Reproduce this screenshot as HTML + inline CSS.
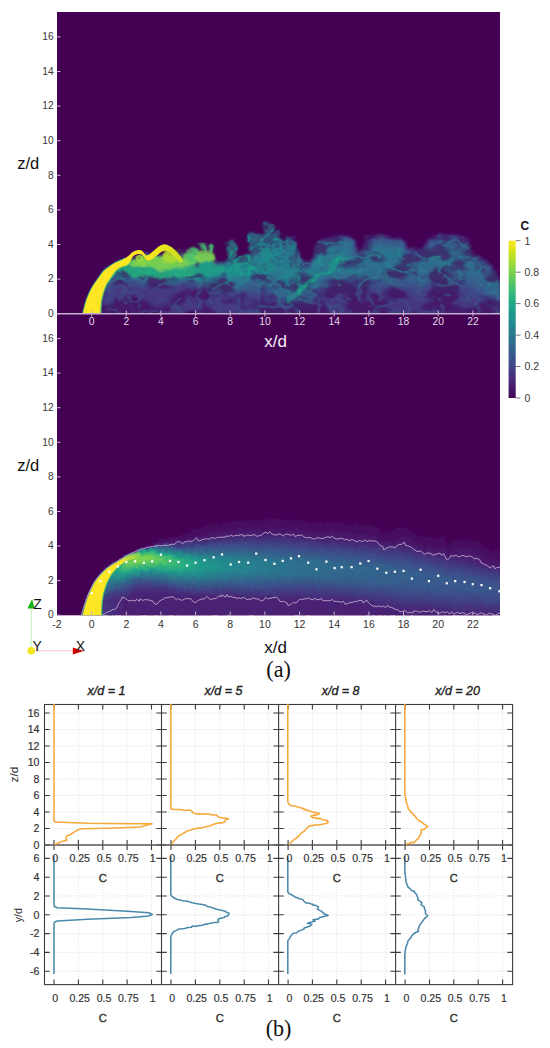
<!DOCTYPE html>
<html><head><meta charset="utf-8"><title>figure</title>
<style>html,body{margin:0;padding:0;background:#fff;width:550px;height:1048px;overflow:hidden}svg{display:block}</style>
</head><body>
<svg width="550" height="1048" viewBox="0 0 550 1048">
<defs><clipPath id="cA"><rect x="57" y="12" width="443" height="301.7"/></clipPath><clipPath id="cB"><rect x="57" y="314.5" width="443" height="300.8"/></clipPath><filter id="turb" x="57" y="150" width="443" height="170" filterUnits="userSpaceOnUse"><feTurbulence type="fractalNoise" baseFrequency="0.045 0.06" numOctaves="2" seed="3" result="n"/><feDisplacementMap in="SourceGraphic" in2="n" scale="13" xChannelSelector="R" yChannelSelector="G" result="d0"/><feGaussianBlur in="d0" stdDeviation="0.8" result="d"/><feTurbulence type="fractalNoise" baseFrequency="0.035 0.05" numOctaves="3" seed="11" result="n2"/><feColorMatrix in="n2" type="matrix" values="0 0 0 0 0  0 0 0 0 0  0 0 0 0 0  5 0 0 0 -1.9" result="m"/><feComposite in="d" in2="m" operator="in" result="dm"/><feTurbulence type="turbulence" baseFrequency="0.05 0.07" numOctaves="2" seed="17" result="n3"/><feColorMatrix in="n3" type="matrix" values="0 0 0 0 0  0 0 0 0 0  0 0 0 0 0  -7 0 0 0 1.3" result="v"/><feColorMatrix in="d" type="matrix" values="0.8 0 0 0 0  0 1.28 0 0 0.02  0 0 1.02 0 0  0 0 0 1 0" result="db"/><feComposite in="db" in2="v" operator="in" result="dv"/><feComponentTransfer in="d" result="dh"><feFuncA type="linear" slope="0.45"/></feComponentTransfer><feComponentTransfer in="dv" result="dv2"><feFuncA type="linear" slope="0.75"/></feComponentTransfer><feMerge result="mm"><feMergeNode in="dh"/><feMergeNode in="dm"/><feMergeNode in="dv2"/></feMerge><feGaussianBlur in="mm" stdDeviation="0.5"/></filter><filter id="feat" x="57" y="150" width="443" height="170" filterUnits="userSpaceOnUse"><feTurbulence type="fractalNoise" baseFrequency="0.08" numOctaves="2" seed="5" result="n"/><feDisplacementMap in="SourceGraphic" in2="n" scale="4" xChannelSelector="R" yChannelSelector="G" result="d"/><feGaussianBlur in="d" stdDeviation="0.9"/></filter><filter id="bl2" x="57" y="150" width="443" height="170" filterUnits="userSpaceOnUse"><feGaussianBlur stdDeviation="1.1" result="b"/><feTurbulence type="fractalNoise" baseFrequency="0.07 0.09" numOctaves="2" seed="21" result="n"/><feDisplacementMap in="b" in2="n" scale="10" xChannelSelector="R" yChannelSelector="G" result="d"/><feTurbulence type="turbulence" baseFrequency="0.08 0.1" numOctaves="2" seed="29" result="n4"/><feColorMatrix in="n4" type="matrix" values="0 0 0 0 0  0 0 0 0 0  0 0 0 0 0  -5 0 0 0 1.4" result="v4"/><feColorMatrix in="d" type="matrix" values="0.85 0 0 0 0  0 1.15 0 0 0.02  0 0 1.0 0 0  0 0 0 1 0" result="db"/><feComposite in="db" in2="v4" operator="in" result="dv"/><feComponentTransfer in="d" result="dh"><feFuncA type="linear" slope="0.72"/></feComponentTransfer><feMerge result="mm"><feMergeNode in="dh"/><feMergeNode in="dv"/></feMerge><feGaussianBlur in="mm" stdDeviation="0.6"/></filter><linearGradient id="g1" x2="0" y2="1"><stop offset="0.000" stop-color="#450457"/><stop offset="0.200" stop-color="#482374"/><stop offset="0.640" stop-color="#471365"/><stop offset="1.000" stop-color="#471365"/></linearGradient><linearGradient id="g2" x2="0" y2="1"><stop offset="0.000" stop-color="#440154"/><stop offset="0.024" stop-color="#450559"/><stop offset="0.098" stop-color="#443b84"/><stop offset="0.146" stop-color="#355e8d"/><stop offset="0.268" stop-color="#39558c"/><stop offset="0.415" stop-color="#463480"/><stop offset="1.000" stop-color="#463480"/></linearGradient><linearGradient id="g3" x2="0" y2="1"><stop offset="0.000" stop-color="#440154"/><stop offset="0.020" stop-color="#46085c"/><stop offset="0.061" stop-color="#472f7d"/><stop offset="0.102" stop-color="#32658e"/><stop offset="0.143" stop-color="#2a788e"/><stop offset="0.224" stop-color="#2a768e"/><stop offset="0.388" stop-color="#414287"/><stop offset="1.000" stop-color="#414287"/></linearGradient><linearGradient id="g4" x2="0" y2="1"><stop offset="0.000" stop-color="#450457"/><stop offset="0.040" stop-color="#482979"/><stop offset="0.080" stop-color="#355f8d"/><stop offset="0.100" stop-color="#2a768e"/><stop offset="0.160" stop-color="#26828e"/><stop offset="0.280" stop-color="#306a8e"/><stop offset="0.380" stop-color="#424186"/><stop offset="1.000" stop-color="#424186"/></linearGradient><linearGradient id="g5" x2="0" y2="1"><stop offset="0.000" stop-color="#440154"/><stop offset="0.019" stop-color="#470d60"/><stop offset="0.058" stop-color="#443b84"/><stop offset="0.096" stop-color="#2b748e"/><stop offset="0.135" stop-color="#24868e"/><stop offset="0.212" stop-color="#25848e"/><stop offset="0.385" stop-color="#3f4889"/><stop offset="0.423" stop-color="#423f85"/><stop offset="1.000" stop-color="#423f85"/></linearGradient><linearGradient id="g6" x2="0" y2="1"><stop offset="0.000" stop-color="#450559"/><stop offset="0.038" stop-color="#46337f"/><stop offset="0.075" stop-color="#2e6d8e"/><stop offset="0.094" stop-color="#25858e"/><stop offset="0.170" stop-color="#218f8d"/><stop offset="0.283" stop-color="#2b748e"/><stop offset="0.415" stop-color="#433e85"/><stop offset="1.000" stop-color="#433e85"/></linearGradient><linearGradient id="g7" x2="0" y2="1"><stop offset="0.000" stop-color="#440154"/><stop offset="0.036" stop-color="#472a7a"/><stop offset="0.073" stop-color="#32658e"/><stop offset="0.091" stop-color="#26828e"/><stop offset="0.127" stop-color="#1f948c"/><stop offset="0.218" stop-color="#218f8d"/><stop offset="0.382" stop-color="#3a538b"/><stop offset="0.436" stop-color="#443b84"/><stop offset="1.000" stop-color="#443b84"/></linearGradient><linearGradient id="g8" x2="0" y2="1"><stop offset="0.000" stop-color="#440256"/><stop offset="0.036" stop-color="#453882"/><stop offset="0.071" stop-color="#2b748e"/><stop offset="0.089" stop-color="#20928c"/><stop offset="0.161" stop-color="#1e9c89"/><stop offset="0.268" stop-color="#25848e"/><stop offset="0.446" stop-color="#443a83"/><stop offset="1.000" stop-color="#443a83"/></linearGradient><linearGradient id="g9" x2="0" y2="1"><stop offset="0.000" stop-color="#440154"/><stop offset="0.018" stop-color="#471164"/><stop offset="0.053" stop-color="#3e4989"/><stop offset="0.088" stop-color="#24878e"/><stop offset="0.123" stop-color="#1e9b8a"/><stop offset="0.211" stop-color="#1f998a"/><stop offset="0.368" stop-color="#34608d"/><stop offset="0.456" stop-color="#443a83"/><stop offset="1.000" stop-color="#443a83"/></linearGradient><linearGradient id="g10" x2="0" y2="1"><stop offset="0.000" stop-color="#440154"/><stop offset="0.017" stop-color="#46075a"/><stop offset="0.052" stop-color="#443b84"/><stop offset="0.086" stop-color="#29798e"/><stop offset="0.103" stop-color="#20928c"/><stop offset="0.172" stop-color="#1fa187"/><stop offset="0.276" stop-color="#228b8d"/><stop offset="0.448" stop-color="#423f85"/><stop offset="0.552" stop-color="#443983"/><stop offset="1.000" stop-color="#443983"/></linearGradient><linearGradient id="g11" x2="0" y2="1"><stop offset="0.000" stop-color="#440154"/><stop offset="0.034" stop-color="#472f7d"/><stop offset="0.069" stop-color="#2f6c8e"/><stop offset="0.086" stop-color="#228c8d"/><stop offset="0.138" stop-color="#1fa287"/><stop offset="0.224" stop-color="#1e9c89"/><stop offset="0.397" stop-color="#39558c"/><stop offset="0.466" stop-color="#443983"/><stop offset="1.000" stop-color="#443983"/></linearGradient><linearGradient id="g12" x2="0" y2="1"><stop offset="0.000" stop-color="#440154"/><stop offset="0.017" stop-color="#460a5d"/><stop offset="0.051" stop-color="#423f85"/><stop offset="0.085" stop-color="#277e8e"/><stop offset="0.102" stop-color="#20938c"/><stop offset="0.153" stop-color="#21a685"/><stop offset="0.254" stop-color="#1f978b"/><stop offset="0.424" stop-color="#3e4c8a"/><stop offset="0.475" stop-color="#453882"/><stop offset="1.000" stop-color="#453882"/></linearGradient><linearGradient id="g13" x2="0" y2="1"><stop offset="0.000" stop-color="#440256"/><stop offset="0.034" stop-color="#46327e"/><stop offset="0.068" stop-color="#2d708e"/><stop offset="0.085" stop-color="#218f8d"/><stop offset="0.153" stop-color="#23a983"/><stop offset="0.254" stop-color="#1f988b"/><stop offset="0.424" stop-color="#3e4a89"/><stop offset="0.475" stop-color="#453882"/><stop offset="1.000" stop-color="#453882"/></linearGradient><linearGradient id="g14" x2="0" y2="1"><stop offset="0.000" stop-color="#440154"/><stop offset="0.017" stop-color="#470e61"/><stop offset="0.050" stop-color="#414287"/><stop offset="0.083" stop-color="#26828e"/><stop offset="0.117" stop-color="#1f9e89"/><stop offset="0.167" stop-color="#25ac82"/><stop offset="0.250" stop-color="#1f9e89"/><stop offset="0.417" stop-color="#3b518b"/><stop offset="0.467" stop-color="#443983"/><stop offset="1.000" stop-color="#453882"/></linearGradient><linearGradient id="g15" x2="0" y2="1"><stop offset="0.000" stop-color="#450457"/><stop offset="0.033" stop-color="#46337f"/><stop offset="0.067" stop-color="#2d708e"/><stop offset="0.083" stop-color="#228c8d"/><stop offset="0.150" stop-color="#25ac82"/><stop offset="0.233" stop-color="#20a386"/><stop offset="0.350" stop-color="#2c738e"/><stop offset="0.483" stop-color="#453781"/><stop offset="1.000" stop-color="#453781"/></linearGradient><linearGradient id="g16" x2="0" y2="1"><stop offset="0.000" stop-color="#440154"/><stop offset="0.016" stop-color="#470d60"/><stop offset="0.049" stop-color="#433d84"/><stop offset="0.082" stop-color="#297b8e"/><stop offset="0.115" stop-color="#1f988b"/><stop offset="0.180" stop-color="#26ad81"/><stop offset="0.279" stop-color="#1f9a8a"/><stop offset="0.443" stop-color="#3d4d8a"/><stop offset="0.492" stop-color="#453781"/><stop offset="1.000" stop-color="#453781"/></linearGradient><linearGradient id="g17" x2="0" y2="1"><stop offset="0.000" stop-color="#440256"/><stop offset="0.033" stop-color="#472d7b"/><stop offset="0.066" stop-color="#31668e"/><stop offset="0.082" stop-color="#25838e"/><stop offset="0.148" stop-color="#22a785"/><stop offset="0.213" stop-color="#25ab82"/><stop offset="0.311" stop-color="#218e8d"/><stop offset="0.475" stop-color="#424086"/><stop offset="0.541" stop-color="#453781"/><stop offset="1.000" stop-color="#453781"/></linearGradient><linearGradient id="g18" x2="0" y2="1"><stop offset="0.000" stop-color="#440154"/><stop offset="0.016" stop-color="#460a5d"/><stop offset="0.048" stop-color="#453581"/><stop offset="0.081" stop-color="#2d718e"/><stop offset="0.113" stop-color="#21908d"/><stop offset="0.177" stop-color="#25ac82"/><stop offset="0.274" stop-color="#1fa188"/><stop offset="0.419" stop-color="#33628d"/><stop offset="0.516" stop-color="#453781"/><stop offset="1.000" stop-color="#453781"/></linearGradient><linearGradient id="g19" x2="0" y2="1"><stop offset="0.000" stop-color="#440154"/><stop offset="0.032" stop-color="#482677"/><stop offset="0.065" stop-color="#365d8d"/><stop offset="0.081" stop-color="#297a8e"/><stop offset="0.145" stop-color="#1fa287"/><stop offset="0.210" stop-color="#26ad81"/><stop offset="0.306" stop-color="#1f968b"/><stop offset="0.484" stop-color="#404588"/><stop offset="0.532" stop-color="#453781"/><stop offset="1.000" stop-color="#453781"/></linearGradient><linearGradient id="g20" x2="0" y2="1"><stop offset="0.000" stop-color="#440154"/><stop offset="0.016" stop-color="#46075a"/><stop offset="0.048" stop-color="#472f7d"/><stop offset="0.079" stop-color="#31678e"/><stop offset="0.111" stop-color="#24878e"/><stop offset="0.175" stop-color="#22a884"/><stop offset="0.254" stop-color="#23a983"/><stop offset="0.349" stop-color="#238a8d"/><stop offset="0.508" stop-color="#424086"/><stop offset="0.571" stop-color="#453781"/><stop offset="1.000" stop-color="#453781"/></linearGradient><linearGradient id="g21" x2="0" y2="1"><stop offset="0.000" stop-color="#440154"/><stop offset="0.032" stop-color="#482173"/><stop offset="0.063" stop-color="#3a538b"/><stop offset="0.079" stop-color="#2d718e"/><stop offset="0.159" stop-color="#1fa287"/><stop offset="0.222" stop-color="#26ad81"/><stop offset="0.333" stop-color="#20928c"/><stop offset="0.508" stop-color="#414487"/><stop offset="0.556" stop-color="#453781"/><stop offset="1.000" stop-color="#453781"/></linearGradient><linearGradient id="g22" x2="0" y2="1"><stop offset="0.000" stop-color="#440154"/><stop offset="0.016" stop-color="#450559"/><stop offset="0.062" stop-color="#424186"/><stop offset="0.094" stop-color="#2c728e"/><stop offset="0.172" stop-color="#1fa187"/><stop offset="0.234" stop-color="#25ab82"/><stop offset="0.344" stop-color="#21918c"/><stop offset="0.516" stop-color="#404588"/><stop offset="0.562" stop-color="#453781"/><stop offset="1.000" stop-color="#453781"/></linearGradient><linearGradient id="g23" x2="0" y2="1"><stop offset="0.000" stop-color="#440154"/><stop offset="0.031" stop-color="#481c6e"/><stop offset="0.062" stop-color="#3e4989"/><stop offset="0.078" stop-color="#32658e"/><stop offset="0.172" stop-color="#1fa088"/><stop offset="0.250" stop-color="#22a785"/><stop offset="0.375" stop-color="#25838e"/><stop offset="0.562" stop-color="#453781"/><stop offset="1.000" stop-color="#453781"/></linearGradient><linearGradient id="g24" x2="0" y2="1"><stop offset="0.000" stop-color="#450457"/><stop offset="0.047" stop-color="#443983"/><stop offset="0.078" stop-color="#31688e"/><stop offset="0.172" stop-color="#1e9d89"/><stop offset="0.234" stop-color="#21a585"/><stop offset="0.359" stop-color="#23898e"/><stop offset="0.531" stop-color="#424086"/><stop offset="0.594" stop-color="#453781"/><stop offset="1.000" stop-color="#453781"/></linearGradient><linearGradient id="g25" x2="0" y2="1"><stop offset="0.000" stop-color="#440154"/><stop offset="0.031" stop-color="#48186a"/><stop offset="0.062" stop-color="#424086"/><stop offset="0.077" stop-color="#375a8c"/><stop offset="0.169" stop-color="#1f958b"/><stop offset="0.246" stop-color="#20a386"/><stop offset="0.369" stop-color="#23888e"/><stop offset="0.554" stop-color="#443b84"/><stop offset="1.000" stop-color="#453781"/></linearGradient><linearGradient id="g26" x2="0" y2="1"><stop offset="0.000" stop-color="#440256"/><stop offset="0.046" stop-color="#46307e"/><stop offset="0.077" stop-color="#355e8d"/><stop offset="0.185" stop-color="#1f998a"/><stop offset="0.262" stop-color="#1fa088"/><stop offset="0.400" stop-color="#287c8e"/><stop offset="0.569" stop-color="#453781"/><stop offset="1.000" stop-color="#453781"/></linearGradient><linearGradient id="g27" x2="0" y2="1"><stop offset="0.000" stop-color="#440154"/><stop offset="0.030" stop-color="#481467"/><stop offset="0.076" stop-color="#3c4f8a"/><stop offset="0.167" stop-color="#228b8d"/><stop offset="0.242" stop-color="#1f9f88"/><stop offset="0.364" stop-color="#238a8d"/><stop offset="0.561" stop-color="#433e85"/><stop offset="0.652" stop-color="#453781"/><stop offset="1.000" stop-color="#453781"/></linearGradient><linearGradient id="g28" x2="0" y2="1"><stop offset="0.000" stop-color="#440154"/><stop offset="0.045" stop-color="#482878"/><stop offset="0.076" stop-color="#3a538b"/><stop offset="0.182" stop-color="#21908d"/><stop offset="0.258" stop-color="#1e9c89"/><stop offset="0.379" stop-color="#25848e"/><stop offset="0.576" stop-color="#443a83"/><stop offset="1.000" stop-color="#453781"/></linearGradient><linearGradient id="g29" x2="0" y2="1"><stop offset="0.000" stop-color="#450457"/><stop offset="0.046" stop-color="#46327e"/><stop offset="0.077" stop-color="#365c8d"/><stop offset="0.185" stop-color="#20928c"/><stop offset="0.262" stop-color="#1f998a"/><stop offset="0.400" stop-color="#297b8e"/><stop offset="0.585" stop-color="#453781"/><stop offset="1.000" stop-color="#453781"/></linearGradient><linearGradient id="g30" x2="0" y2="1"><stop offset="0.000" stop-color="#440154"/><stop offset="0.031" stop-color="#481769"/><stop offset="0.077" stop-color="#3a548c"/><stop offset="0.169" stop-color="#23898e"/><stop offset="0.246" stop-color="#1f988b"/><stop offset="0.369" stop-color="#25858e"/><stop offset="0.585" stop-color="#443a83"/><stop offset="1.000" stop-color="#453781"/></linearGradient><linearGradient id="g31" x2="0" y2="1"><stop offset="0.000" stop-color="#440154"/><stop offset="0.047" stop-color="#46337f"/><stop offset="0.078" stop-color="#34608d"/><stop offset="0.188" stop-color="#21918c"/><stop offset="0.281" stop-color="#20938c"/><stop offset="0.438" stop-color="#2e6f8e"/><stop offset="0.609" stop-color="#453781"/><stop offset="1.000" stop-color="#453781"/></linearGradient><linearGradient id="g32" x2="0" y2="1"><stop offset="0.000" stop-color="#440154"/><stop offset="0.016" stop-color="#46075a"/><stop offset="0.062" stop-color="#433e85"/><stop offset="0.094" stop-color="#31668e"/><stop offset="0.203" stop-color="#20928c"/><stop offset="0.328" stop-color="#228c8d"/><stop offset="0.562" stop-color="#404588"/><stop offset="0.625" stop-color="#453781"/><stop offset="1.000" stop-color="#453781"/></linearGradient><linearGradient id="g33" x2="0" y2="1"><stop offset="0.000" stop-color="#440154"/><stop offset="0.048" stop-color="#46337f"/><stop offset="0.079" stop-color="#33628d"/><stop offset="0.175" stop-color="#228b8d"/><stop offset="0.270" stop-color="#20928c"/><stop offset="0.444" stop-color="#2f6c8e"/><stop offset="0.619" stop-color="#453781"/><stop offset="1.000" stop-color="#453781"/></linearGradient><linearGradient id="g34" x2="0" y2="1"><stop offset="0.000" stop-color="#450457"/><stop offset="0.048" stop-color="#433e85"/><stop offset="0.081" stop-color="#30698e"/><stop offset="0.194" stop-color="#218f8d"/><stop offset="0.323" stop-color="#23888e"/><stop offset="0.581" stop-color="#423f85"/><stop offset="0.645" stop-color="#453781"/><stop offset="1.000" stop-color="#453781"/></linearGradient><linearGradient id="g35" x2="0" y2="1"><stop offset="0.000" stop-color="#440154"/><stop offset="0.016" stop-color="#46075a"/><stop offset="0.065" stop-color="#414487"/><stop offset="0.097" stop-color="#2f6c8e"/><stop offset="0.194" stop-color="#228c8d"/><stop offset="0.323" stop-color="#23888e"/><stop offset="0.565" stop-color="#3f4788"/><stop offset="0.629" stop-color="#453882"/><stop offset="1.000" stop-color="#453882"/></linearGradient><linearGradient id="g36" x2="0" y2="1"><stop offset="0.000" stop-color="#440154"/><stop offset="0.016" stop-color="#46075a"/><stop offset="0.066" stop-color="#414487"/><stop offset="0.098" stop-color="#2f6c8e"/><stop offset="0.197" stop-color="#238a8d"/><stop offset="0.328" stop-color="#25858e"/><stop offset="0.574" stop-color="#404588"/><stop offset="0.639" stop-color="#453882"/><stop offset="1.000" stop-color="#453882"/></linearGradient><linearGradient id="g37" x2="0" y2="1"><stop offset="0.000" stop-color="#440154"/><stop offset="0.017" stop-color="#46075a"/><stop offset="0.067" stop-color="#414287"/><stop offset="0.100" stop-color="#2f6c8e"/><stop offset="0.200" stop-color="#23898e"/><stop offset="0.333" stop-color="#26828e"/><stop offset="0.583" stop-color="#414287"/><stop offset="0.633" stop-color="#453882"/><stop offset="1.000" stop-color="#453882"/></linearGradient><linearGradient id="g38" x2="0" y2="1"><stop offset="0.000" stop-color="#440154"/><stop offset="0.017" stop-color="#450559"/><stop offset="0.068" stop-color="#414287"/><stop offset="0.102" stop-color="#2f6c8e"/><stop offset="0.203" stop-color="#24878e"/><stop offset="0.356" stop-color="#287d8e"/><stop offset="0.627" stop-color="#443983"/><stop offset="1.000" stop-color="#443983"/></linearGradient><linearGradient id="g39" x2="0" y2="1"><stop offset="0.000" stop-color="#450559"/><stop offset="0.053" stop-color="#424186"/><stop offset="0.088" stop-color="#2f6c8e"/><stop offset="0.193" stop-color="#25858e"/><stop offset="0.333" stop-color="#287d8e"/><stop offset="0.632" stop-color="#443983"/><stop offset="1.000" stop-color="#443983"/></linearGradient><linearGradient id="g40" x2="0" y2="1"><stop offset="0.000" stop-color="#450457"/><stop offset="0.054" stop-color="#424186"/><stop offset="0.089" stop-color="#2f6c8e"/><stop offset="0.214" stop-color="#25848e"/><stop offset="0.411" stop-color="#2e6e8e"/><stop offset="0.625" stop-color="#443a83"/><stop offset="1.000" stop-color="#443a83"/></linearGradient><linearGradient id="g41" x2="0" y2="1"><stop offset="0.000" stop-color="#440256"/><stop offset="0.055" stop-color="#424086"/><stop offset="0.091" stop-color="#2f6c8e"/><stop offset="0.200" stop-color="#26828e"/><stop offset="0.364" stop-color="#2b758e"/><stop offset="0.636" stop-color="#443a83"/><stop offset="1.000" stop-color="#443a83"/></linearGradient><linearGradient id="g42" x2="0" y2="1"><stop offset="0.000" stop-color="#440154"/><stop offset="0.055" stop-color="#433d84"/><stop offset="0.091" stop-color="#2f6b8e"/><stop offset="0.200" stop-color="#26818e"/><stop offset="0.364" stop-color="#2b758e"/><stop offset="0.636" stop-color="#443a83"/><stop offset="1.000" stop-color="#443a83"/></linearGradient><linearGradient id="g43" x2="0" y2="1"><stop offset="0.000" stop-color="#440154"/><stop offset="0.055" stop-color="#433d84"/><stop offset="0.091" stop-color="#2f6b8e"/><stop offset="0.200" stop-color="#26818e"/><stop offset="0.382" stop-color="#2c728e"/><stop offset="0.636" stop-color="#443b84"/><stop offset="1.000" stop-color="#443b84"/></linearGradient><linearGradient id="g44" x2="0" y2="1"><stop offset="0.000" stop-color="#440154"/><stop offset="0.055" stop-color="#433e85"/><stop offset="0.091" stop-color="#2f6c8e"/><stop offset="0.200" stop-color="#26818e"/><stop offset="0.382" stop-color="#2c728e"/><stop offset="0.636" stop-color="#443b84"/><stop offset="1.000" stop-color="#443b84"/></linearGradient><linearGradient id="g45" x2="0" y2="1"><stop offset="0.000" stop-color="#440154"/><stop offset="0.055" stop-color="#433e85"/><stop offset="0.091" stop-color="#2f6c8e"/><stop offset="0.218" stop-color="#26818e"/><stop offset="0.418" stop-color="#2f6c8e"/><stop offset="0.636" stop-color="#443b84"/><stop offset="1.000" stop-color="#443b84"/></linearGradient><linearGradient id="g46" x2="0" y2="1"><stop offset="0.000" stop-color="#440154"/><stop offset="0.055" stop-color="#433e85"/><stop offset="0.091" stop-color="#2f6c8e"/><stop offset="0.218" stop-color="#27808e"/><stop offset="0.400" stop-color="#2d708e"/><stop offset="0.655" stop-color="#433d84"/><stop offset="1.000" stop-color="#433d84"/></linearGradient><linearGradient id="g47" x2="0" y2="1"><stop offset="0.000" stop-color="#440154"/><stop offset="0.055" stop-color="#423f85"/><stop offset="0.091" stop-color="#2f6c8e"/><stop offset="0.218" stop-color="#27808e"/><stop offset="0.436" stop-color="#30698e"/><stop offset="0.655" stop-color="#433d84"/><stop offset="1.000" stop-color="#433d84"/></linearGradient><linearGradient id="g48" x2="0" y2="1"><stop offset="0.000" stop-color="#450457"/><stop offset="0.055" stop-color="#414287"/><stop offset="0.091" stop-color="#2e6d8e"/><stop offset="0.218" stop-color="#277f8e"/><stop offset="0.400" stop-color="#2d708e"/><stop offset="0.655" stop-color="#433e85"/><stop offset="1.000" stop-color="#433e85"/></linearGradient><linearGradient id="g49" x2="0" y2="1"><stop offset="0.000" stop-color="#450457"/><stop offset="0.054" stop-color="#424186"/><stop offset="0.089" stop-color="#2f6c8e"/><stop offset="0.214" stop-color="#277f8e"/><stop offset="0.411" stop-color="#2e6e8e"/><stop offset="0.661" stop-color="#433e85"/><stop offset="1.000" stop-color="#433e85"/></linearGradient><linearGradient id="g50" x2="0" y2="1"><stop offset="0.000" stop-color="#450457"/><stop offset="0.053" stop-color="#424186"/><stop offset="0.088" stop-color="#2f6b8e"/><stop offset="0.211" stop-color="#277e8e"/><stop offset="0.404" stop-color="#2d708e"/><stop offset="0.667" stop-color="#423f85"/><stop offset="1.000" stop-color="#423f85"/></linearGradient><linearGradient id="g51" x2="0" y2="1"><stop offset="0.000" stop-color="#450457"/><stop offset="0.052" stop-color="#424086"/><stop offset="0.086" stop-color="#306a8e"/><stop offset="0.224" stop-color="#277e8e"/><stop offset="0.431" stop-color="#2f6c8e"/><stop offset="0.672" stop-color="#423f85"/><stop offset="1.000" stop-color="#423f85"/></linearGradient><linearGradient id="g52" x2="0" y2="1"><stop offset="0.000" stop-color="#450457"/><stop offset="0.051" stop-color="#424086"/><stop offset="0.085" stop-color="#30698e"/><stop offset="0.220" stop-color="#287d8e"/><stop offset="0.424" stop-color="#2e6e8e"/><stop offset="0.678" stop-color="#424086"/><stop offset="1.000" stop-color="#424086"/></linearGradient><linearGradient id="g53" x2="0" y2="1"><stop offset="0.000" stop-color="#440154"/><stop offset="0.016" stop-color="#460a5d"/><stop offset="0.066" stop-color="#404688"/><stop offset="0.098" stop-color="#31688e"/><stop offset="0.230" stop-color="#287d8e"/><stop offset="0.443" stop-color="#2e6d8e"/><stop offset="0.689" stop-color="#424086"/><stop offset="1.000" stop-color="#424086"/></linearGradient><linearGradient id="g54" x2="0" y2="1"><stop offset="0.000" stop-color="#440154"/><stop offset="0.016" stop-color="#46085c"/><stop offset="0.062" stop-color="#414287"/><stop offset="0.094" stop-color="#33638d"/><stop offset="0.234" stop-color="#287c8e"/><stop offset="0.453" stop-color="#2e6f8e"/><stop offset="0.719" stop-color="#424186"/><stop offset="1.000" stop-color="#424186"/></linearGradient><linearGradient id="g55" x2="0" y2="1"><stop offset="0.000" stop-color="#440154"/><stop offset="0.015" stop-color="#46085c"/><stop offset="0.060" stop-color="#423f85"/><stop offset="0.090" stop-color="#355f8d"/><stop offset="0.239" stop-color="#287c8e"/><stop offset="0.463" stop-color="#2d708e"/><stop offset="0.731" stop-color="#414287"/><stop offset="1.000" stop-color="#414287"/></linearGradient><linearGradient id="g56" x2="0" y2="1"><stop offset="0.000" stop-color="#440154"/><stop offset="0.029" stop-color="#48186a"/><stop offset="0.071" stop-color="#3c4f8a"/><stop offset="0.129" stop-color="#31668e"/><stop offset="0.271" stop-color="#287d8e"/><stop offset="0.514" stop-color="#2f6b8e"/><stop offset="0.757" stop-color="#414487"/><stop offset="1.000" stop-color="#414487"/></linearGradient><linearGradient id="g57" x2="0" y2="1"><stop offset="0.000" stop-color="#440154"/><stop offset="0.014" stop-color="#450559"/><stop offset="0.056" stop-color="#453882"/><stop offset="0.085" stop-color="#38598c"/><stop offset="0.254" stop-color="#297b8e"/><stop offset="0.465" stop-color="#2c728e"/><stop offset="0.761" stop-color="#414487"/><stop offset="1.000" stop-color="#414487"/></linearGradient><linearGradient id="g58" x2="0" y2="1"><stop offset="0.000" stop-color="#440154"/><stop offset="0.042" stop-color="#472d7b"/><stop offset="0.070" stop-color="#3b528b"/><stop offset="0.197" stop-color="#2b748e"/><stop offset="0.352" stop-color="#287c8e"/><stop offset="0.606" stop-color="#355f8d"/><stop offset="0.775" stop-color="#414487"/><stop offset="1.000" stop-color="#414487"/></linearGradient><linearGradient id="g59" x2="0" y2="1"><stop offset="0.000" stop-color="#440256"/><stop offset="0.042" stop-color="#463480"/><stop offset="0.070" stop-color="#38588c"/><stop offset="0.239" stop-color="#297a8e"/><stop offset="0.451" stop-color="#2b758e"/><stop offset="0.789" stop-color="#414487"/><stop offset="1.000" stop-color="#414487"/></linearGradient><linearGradient id="g60" x2="0" y2="1"><stop offset="0.000" stop-color="#440154"/><stop offset="0.014" stop-color="#46085c"/><stop offset="0.056" stop-color="#443b84"/><stop offset="0.083" stop-color="#38598c"/><stop offset="0.250" stop-color="#297a8e"/><stop offset="0.458" stop-color="#2b758e"/><stop offset="0.806" stop-color="#414487"/><stop offset="1.000" stop-color="#414487"/></linearGradient><linearGradient id="g61" x2="0" y2="1"><stop offset="0.000" stop-color="#440154"/><stop offset="0.042" stop-color="#46307e"/><stop offset="0.069" stop-color="#39558c"/><stop offset="0.236" stop-color="#29798e"/><stop offset="0.444" stop-color="#2a778e"/><stop offset="0.819" stop-color="#414487"/><stop offset="1.000" stop-color="#414487"/></linearGradient><linearGradient id="g62" x2="0" y2="1"><stop offset="0.000" stop-color="#450457"/><stop offset="0.041" stop-color="#46337f"/><stop offset="0.068" stop-color="#3a538b"/><stop offset="0.260" stop-color="#287c8e"/><stop offset="0.466" stop-color="#29798e"/><stop offset="0.849" stop-color="#414487"/><stop offset="1.000" stop-color="#414487"/></linearGradient><linearGradient id="g63" x2="0" y2="1"><stop offset="0.000" stop-color="#440154"/><stop offset="0.040" stop-color="#482878"/><stop offset="0.067" stop-color="#3f4889"/><stop offset="0.253" stop-color="#297a8e"/><stop offset="0.427" stop-color="#26818e"/><stop offset="0.720" stop-color="#355e8d"/><stop offset="0.893" stop-color="#414487"/><stop offset="1.000" stop-color="#414487"/></linearGradient><linearGradient id="g64" x2="0" y2="1"><stop offset="0.000" stop-color="#440256"/><stop offset="0.053" stop-color="#443a83"/><stop offset="0.079" stop-color="#3e4c8a"/><stop offset="0.289" stop-color="#277f8e"/><stop offset="0.461" stop-color="#25838e"/><stop offset="0.763" stop-color="#365d8d"/><stop offset="0.921" stop-color="#414487"/><stop offset="1.000" stop-color="#414487"/></linearGradient><linearGradient id="g65" x2="0" y2="1"><stop offset="0.000" stop-color="#440154"/><stop offset="0.051" stop-color="#472e7c"/><stop offset="0.077" stop-color="#414487"/><stop offset="0.308" stop-color="#27808e"/><stop offset="0.474" stop-color="#24878e"/><stop offset="0.769" stop-color="#33638d"/><stop offset="0.962" stop-color="#414487"/><stop offset="1.000" stop-color="#414487"/></linearGradient><linearGradient id="g66" x2="0" y2="1"><stop offset="0.000" stop-color="#440154"/><stop offset="0.027" stop-color="#471365"/><stop offset="0.068" stop-color="#433e85"/><stop offset="0.122" stop-color="#3a548c"/><stop offset="0.324" stop-color="#26828e"/><stop offset="0.514" stop-color="#26828e"/><stop offset="0.851" stop-color="#3b518b"/><stop offset="0.973" stop-color="#424086"/><stop offset="1.000" stop-color="#424086"/></linearGradient><linearGradient id="g67" x2="0" y2="1"><stop offset="0.000" stop-color="#440154"/><stop offset="0.059" stop-color="#433e85"/><stop offset="0.074" stop-color="#3d4e8a"/><stop offset="0.294" stop-color="#26818e"/><stop offset="0.485" stop-color="#26818e"/><stop offset="0.794" stop-color="#38588c"/><stop offset="0.971" stop-color="#433d84"/><stop offset="1.000" stop-color="#433d84"/></linearGradient><linearGradient id="g68" x2="0" y2="1"><stop offset="0.000" stop-color="#440154"/><stop offset="0.048" stop-color="#472c7a"/><stop offset="0.079" stop-color="#3c508b"/><stop offset="0.190" stop-color="#2d718e"/><stop offset="0.349" stop-color="#26828e"/><stop offset="0.619" stop-color="#2e6f8e"/><stop offset="0.968" stop-color="#443983"/><stop offset="1.000" stop-color="#443983"/></linearGradient><linearGradient id="g69" x2="0" y2="1"><stop offset="0.000" stop-color="#450457"/><stop offset="0.051" stop-color="#443b84"/><stop offset="0.085" stop-color="#355f8d"/><stop offset="0.271" stop-color="#277f8e"/><stop offset="0.508" stop-color="#2a778e"/><stop offset="0.966" stop-color="#453781"/><stop offset="1.000" stop-color="#453781"/></linearGradient><linearGradient id="g70" x2="0" y2="1"><stop offset="0.000" stop-color="#440154"/><stop offset="0.052" stop-color="#463480"/><stop offset="0.086" stop-color="#365d8d"/><stop offset="0.224" stop-color="#297a8e"/><stop offset="0.448" stop-color="#297a8e"/><stop offset="0.828" stop-color="#3f4788"/><stop offset="0.966" stop-color="#453781"/><stop offset="1.000" stop-color="#453781"/></linearGradient><linearGradient id="g71" x2="0" y2="1"><stop offset="0.000" stop-color="#440154"/><stop offset="0.018" stop-color="#450559"/><stop offset="0.070" stop-color="#414287"/><stop offset="0.105" stop-color="#31688e"/><stop offset="0.298" stop-color="#287d8e"/><stop offset="0.596" stop-color="#30698e"/><stop offset="0.947" stop-color="#453781"/><stop offset="1.000" stop-color="#453781"/></linearGradient><linearGradient id="g72" x2="0" y2="1"><stop offset="0.000" stop-color="#440154"/><stop offset="0.016" stop-color="#450559"/><stop offset="0.063" stop-color="#424186"/><stop offset="0.095" stop-color="#32658e"/><stop offset="0.270" stop-color="#287d8e"/><stop offset="0.540" stop-color="#2f6c8e"/><stop offset="0.905" stop-color="#453781"/><stop offset="1.000" stop-color="#453781"/></linearGradient><linearGradient id="g73" x2="0" y2="1"><stop offset="0.000" stop-color="#440154"/><stop offset="0.043" stop-color="#463480"/><stop offset="0.071" stop-color="#365c8d"/><stop offset="0.200" stop-color="#29798e"/><stop offset="0.400" stop-color="#2a778e"/><stop offset="0.743" stop-color="#404588"/><stop offset="0.857" stop-color="#453781"/><stop offset="1.000" stop-color="#453781"/></linearGradient><linearGradient id="g74" x2="0" y2="1"><stop offset="0.000" stop-color="#450457"/><stop offset="0.039" stop-color="#443b84"/><stop offset="0.066" stop-color="#355f8d"/><stop offset="0.224" stop-color="#287c8e"/><stop offset="0.434" stop-color="#2c728e"/><stop offset="0.816" stop-color="#453781"/><stop offset="1.000" stop-color="#453781"/></linearGradient><linearGradient id="g75" x2="0" y2="1"><stop offset="0.000" stop-color="#440154"/><stop offset="0.013" stop-color="#46085c"/><stop offset="0.051" stop-color="#424086"/><stop offset="0.077" stop-color="#355f8d"/><stop offset="0.231" stop-color="#287c8e"/><stop offset="0.436" stop-color="#2c728e"/><stop offset="0.808" stop-color="#453781"/><stop offset="1.000" stop-color="#453781"/></linearGradient><linearGradient id="g76" x2="0" y2="1"><stop offset="0.000" stop-color="#440154"/><stop offset="0.038" stop-color="#46307e"/><stop offset="0.063" stop-color="#39568c"/><stop offset="0.152" stop-color="#2c718e"/><stop offset="0.291" stop-color="#287d8e"/><stop offset="0.532" stop-color="#32648e"/><stop offset="0.785" stop-color="#453781"/><stop offset="1.000" stop-color="#453781"/></linearGradient><linearGradient id="g77" x2="0" y2="1"><stop offset="0.000" stop-color="#440154"/><stop offset="0.037" stop-color="#463480"/><stop offset="0.062" stop-color="#375b8d"/><stop offset="0.225" stop-color="#287c8e"/><stop offset="0.425" stop-color="#2c728e"/><stop offset="0.787" stop-color="#453781"/><stop offset="1.000" stop-color="#453781"/></linearGradient><linearGradient id="g78" x2="0" y2="1"><stop offset="0.000" stop-color="#440154"/><stop offset="0.037" stop-color="#463480"/><stop offset="0.062" stop-color="#375a8c"/><stop offset="0.210" stop-color="#297a8e"/><stop offset="0.407" stop-color="#2b748e"/><stop offset="0.778" stop-color="#453781"/><stop offset="1.000" stop-color="#453781"/></linearGradient><linearGradient id="g79" x2="0" y2="1"><stop offset="0.000" stop-color="#440154"/><stop offset="0.012" stop-color="#46085c"/><stop offset="0.049" stop-color="#433e85"/><stop offset="0.074" stop-color="#365d8d"/><stop offset="0.235" stop-color="#287c8e"/><stop offset="0.457" stop-color="#2e6f8e"/><stop offset="0.778" stop-color="#453781"/><stop offset="1.000" stop-color="#453781"/></linearGradient><linearGradient id="g80" x2="0" y2="1"><stop offset="0.000" stop-color="#440154"/><stop offset="0.037" stop-color="#453581"/><stop offset="0.062" stop-color="#365c8d"/><stop offset="0.225" stop-color="#297b8e"/><stop offset="0.425" stop-color="#2c718e"/><stop offset="0.787" stop-color="#453781"/><stop offset="1.000" stop-color="#453781"/></linearGradient><linearGradient id="g81" x2="0" y2="1"><stop offset="0.000" stop-color="#440154"/><stop offset="0.013" stop-color="#460a5d"/><stop offset="0.050" stop-color="#424086"/><stop offset="0.075" stop-color="#355e8d"/><stop offset="0.237" stop-color="#297b8e"/><stop offset="0.450" stop-color="#2e6f8e"/><stop offset="0.775" stop-color="#453781"/><stop offset="1.000" stop-color="#453781"/></linearGradient><linearGradient id="g82" x2="0" y2="1"><stop offset="0.000" stop-color="#440256"/><stop offset="0.038" stop-color="#453882"/><stop offset="0.063" stop-color="#365c8d"/><stop offset="0.228" stop-color="#297b8e"/><stop offset="0.443" stop-color="#2e6f8e"/><stop offset="0.772" stop-color="#453781"/><stop offset="1.000" stop-color="#453781"/></linearGradient><linearGradient id="g83" x2="0" y2="1"><stop offset="0.000" stop-color="#440154"/><stop offset="0.025" stop-color="#481d6f"/><stop offset="0.063" stop-color="#39558c"/><stop offset="0.114" stop-color="#31688e"/><stop offset="0.253" stop-color="#297b8e"/><stop offset="0.494" stop-color="#31688e"/><stop offset="0.785" stop-color="#453781"/><stop offset="1.000" stop-color="#453781"/></linearGradient><linearGradient id="g84" x2="0" y2="1"><stop offset="0.000" stop-color="#450457"/><stop offset="0.038" stop-color="#443a83"/><stop offset="0.064" stop-color="#365d8d"/><stop offset="0.218" stop-color="#29798e"/><stop offset="0.423" stop-color="#2d718e"/><stop offset="0.782" stop-color="#453781"/><stop offset="1.000" stop-color="#453781"/></linearGradient><linearGradient id="g85" x2="0" y2="1"><stop offset="0.000" stop-color="#440154"/><stop offset="0.039" stop-color="#46327e"/><stop offset="0.066" stop-color="#38598c"/><stop offset="0.197" stop-color="#2a768e"/><stop offset="0.408" stop-color="#2c718e"/><stop offset="0.789" stop-color="#453781"/><stop offset="1.000" stop-color="#453781"/></linearGradient><linearGradient id="g86" x2="0" y2="1"><stop offset="0.000" stop-color="#450457"/><stop offset="0.042" stop-color="#433d84"/><stop offset="0.070" stop-color="#355f8d"/><stop offset="0.225" stop-color="#2a768e"/><stop offset="0.493" stop-color="#32648e"/><stop offset="0.775" stop-color="#453781"/><stop offset="1.000" stop-color="#453781"/></linearGradient><linearGradient id="g87" x2="0" y2="1"><stop offset="0.000" stop-color="#440154"/><stop offset="0.045" stop-color="#46337f"/><stop offset="0.075" stop-color="#375b8d"/><stop offset="0.194" stop-color="#2c718e"/><stop offset="0.418" stop-color="#2f6b8e"/><stop offset="0.776" stop-color="#453781"/><stop offset="1.000" stop-color="#453781"/></linearGradient><linearGradient id="g88" x2="0" y2="1"><stop offset="0.000" stop-color="#440154"/><stop offset="0.043" stop-color="#46337f"/><stop offset="0.071" stop-color="#38598c"/><stop offset="0.171" stop-color="#2d708e"/><stop offset="0.371" stop-color="#2d708e"/><stop offset="0.700" stop-color="#424086"/><stop offset="0.814" stop-color="#453781"/><stop offset="1.000" stop-color="#453781"/></linearGradient><linearGradient id="g89" x2="0" y2="1"><stop offset="0.000" stop-color="#450457"/><stop offset="0.041" stop-color="#443b84"/><stop offset="0.068" stop-color="#365d8d"/><stop offset="0.230" stop-color="#2a768e"/><stop offset="0.473" stop-color="#31678e"/><stop offset="0.770" stop-color="#453781"/><stop offset="1.000" stop-color="#453781"/></linearGradient><linearGradient id="g90" x2="0" y2="1"><stop offset="0.000" stop-color="#450457"/><stop offset="0.038" stop-color="#443983"/><stop offset="0.064" stop-color="#375b8d"/><stop offset="0.218" stop-color="#2a778e"/><stop offset="0.436" stop-color="#2e6d8e"/><stop offset="0.782" stop-color="#453781"/><stop offset="1.000" stop-color="#453781"/></linearGradient><linearGradient id="g91" x2="0" y2="1"><stop offset="0.000" stop-color="#440154"/><stop offset="0.013" stop-color="#46085c"/><stop offset="0.050" stop-color="#433d84"/><stop offset="0.075" stop-color="#375b8d"/><stop offset="0.237" stop-color="#2a778e"/><stop offset="0.463" stop-color="#2f6b8e"/><stop offset="0.787" stop-color="#453781"/><stop offset="1.000" stop-color="#453781"/></linearGradient><linearGradient id="g92" x2="0" y2="1"><stop offset="0.000" stop-color="#440154"/><stop offset="0.037" stop-color="#472f7d"/><stop offset="0.062" stop-color="#3a538b"/><stop offset="0.198" stop-color="#2c738e"/><stop offset="0.383" stop-color="#2c738e"/><stop offset="0.716" stop-color="#423f85"/><stop offset="0.827" stop-color="#453781"/><stop offset="1.000" stop-color="#453781"/></linearGradient><linearGradient id="g93" x2="0" y2="1"><stop offset="0.000" stop-color="#440154"/><stop offset="0.037" stop-color="#46337f"/><stop offset="0.061" stop-color="#39558c"/><stop offset="0.232" stop-color="#2a778e"/><stop offset="0.463" stop-color="#2f6b8e"/><stop offset="0.780" stop-color="#453781"/><stop offset="1.000" stop-color="#453781"/></linearGradient><linearGradient id="g94" x2="0" y2="1"><stop offset="0.000" stop-color="#440154"/><stop offset="0.012" stop-color="#450559"/><stop offset="0.048" stop-color="#453781"/><stop offset="0.071" stop-color="#39558c"/><stop offset="0.238" stop-color="#2a768e"/><stop offset="0.440" stop-color="#2e6f8e"/><stop offset="0.786" stop-color="#453781"/><stop offset="1.000" stop-color="#453781"/></linearGradient><linearGradient id="g95" x2="0" y2="1"><stop offset="0.000" stop-color="#440154"/><stop offset="0.048" stop-color="#423f85"/><stop offset="0.060" stop-color="#3b518b"/><stop offset="0.214" stop-color="#2b748e"/><stop offset="0.405" stop-color="#2c718e"/><stop offset="0.750" stop-color="#443983"/><stop offset="1.000" stop-color="#453781"/></linearGradient><linearGradient id="g96" x2="0" y2="1"><stop offset="0.000" stop-color="#440154"/><stop offset="0.024" stop-color="#48186a"/><stop offset="0.060" stop-color="#3e4c8a"/><stop offset="0.095" stop-color="#365c8d"/><stop offset="0.250" stop-color="#2a778e"/><stop offset="0.476" stop-color="#306a8e"/><stop offset="0.786" stop-color="#453781"/><stop offset="1.000" stop-color="#453781"/></linearGradient><linearGradient id="g97" x2="0" y2="1"><stop offset="0.000" stop-color="#450457"/><stop offset="0.036" stop-color="#453581"/><stop offset="0.060" stop-color="#3a548c"/><stop offset="0.217" stop-color="#2b748e"/><stop offset="0.410" stop-color="#2d718e"/><stop offset="0.783" stop-color="#453781"/><stop offset="1.000" stop-color="#453781"/></linearGradient><linearGradient id="g98" x2="0" y2="1"><stop offset="0.000" stop-color="#440154"/><stop offset="0.036" stop-color="#46307e"/><stop offset="0.060" stop-color="#3a538b"/><stop offset="0.229" stop-color="#2b758e"/><stop offset="0.446" stop-color="#2f6c8e"/><stop offset="0.783" stop-color="#453781"/><stop offset="1.000" stop-color="#453781"/></linearGradient><linearGradient id="g99" x2="0" y2="1"><stop offset="0.000" stop-color="#440154"/><stop offset="0.024" stop-color="#481b6d"/><stop offset="0.060" stop-color="#3d4e8a"/><stop offset="0.145" stop-color="#31688e"/><stop offset="0.289" stop-color="#2a768e"/><stop offset="0.542" stop-color="#355f8d"/><stop offset="0.783" stop-color="#453781"/><stop offset="1.000" stop-color="#453781"/></linearGradient><linearGradient id="g100" x2="0" y2="1"><stop offset="0.000" stop-color="#440154"/><stop offset="0.012" stop-color="#450559"/><stop offset="0.048" stop-color="#453882"/><stop offset="0.072" stop-color="#39558c"/><stop offset="0.229" stop-color="#2b748e"/><stop offset="0.446" stop-color="#2f6c8e"/><stop offset="0.795" stop-color="#453781"/><stop offset="1.000" stop-color="#453781"/></linearGradient><linearGradient id="g101" x2="0" y2="1"><stop offset="0.000" stop-color="#440154"/><stop offset="0.037" stop-color="#46337f"/><stop offset="0.061" stop-color="#39558c"/><stop offset="0.232" stop-color="#2b748e"/><stop offset="0.451" stop-color="#2f6b8e"/><stop offset="0.780" stop-color="#453781"/><stop offset="1.000" stop-color="#453781"/></linearGradient><linearGradient id="g102" x2="0" y2="1"><stop offset="0.000" stop-color="#450457"/><stop offset="0.038" stop-color="#453882"/><stop offset="0.064" stop-color="#38598c"/><stop offset="0.244" stop-color="#2c738e"/><stop offset="0.500" stop-color="#34618d"/><stop offset="0.782" stop-color="#453781"/><stop offset="1.000" stop-color="#453781"/></linearGradient><linearGradient id="g103" x2="0" y2="1"><stop offset="0.000" stop-color="#440154"/><stop offset="0.041" stop-color="#46307e"/><stop offset="0.068" stop-color="#39568c"/><stop offset="0.203" stop-color="#2d708e"/><stop offset="0.446" stop-color="#32658e"/><stop offset="0.770" stop-color="#453781"/><stop offset="1.000" stop-color="#453781"/></linearGradient><linearGradient id="g104" x2="0" y2="1"><stop offset="0.000" stop-color="#440154"/><stop offset="0.043" stop-color="#453581"/><stop offset="0.071" stop-color="#365c8d"/><stop offset="0.229" stop-color="#2e6f8e"/><stop offset="0.486" stop-color="#365c8d"/><stop offset="0.757" stop-color="#453781"/><stop offset="1.000" stop-color="#453781"/></linearGradient><linearGradient id="g105" x2="0" y2="1"><stop offset="0.000" stop-color="#440154"/><stop offset="0.014" stop-color="#46085c"/><stop offset="0.057" stop-color="#423f85"/><stop offset="0.086" stop-color="#355e8d"/><stop offset="0.243" stop-color="#2e6f8e"/><stop offset="0.529" stop-color="#38588c"/><stop offset="0.757" stop-color="#453781"/><stop offset="1.000" stop-color="#453781"/></linearGradient><linearGradient id="g106" x2="0" y2="1"><stop offset="0.000" stop-color="#440154"/><stop offset="0.043" stop-color="#453581"/><stop offset="0.072" stop-color="#365c8d"/><stop offset="0.232" stop-color="#2e6f8e"/><stop offset="0.493" stop-color="#365c8d"/><stop offset="0.768" stop-color="#453781"/><stop offset="1.000" stop-color="#453781"/></linearGradient><linearGradient id="g107" x2="0" y2="1"><stop offset="0.000" stop-color="#440154"/><stop offset="0.014" stop-color="#46085c"/><stop offset="0.058" stop-color="#423f85"/><stop offset="0.087" stop-color="#355e8d"/><stop offset="0.246" stop-color="#2e6f8e"/><stop offset="0.536" stop-color="#38588c"/><stop offset="0.768" stop-color="#453781"/><stop offset="1.000" stop-color="#453781"/></linearGradient><linearGradient id="g108" x2="0" y2="1"><stop offset="0.000" stop-color="#440154"/><stop offset="0.043" stop-color="#46337f"/><stop offset="0.072" stop-color="#38588c"/><stop offset="0.174" stop-color="#2f6c8e"/><stop offset="0.391" stop-color="#31688e"/><stop offset="0.783" stop-color="#453781"/><stop offset="1.000" stop-color="#453781"/></linearGradient><linearGradient id="g109" x2="0" y2="1"><stop offset="0.000" stop-color="#450457"/><stop offset="0.041" stop-color="#443a83"/><stop offset="0.068" stop-color="#375b8d"/><stop offset="0.233" stop-color="#2d718e"/><stop offset="0.507" stop-color="#355e8d"/><stop offset="0.781" stop-color="#453781"/><stop offset="1.000" stop-color="#453781"/></linearGradient><linearGradient id="g110" x2="0" y2="1"><stop offset="0.000" stop-color="#440154"/><stop offset="0.038" stop-color="#472f7d"/><stop offset="0.064" stop-color="#3a538b"/><stop offset="0.192" stop-color="#2e6f8e"/><stop offset="0.397" stop-color="#2e6d8e"/><stop offset="0.782" stop-color="#453781"/><stop offset="1.000" stop-color="#453781"/></linearGradient><linearGradient id="g111" x2="0" y2="1"><stop offset="0.000" stop-color="#450457"/><stop offset="0.037" stop-color="#453781"/><stop offset="0.062" stop-color="#39568c"/><stop offset="0.225" stop-color="#2c728e"/><stop offset="0.463" stop-color="#31678e"/><stop offset="0.787" stop-color="#453781"/><stop offset="1.000" stop-color="#453781"/></linearGradient><linearGradient id="g112" x2="0" y2="1"><stop offset="0.000" stop-color="#440154"/><stop offset="0.037" stop-color="#472e7c"/><stop offset="0.062" stop-color="#3b518b"/><stop offset="0.198" stop-color="#2d708e"/><stop offset="0.395" stop-color="#2e6e8e"/><stop offset="0.741" stop-color="#443b84"/><stop offset="1.000" stop-color="#453781"/></linearGradient><linearGradient id="g113" x2="0" y2="1"><stop offset="0.000" stop-color="#440154"/><stop offset="0.012" stop-color="#450559"/><stop offset="0.049" stop-color="#453781"/><stop offset="0.073" stop-color="#39558c"/><stop offset="0.244" stop-color="#2c728e"/><stop offset="0.476" stop-color="#31678e"/><stop offset="0.793" stop-color="#453781"/><stop offset="1.000" stop-color="#453781"/></linearGradient><linearGradient id="g114" x2="0" y2="1"><stop offset="0.000" stop-color="#440154"/><stop offset="0.037" stop-color="#472f7d"/><stop offset="0.061" stop-color="#3b518b"/><stop offset="0.207" stop-color="#2d708e"/><stop offset="0.402" stop-color="#2e6e8e"/><stop offset="0.805" stop-color="#453781"/><stop offset="1.000" stop-color="#453781"/></linearGradient><linearGradient id="g115" x2="0" y2="1"><stop offset="0.000" stop-color="#440154"/><stop offset="0.012" stop-color="#450559"/><stop offset="0.048" stop-color="#453882"/><stop offset="0.072" stop-color="#3a548c"/><stop offset="0.241" stop-color="#2c728e"/><stop offset="0.482" stop-color="#31678e"/><stop offset="0.807" stop-color="#453781"/><stop offset="1.000" stop-color="#453781"/></linearGradient><linearGradient id="g116" x2="0" y2="1"><stop offset="0.000" stop-color="#440154"/><stop offset="0.036" stop-color="#472f7d"/><stop offset="0.060" stop-color="#3b518b"/><stop offset="0.229" stop-color="#2c718e"/><stop offset="0.446" stop-color="#2f6b8e"/><stop offset="0.807" stop-color="#453781"/><stop offset="1.000" stop-color="#453781"/></linearGradient><linearGradient id="g117" x2="0" y2="1"><stop offset="0.000" stop-color="#440154"/><stop offset="0.036" stop-color="#472d7b"/><stop offset="0.060" stop-color="#3c4f8a"/><stop offset="0.205" stop-color="#2e6f8e"/><stop offset="0.422" stop-color="#2e6d8e"/><stop offset="0.819" stop-color="#453781"/><stop offset="1.000" stop-color="#453781"/></linearGradient><linearGradient id="g118" x2="0" y2="1"><stop offset="0.000" stop-color="#440154"/><stop offset="0.012" stop-color="#46075a"/><stop offset="0.048" stop-color="#453882"/><stop offset="0.072" stop-color="#3a548c"/><stop offset="0.253" stop-color="#2c718e"/><stop offset="0.482" stop-color="#31668e"/><stop offset="0.807" stop-color="#453781"/><stop offset="1.000" stop-color="#453781"/></linearGradient><linearGradient id="g119" x2="0" y2="1"><stop offset="0.000" stop-color="#440256"/><stop offset="0.037" stop-color="#46337f"/><stop offset="0.061" stop-color="#3a538b"/><stop offset="0.232" stop-color="#2d718e"/><stop offset="0.463" stop-color="#31688e"/><stop offset="0.805" stop-color="#453781"/><stop offset="1.000" stop-color="#453781"/></linearGradient><linearGradient id="g120" x2="0" y2="1"><stop offset="0.000" stop-color="#440154"/><stop offset="0.049" stop-color="#423f85"/><stop offset="0.061" stop-color="#3b518b"/><stop offset="0.220" stop-color="#2d708e"/><stop offset="0.451" stop-color="#30698e"/><stop offset="0.805" stop-color="#453781"/><stop offset="1.000" stop-color="#453781"/></linearGradient><linearGradient id="g121" x2="0" y2="1"><stop offset="0.000" stop-color="#440154"/><stop offset="0.012" stop-color="#46085c"/><stop offset="0.049" stop-color="#443a83"/><stop offset="0.073" stop-color="#39558c"/><stop offset="0.256" stop-color="#2c718e"/><stop offset="0.512" stop-color="#33628d"/><stop offset="0.805" stop-color="#453781"/><stop offset="1.000" stop-color="#453781"/></linearGradient><linearGradient id="g122" x2="0" y2="1"><stop offset="0.000" stop-color="#450457"/><stop offset="0.037" stop-color="#453581"/><stop offset="0.062" stop-color="#3a548c"/><stop offset="0.235" stop-color="#2d718e"/><stop offset="0.494" stop-color="#33638d"/><stop offset="0.802" stop-color="#453781"/><stop offset="1.000" stop-color="#453781"/></linearGradient><linearGradient id="g123" x2="0" y2="1"><stop offset="0.000" stop-color="#440256"/><stop offset="0.037" stop-color="#46337f"/><stop offset="0.062" stop-color="#3a548c"/><stop offset="0.237" stop-color="#2d708e"/><stop offset="0.475" stop-color="#32658e"/><stop offset="0.812" stop-color="#453781"/><stop offset="1.000" stop-color="#453781"/></linearGradient><linearGradient id="g124" x2="0" y2="1"><stop offset="0.000" stop-color="#440154"/><stop offset="0.040" stop-color="#472e7c"/><stop offset="0.067" stop-color="#3b528b"/><stop offset="0.200" stop-color="#2f6c8e"/><stop offset="0.427" stop-color="#31688e"/><stop offset="0.813" stop-color="#453781"/><stop offset="1.000" stop-color="#453781"/></linearGradient><linearGradient id="g125" x2="0" y2="1"><stop offset="0.000" stop-color="#440154"/><stop offset="0.014" stop-color="#450559"/><stop offset="0.057" stop-color="#443b84"/><stop offset="0.086" stop-color="#375b8d"/><stop offset="0.257" stop-color="#2e6e8e"/><stop offset="0.529" stop-color="#365c8d"/><stop offset="0.814" stop-color="#453781"/><stop offset="1.000" stop-color="#453781"/></linearGradient><linearGradient id="g126" x2="0" y2="1"><stop offset="0.000" stop-color="#440154"/><stop offset="0.047" stop-color="#453781"/><stop offset="0.078" stop-color="#365c8d"/><stop offset="0.250" stop-color="#2f6c8e"/><stop offset="0.547" stop-color="#38588c"/><stop offset="0.812" stop-color="#453781"/><stop offset="1.000" stop-color="#453781"/></linearGradient><linearGradient id="g127" x2="0" y2="1"><stop offset="0.000" stop-color="#440154"/><stop offset="0.016" stop-color="#46075a"/><stop offset="0.065" stop-color="#433e85"/><stop offset="0.097" stop-color="#355e8d"/><stop offset="0.274" stop-color="#2f6c8e"/><stop offset="0.581" stop-color="#3a548c"/><stop offset="0.823" stop-color="#453781"/><stop offset="1.000" stop-color="#453781"/></linearGradient><linearGradient id="g128" x2="0" y2="1"><stop offset="0.000" stop-color="#440154"/><stop offset="0.017" stop-color="#46075a"/><stop offset="0.067" stop-color="#433e85"/><stop offset="0.100" stop-color="#365d8d"/><stop offset="0.283" stop-color="#2f6b8e"/><stop offset="0.583" stop-color="#39558c"/><stop offset="0.850" stop-color="#453781"/><stop offset="1.000" stop-color="#453781"/></linearGradient><linearGradient id="g129" x2="0" y2="1"><stop offset="0.000" stop-color="#440154"/><stop offset="0.017" stop-color="#450559"/><stop offset="0.069" stop-color="#433d84"/><stop offset="0.103" stop-color="#365d8d"/><stop offset="0.310" stop-color="#306a8e"/><stop offset="0.621" stop-color="#3b528b"/><stop offset="0.862" stop-color="#453781"/><stop offset="1.000" stop-color="#453781"/></linearGradient><linearGradient id="g130" x2="0" y2="1"><stop offset="0.000" stop-color="#440154"/><stop offset="0.018" stop-color="#450559"/><stop offset="0.071" stop-color="#433d84"/><stop offset="0.107" stop-color="#365c8d"/><stop offset="0.304" stop-color="#306a8e"/><stop offset="0.607" stop-color="#39558c"/><stop offset="0.893" stop-color="#453781"/><stop offset="1.000" stop-color="#453781"/></linearGradient><linearGradient id="g131" x2="0" y2="1"><stop offset="0.000" stop-color="#440154"/><stop offset="0.019" stop-color="#450559"/><stop offset="0.074" stop-color="#443b84"/><stop offset="0.111" stop-color="#375b8d"/><stop offset="0.315" stop-color="#306a8e"/><stop offset="0.667" stop-color="#3b518b"/><stop offset="0.907" stop-color="#453781"/><stop offset="1.000" stop-color="#453781"/></linearGradient><linearGradient id="g132" x2="0" y2="1"><stop offset="0.000" stop-color="#450457"/><stop offset="0.061" stop-color="#443a83"/><stop offset="0.102" stop-color="#375b8d"/><stop offset="0.327" stop-color="#31688e"/><stop offset="0.694" stop-color="#3c4f8a"/><stop offset="0.939" stop-color="#453781"/><stop offset="1.000" stop-color="#453781"/></linearGradient><linearGradient id="g133" x2="0" y2="1"><stop offset="0.000" stop-color="#440154"/><stop offset="0.067" stop-color="#46307e"/><stop offset="0.111" stop-color="#39558c"/><stop offset="0.267" stop-color="#31668e"/><stop offset="0.600" stop-color="#375a8c"/><stop offset="0.978" stop-color="#453781"/><stop offset="1.000" stop-color="#453781"/></linearGradient><linearGradient id="g134" x2="0" y2="1"><stop offset="0.000" stop-color="#450457"/><stop offset="0.075" stop-color="#443a83"/><stop offset="0.125" stop-color="#375b8d"/><stop offset="0.375" stop-color="#32658e"/><stop offset="0.825" stop-color="#3f4788"/><stop offset="1.000" stop-color="#453781"/></linearGradient><filter id="bl3" x="57" y="150" width="443" height="170" filterUnits="userSpaceOnUse"><feGaussianBlur stdDeviation="1.3" result="b"/><feTurbulence type="fractalNoise" baseFrequency="0.07 0.09" numOctaves="2" seed="21" result="n"/><feDisplacementMap in="b" in2="n" scale="10" xChannelSelector="R" yChannelSelector="G" result="d"/><feGaussianBlur in="d" stdDeviation="0.7"/></filter><linearGradient id="rg" gradientUnits="userSpaceOnUse" x1="130" y1="0" x2="185" y2="0"><stop offset="0" stop-color="#fde725"/><stop offset="0.5" stop-color="#f0e51c"/><stop offset="1" stop-color="#c2df23"/></linearGradient><filter id="grain" x="57" y="480" width="443" height="140" filterUnits="userSpaceOnUse"><feTurbulence type="fractalNoise" baseFrequency="0.22" numOctaves="2" seed="2" result="n"/><feDisplacementMap in="SourceGraphic" in2="n" scale="5" xChannelSelector="R" yChannelSelector="G"/></filter><linearGradient id="g135" x2="0" y2="1"><stop offset="0.000" stop-color="#440256"/><stop offset="0.125" stop-color="#482071"/><stop offset="0.375" stop-color="#414287"/><stop offset="0.550" stop-color="#443983"/><stop offset="0.800" stop-color="#481a6c"/><stop offset="1.000" stop-color="#482173"/></linearGradient><linearGradient id="g136" x2="0" y2="1"><stop offset="0.000" stop-color="#440154"/><stop offset="0.047" stop-color="#482979"/><stop offset="0.070" stop-color="#404588"/><stop offset="0.209" stop-color="#2c718e"/><stop offset="0.326" stop-color="#2a768e"/><stop offset="0.558" stop-color="#3d4e8a"/><stop offset="0.721" stop-color="#472d7b"/><stop offset="0.837" stop-color="#433e85"/><stop offset="1.000" stop-color="#433e85"/></linearGradient><linearGradient id="g137" x2="0" y2="1"><stop offset="0.000" stop-color="#440154"/><stop offset="0.044" stop-color="#482979"/><stop offset="0.067" stop-color="#404688"/><stop offset="0.200" stop-color="#2a768e"/><stop offset="0.311" stop-color="#297b8e"/><stop offset="0.511" stop-color="#38588c"/><stop offset="0.711" stop-color="#472e7c"/><stop offset="0.844" stop-color="#443b84"/><stop offset="1.000" stop-color="#443b84"/></linearGradient><linearGradient id="g138" x2="0" y2="1"><stop offset="0.000" stop-color="#440154"/><stop offset="0.043" stop-color="#482979"/><stop offset="0.064" stop-color="#404688"/><stop offset="0.170" stop-color="#2b758e"/><stop offset="0.255" stop-color="#26828e"/><stop offset="0.426" stop-color="#2f6b8e"/><stop offset="0.702" stop-color="#472e7c"/><stop offset="0.830" stop-color="#453882"/><stop offset="1.000" stop-color="#453882"/></linearGradient><linearGradient id="g139" x2="0" y2="1"><stop offset="0.000" stop-color="#440154"/><stop offset="0.041" stop-color="#482576"/><stop offset="0.061" stop-color="#414287"/><stop offset="0.122" stop-color="#31688e"/><stop offset="0.204" stop-color="#25848e"/><stop offset="0.347" stop-color="#287c8e"/><stop offset="0.633" stop-color="#453882"/><stop offset="0.694" stop-color="#472e7c"/><stop offset="0.878" stop-color="#453581"/><stop offset="1.000" stop-color="#453581"/></linearGradient><linearGradient id="g140" x2="0" y2="1"><stop offset="0.000" stop-color="#450457"/><stop offset="0.040" stop-color="#453781"/><stop offset="0.060" stop-color="#3a538b"/><stop offset="0.160" stop-color="#25848e"/><stop offset="0.240" stop-color="#238a8d"/><stop offset="0.440" stop-color="#32658e"/><stop offset="0.680" stop-color="#472e7c"/><stop offset="1.000" stop-color="#46337f"/></linearGradient><linearGradient id="g141" x2="0" y2="1"><stop offset="0.000" stop-color="#440154"/><stop offset="0.019" stop-color="#471063"/><stop offset="0.038" stop-color="#472a7a"/><stop offset="0.058" stop-color="#3d4d8a"/><stop offset="0.115" stop-color="#2a788e"/><stop offset="0.173" stop-color="#218f8d"/><stop offset="0.308" stop-color="#25848e"/><stop offset="0.596" stop-color="#443b84"/><stop offset="0.692" stop-color="#472f7d"/><stop offset="1.000" stop-color="#46307e"/></linearGradient><linearGradient id="g142" x2="0" y2="1"><stop offset="0.000" stop-color="#450457"/><stop offset="0.019" stop-color="#482173"/><stop offset="0.038" stop-color="#404588"/><stop offset="0.057" stop-color="#31688e"/><stop offset="0.132" stop-color="#21908d"/><stop offset="0.208" stop-color="#1f968b"/><stop offset="0.377" stop-color="#2a768e"/><stop offset="0.660" stop-color="#472f7d"/><stop offset="1.000" stop-color="#472e7c"/></linearGradient><linearGradient id="g143" x2="0" y2="1"><stop offset="0.000" stop-color="#440154"/><stop offset="0.018" stop-color="#460b5e"/><stop offset="0.036" stop-color="#46327e"/><stop offset="0.055" stop-color="#365c8d"/><stop offset="0.073" stop-color="#297b8e"/><stop offset="0.145" stop-color="#1e9c89"/><stop offset="0.255" stop-color="#1f978b"/><stop offset="0.564" stop-color="#404588"/><stop offset="0.691" stop-color="#472c7a"/><stop offset="1.000" stop-color="#472d7b"/></linearGradient><linearGradient id="g144" x2="0" y2="1"><stop offset="0.000" stop-color="#440154"/><stop offset="0.018" stop-color="#481769"/><stop offset="0.036" stop-color="#414487"/><stop offset="0.054" stop-color="#2c718e"/><stop offset="0.071" stop-color="#228c8d"/><stop offset="0.143" stop-color="#21a585"/><stop offset="0.268" stop-color="#1f998a"/><stop offset="0.554" stop-color="#3f4788"/><stop offset="0.714" stop-color="#472a7a"/><stop offset="1.000" stop-color="#472a7a"/></linearGradient><linearGradient id="g145" x2="0" y2="1"><stop offset="0.000" stop-color="#440154"/><stop offset="0.018" stop-color="#482576"/><stop offset="0.035" stop-color="#38588c"/><stop offset="0.053" stop-color="#23888e"/><stop offset="0.070" stop-color="#1e9c89"/><stop offset="0.140" stop-color="#26ad81"/><stop offset="0.281" stop-color="#1f988b"/><stop offset="0.561" stop-color="#404588"/><stop offset="0.719" stop-color="#482878"/><stop offset="1.000" stop-color="#482878"/></linearGradient><linearGradient id="g146" x2="0" y2="1"><stop offset="0.000" stop-color="#440154"/><stop offset="0.017" stop-color="#46337f"/><stop offset="0.034" stop-color="#31678e"/><stop offset="0.052" stop-color="#1e9b8a"/><stop offset="0.121" stop-color="#31b57b"/><stop offset="0.241" stop-color="#22a884"/><stop offset="0.345" stop-color="#23888e"/><stop offset="0.603" stop-color="#443983"/><stop offset="0.741" stop-color="#482576"/><stop offset="1.000" stop-color="#482576"/></linearGradient><linearGradient id="g147" x2="0" y2="1"><stop offset="0.000" stop-color="#440154"/><stop offset="0.017" stop-color="#46085c"/><stop offset="0.033" stop-color="#424186"/><stop offset="0.050" stop-color="#2a778e"/><stop offset="0.067" stop-color="#22a785"/><stop offset="0.133" stop-color="#40bd72"/><stop offset="0.217" stop-color="#34b679"/><stop offset="0.300" stop-color="#1f9f88"/><stop offset="0.517" stop-color="#3b518b"/><stop offset="0.717" stop-color="#482576"/><stop offset="1.000" stop-color="#482374"/></linearGradient><linearGradient id="g148" x2="0" y2="1"><stop offset="0.000" stop-color="#440154"/><stop offset="0.016" stop-color="#481668"/><stop offset="0.033" stop-color="#3b528b"/><stop offset="0.049" stop-color="#23898e"/><stop offset="0.066" stop-color="#2cb17e"/><stop offset="0.115" stop-color="#4ec36b"/><stop offset="0.164" stop-color="#52c569"/><stop offset="0.279" stop-color="#25ab82"/><stop offset="0.344" stop-color="#21918c"/><stop offset="0.557" stop-color="#414487"/><stop offset="0.738" stop-color="#482071"/><stop offset="1.000" stop-color="#482071"/></linearGradient><linearGradient id="g149" x2="0" y2="1"><stop offset="0.000" stop-color="#440154"/><stop offset="0.016" stop-color="#482374"/><stop offset="0.032" stop-color="#355f8d"/><stop offset="0.048" stop-color="#1f978b"/><stop offset="0.065" stop-color="#35b779"/><stop offset="0.129" stop-color="#60ca60"/><stop offset="0.194" stop-color="#54c568"/><stop offset="0.290" stop-color="#23a983"/><stop offset="0.355" stop-color="#228d8d"/><stop offset="0.548" stop-color="#404588"/><stop offset="0.742" stop-color="#481f70"/><stop offset="1.000" stop-color="#481f70"/></linearGradient><linearGradient id="g150" x2="0" y2="1"><stop offset="0.000" stop-color="#440154"/><stop offset="0.016" stop-color="#482173"/><stop offset="0.032" stop-color="#355e8d"/><stop offset="0.048" stop-color="#1f978b"/><stop offset="0.063" stop-color="#37b878"/><stop offset="0.111" stop-color="#60ca60"/><stop offset="0.159" stop-color="#67cc5c"/><stop offset="0.222" stop-color="#4cc26c"/><stop offset="0.302" stop-color="#21a585"/><stop offset="0.413" stop-color="#2c738e"/><stop offset="0.587" stop-color="#443983"/><stop offset="0.746" stop-color="#482071"/><stop offset="1.000" stop-color="#482071"/></linearGradient><linearGradient id="g151" x2="0" y2="1"><stop offset="0.000" stop-color="#440154"/><stop offset="0.016" stop-color="#482071"/><stop offset="0.031" stop-color="#355e8d"/><stop offset="0.047" stop-color="#1f978b"/><stop offset="0.062" stop-color="#38b977"/><stop offset="0.109" stop-color="#67cc5c"/><stop offset="0.156" stop-color="#70cf57"/><stop offset="0.203" stop-color="#5ec962"/><stop offset="0.297" stop-color="#23a983"/><stop offset="0.359" stop-color="#228b8d"/><stop offset="0.547" stop-color="#424186"/><stop offset="0.719" stop-color="#482071"/><stop offset="1.000" stop-color="#482071"/></linearGradient><linearGradient id="g152" x2="0" y2="1"><stop offset="0.000" stop-color="#440154"/><stop offset="0.015" stop-color="#482071"/><stop offset="0.031" stop-color="#365d8d"/><stop offset="0.046" stop-color="#1f968b"/><stop offset="0.062" stop-color="#3aba76"/><stop offset="0.108" stop-color="#6ccd5a"/><stop offset="0.154" stop-color="#7ad151"/><stop offset="0.200" stop-color="#67cc5c"/><stop offset="0.292" stop-color="#25ac82"/><stop offset="0.338" stop-color="#1f958b"/><stop offset="0.508" stop-color="#3d4d8a"/><stop offset="0.692" stop-color="#482173"/><stop offset="1.000" stop-color="#482071"/></linearGradient><linearGradient id="g153" x2="0" y2="1"><stop offset="0.000" stop-color="#440154"/><stop offset="0.015" stop-color="#481b6d"/><stop offset="0.030" stop-color="#38598c"/><stop offset="0.045" stop-color="#20928c"/><stop offset="0.061" stop-color="#3aba76"/><stop offset="0.106" stop-color="#70cf57"/><stop offset="0.136" stop-color="#81d34d"/><stop offset="0.182" stop-color="#7ad151"/><stop offset="0.273" stop-color="#34b679"/><stop offset="0.318" stop-color="#1fa088"/><stop offset="0.485" stop-color="#3b528b"/><stop offset="0.667" stop-color="#482475"/><stop offset="1.000" stop-color="#482071"/></linearGradient><linearGradient id="g154" x2="0" y2="1"><stop offset="0.000" stop-color="#440154"/><stop offset="0.015" stop-color="#470d60"/><stop offset="0.030" stop-color="#3e4a89"/><stop offset="0.045" stop-color="#25838e"/><stop offset="0.060" stop-color="#32b67a"/><stop offset="0.119" stop-color="#7ad151"/><stop offset="0.149" stop-color="#86d549"/><stop offset="0.209" stop-color="#6ece58"/><stop offset="0.299" stop-color="#25ac82"/><stop offset="0.343" stop-color="#20938c"/><stop offset="0.522" stop-color="#404588"/><stop offset="0.687" stop-color="#482173"/><stop offset="1.000" stop-color="#482173"/></linearGradient><linearGradient id="g155" x2="0" y2="1"><stop offset="0.000" stop-color="#440154"/><stop offset="0.015" stop-color="#443a83"/><stop offset="0.030" stop-color="#2c718e"/><stop offset="0.045" stop-color="#25ac82"/><stop offset="0.104" stop-color="#6ece58"/><stop offset="0.134" stop-color="#84d44b"/><stop offset="0.179" stop-color="#7cd250"/><stop offset="0.239" stop-color="#52c569"/><stop offset="0.299" stop-color="#24aa83"/><stop offset="0.358" stop-color="#238a8d"/><stop offset="0.522" stop-color="#414487"/><stop offset="0.687" stop-color="#482173"/><stop offset="1.000" stop-color="#482173"/></linearGradient><linearGradient id="g156" x2="0" y2="1"><stop offset="0.000" stop-color="#440154"/><stop offset="0.015" stop-color="#472a7a"/><stop offset="0.029" stop-color="#34618d"/><stop offset="0.044" stop-color="#1f978b"/><stop offset="0.059" stop-color="#26ad81"/><stop offset="0.118" stop-color="#6ece58"/><stop offset="0.162" stop-color="#84d44b"/><stop offset="0.221" stop-color="#67cc5c"/><stop offset="0.309" stop-color="#22a884"/><stop offset="0.368" stop-color="#24878e"/><stop offset="0.529" stop-color="#414287"/><stop offset="0.676" stop-color="#482173"/><stop offset="1.000" stop-color="#482173"/></linearGradient><linearGradient id="g157" x2="0" y2="1"><stop offset="0.000" stop-color="#440154"/><stop offset="0.014" stop-color="#481769"/><stop offset="0.029" stop-color="#3e4a89"/><stop offset="0.043" stop-color="#277e8e"/><stop offset="0.058" stop-color="#1fa187"/><stop offset="0.087" stop-color="#37b878"/><stop offset="0.130" stop-color="#6ece58"/><stop offset="0.159" stop-color="#81d34d"/><stop offset="0.203" stop-color="#77d153"/><stop offset="0.275" stop-color="#3fbc73"/><stop offset="0.319" stop-color="#22a785"/><stop offset="0.391" stop-color="#277f8e"/><stop offset="0.551" stop-color="#433e85"/><stop offset="0.681" stop-color="#482173"/><stop offset="1.000" stop-color="#482173"/></linearGradient><linearGradient id="g158" x2="0" y2="1"><stop offset="0.000" stop-color="#450457"/><stop offset="0.014" stop-color="#46337f"/><stop offset="0.029" stop-color="#32658e"/><stop offset="0.043" stop-color="#1f958b"/><stop offset="0.072" stop-color="#28ae80"/><stop offset="0.130" stop-color="#6ece58"/><stop offset="0.159" stop-color="#7fd34e"/><stop offset="0.203" stop-color="#75d054"/><stop offset="0.290" stop-color="#31b57b"/><stop offset="0.333" stop-color="#1f9e89"/><stop offset="0.493" stop-color="#3b518b"/><stop offset="0.667" stop-color="#482374"/><stop offset="1.000" stop-color="#482173"/></linearGradient><linearGradient id="g159" x2="0" y2="1"><stop offset="0.000" stop-color="#440154"/><stop offset="0.014" stop-color="#481d6f"/><stop offset="0.029" stop-color="#3d4e8a"/><stop offset="0.043" stop-color="#277e8e"/><stop offset="0.057" stop-color="#1f978b"/><stop offset="0.086" stop-color="#29af7f"/><stop offset="0.143" stop-color="#6ece58"/><stop offset="0.171" stop-color="#7fd34e"/><stop offset="0.214" stop-color="#73d056"/><stop offset="0.300" stop-color="#2fb47c"/><stop offset="0.343" stop-color="#1e9d89"/><stop offset="0.514" stop-color="#3e4c8a"/><stop offset="0.671" stop-color="#482173"/><stop offset="1.000" stop-color="#482173"/></linearGradient><linearGradient id="g160" x2="0" y2="1"><stop offset="0.000" stop-color="#440154"/><stop offset="0.014" stop-color="#460a5d"/><stop offset="0.028" stop-color="#453581"/><stop offset="0.042" stop-color="#32648e"/><stop offset="0.056" stop-color="#228b8d"/><stop offset="0.085" stop-color="#21a585"/><stop offset="0.113" stop-color="#3bbb75"/><stop offset="0.155" stop-color="#6ece58"/><stop offset="0.197" stop-color="#7cd250"/><stop offset="0.254" stop-color="#5cc863"/><stop offset="0.324" stop-color="#25ab82"/><stop offset="0.380" stop-color="#228c8d"/><stop offset="0.535" stop-color="#404688"/><stop offset="0.690" stop-color="#482173"/><stop offset="1.000" stop-color="#482173"/></linearGradient><linearGradient id="g161" x2="0" y2="1"><stop offset="0.000" stop-color="#440154"/><stop offset="0.014" stop-color="#48186a"/><stop offset="0.028" stop-color="#404588"/><stop offset="0.042" stop-color="#2c728e"/><stop offset="0.056" stop-color="#228d8d"/><stop offset="0.085" stop-color="#21a685"/><stop offset="0.113" stop-color="#3dbc74"/><stop offset="0.155" stop-color="#6ece58"/><stop offset="0.183" stop-color="#7ad151"/><stop offset="0.225" stop-color="#6ece58"/><stop offset="0.324" stop-color="#24aa83"/><stop offset="0.380" stop-color="#228b8d"/><stop offset="0.549" stop-color="#424186"/><stop offset="0.690" stop-color="#482173"/><stop offset="1.000" stop-color="#482173"/></linearGradient><linearGradient id="g162" x2="0" y2="1"><stop offset="0.000" stop-color="#450457"/><stop offset="0.027" stop-color="#46085c"/><stop offset="0.041" stop-color="#482979"/><stop offset="0.055" stop-color="#3b518b"/><stop offset="0.068" stop-color="#297a8e"/><stop offset="0.110" stop-color="#1fa187"/><stop offset="0.137" stop-color="#35b779"/><stop offset="0.178" stop-color="#67cc5c"/><stop offset="0.219" stop-color="#75d054"/><stop offset="0.260" stop-color="#63cb5f"/><stop offset="0.342" stop-color="#25ab82"/><stop offset="0.397" stop-color="#228c8d"/><stop offset="0.562" stop-color="#414287"/><stop offset="0.699" stop-color="#482173"/><stop offset="1.000" stop-color="#482173"/></linearGradient><linearGradient id="g163" x2="0" y2="1"><stop offset="0.000" stop-color="#450457"/><stop offset="0.040" stop-color="#460b5e"/><stop offset="0.053" stop-color="#481769"/><stop offset="0.067" stop-color="#453781"/><stop offset="0.093" stop-color="#2a768e"/><stop offset="0.133" stop-color="#1e9c89"/><stop offset="0.160" stop-color="#2eb37c"/><stop offset="0.213" stop-color="#69cd5b"/><stop offset="0.253" stop-color="#6ccd5a"/><stop offset="0.307" stop-color="#4cc26c"/><stop offset="0.373" stop-color="#20a386"/><stop offset="0.507" stop-color="#355e8d"/><stop offset="0.667" stop-color="#482878"/><stop offset="0.853" stop-color="#482173"/><stop offset="1.000" stop-color="#482173"/></linearGradient><linearGradient id="g164" x2="0" y2="1"><stop offset="0.000" stop-color="#450457"/><stop offset="0.053" stop-color="#471164"/><stop offset="0.066" stop-color="#482173"/><stop offset="0.079" stop-color="#433e85"/><stop offset="0.092" stop-color="#355e8d"/><stop offset="0.118" stop-color="#277f8e"/><stop offset="0.158" stop-color="#20a386"/><stop offset="0.197" stop-color="#46c06f"/><stop offset="0.237" stop-color="#67cc5c"/><stop offset="0.289" stop-color="#5ec962"/><stop offset="0.368" stop-color="#25ac82"/><stop offset="0.421" stop-color="#218e8d"/><stop offset="0.592" stop-color="#424086"/><stop offset="0.711" stop-color="#482173"/><stop offset="1.000" stop-color="#482173"/></linearGradient><linearGradient id="g165" x2="0" y2="1"><stop offset="0.000" stop-color="#450457"/><stop offset="0.053" stop-color="#481668"/><stop offset="0.079" stop-color="#424186"/><stop offset="0.092" stop-color="#355e8d"/><stop offset="0.158" stop-color="#1f9f88"/><stop offset="0.184" stop-color="#2fb47c"/><stop offset="0.224" stop-color="#5ac864"/><stop offset="0.250" stop-color="#65cb5e"/><stop offset="0.289" stop-color="#5ac864"/><stop offset="0.382" stop-color="#21a585"/><stop offset="0.474" stop-color="#2c738e"/><stop offset="0.645" stop-color="#46307e"/><stop offset="0.724" stop-color="#482173"/><stop offset="1.000" stop-color="#482173"/></linearGradient><linearGradient id="g166" x2="0" y2="1"><stop offset="0.000" stop-color="#450457"/><stop offset="0.065" stop-color="#48186a"/><stop offset="0.091" stop-color="#414487"/><stop offset="0.104" stop-color="#365d8d"/><stop offset="0.169" stop-color="#1f9a8a"/><stop offset="0.195" stop-color="#29af7f"/><stop offset="0.247" stop-color="#5ac864"/><stop offset="0.286" stop-color="#5cc863"/><stop offset="0.377" stop-color="#25ac82"/><stop offset="0.429" stop-color="#21908d"/><stop offset="0.597" stop-color="#414287"/><stop offset="0.714" stop-color="#482173"/><stop offset="1.000" stop-color="#482173"/></linearGradient><linearGradient id="g167" x2="0" y2="1"><stop offset="0.000" stop-color="#450457"/><stop offset="0.065" stop-color="#481d6f"/><stop offset="0.104" stop-color="#375a8c"/><stop offset="0.182" stop-color="#1fa188"/><stop offset="0.221" stop-color="#3dbc74"/><stop offset="0.260" stop-color="#5ac864"/><stop offset="0.312" stop-color="#4ec36b"/><stop offset="0.390" stop-color="#21a585"/><stop offset="0.481" stop-color="#2b758e"/><stop offset="0.662" stop-color="#472e7c"/><stop offset="0.740" stop-color="#482173"/><stop offset="1.000" stop-color="#482173"/></linearGradient><linearGradient id="g168" x2="0" y2="1"><stop offset="0.000" stop-color="#450457"/><stop offset="0.065" stop-color="#482173"/><stop offset="0.104" stop-color="#39558c"/><stop offset="0.182" stop-color="#1e9c89"/><stop offset="0.221" stop-color="#37b878"/><stop offset="0.260" stop-color="#54c568"/><stop offset="0.312" stop-color="#4cc26c"/><stop offset="0.390" stop-color="#21a685"/><stop offset="0.481" stop-color="#2a778e"/><stop offset="0.649" stop-color="#46327e"/><stop offset="0.740" stop-color="#482173"/><stop offset="1.000" stop-color="#482173"/></linearGradient><linearGradient id="g169" x2="0" y2="1"><stop offset="0.000" stop-color="#440256"/><stop offset="0.064" stop-color="#481a6c"/><stop offset="0.115" stop-color="#3b528b"/><stop offset="0.192" stop-color="#1f978b"/><stop offset="0.231" stop-color="#2fb47c"/><stop offset="0.269" stop-color="#4ec36b"/><stop offset="0.321" stop-color="#48c16e"/><stop offset="0.410" stop-color="#1fa188"/><stop offset="0.564" stop-color="#3a548c"/><stop offset="0.718" stop-color="#482173"/><stop offset="1.000" stop-color="#482173"/></linearGradient><linearGradient id="g170" x2="0" y2="1"><stop offset="0.000" stop-color="#450457"/><stop offset="0.064" stop-color="#481d6f"/><stop offset="0.115" stop-color="#3c508b"/><stop offset="0.205" stop-color="#1f9e89"/><stop offset="0.256" stop-color="#3fbc73"/><stop offset="0.295" stop-color="#4cc26c"/><stop offset="0.385" stop-color="#27ad81"/><stop offset="0.436" stop-color="#1f948c"/><stop offset="0.615" stop-color="#414287"/><stop offset="0.731" stop-color="#482173"/><stop offset="1.000" stop-color="#482173"/></linearGradient><linearGradient id="g171" x2="0" y2="1"><stop offset="0.000" stop-color="#450457"/><stop offset="0.064" stop-color="#482071"/><stop offset="0.115" stop-color="#3c4f8a"/><stop offset="0.205" stop-color="#1f998a"/><stop offset="0.244" stop-color="#2eb37c"/><stop offset="0.295" stop-color="#46c06f"/><stop offset="0.346" stop-color="#3aba76"/><stop offset="0.423" stop-color="#1e9d89"/><stop offset="0.590" stop-color="#3c4f8a"/><stop offset="0.731" stop-color="#482173"/><stop offset="1.000" stop-color="#482173"/></linearGradient><linearGradient id="g172" x2="0" y2="1"><stop offset="0.000" stop-color="#440256"/><stop offset="0.063" stop-color="#481b6d"/><stop offset="0.127" stop-color="#3d4d8a"/><stop offset="0.215" stop-color="#1f958b"/><stop offset="0.253" stop-color="#29af7f"/><stop offset="0.304" stop-color="#42be71"/><stop offset="0.367" stop-color="#34b679"/><stop offset="0.430" stop-color="#1f9e89"/><stop offset="0.595" stop-color="#3c508b"/><stop offset="0.734" stop-color="#482173"/><stop offset="1.000" stop-color="#482173"/></linearGradient><linearGradient id="g173" x2="0" y2="1"><stop offset="0.000" stop-color="#450457"/><stop offset="0.063" stop-color="#481f70"/><stop offset="0.139" stop-color="#3a548c"/><stop offset="0.228" stop-color="#1e9b8a"/><stop offset="0.291" stop-color="#3aba76"/><stop offset="0.342" stop-color="#3bbb75"/><stop offset="0.430" stop-color="#1f9f88"/><stop offset="0.595" stop-color="#3b528b"/><stop offset="0.747" stop-color="#482173"/><stop offset="1.000" stop-color="#482173"/></linearGradient><linearGradient id="g174" x2="0" y2="1"><stop offset="0.000" stop-color="#450457"/><stop offset="0.076" stop-color="#482878"/><stop offset="0.165" stop-color="#31668e"/><stop offset="0.241" stop-color="#1f9f88"/><stop offset="0.304" stop-color="#38b977"/><stop offset="0.367" stop-color="#31b57b"/><stop offset="0.443" stop-color="#1f9a8a"/><stop offset="0.620" stop-color="#3e4a89"/><stop offset="0.747" stop-color="#482173"/><stop offset="1.000" stop-color="#482173"/></linearGradient><linearGradient id="g175" x2="0" y2="1"><stop offset="0.000" stop-color="#450457"/><stop offset="0.062" stop-color="#481a6c"/><stop offset="0.150" stop-color="#3c508b"/><stop offset="0.250" stop-color="#1e9b8a"/><stop offset="0.312" stop-color="#34b679"/><stop offset="0.375" stop-color="#2fb47c"/><stop offset="0.450" stop-color="#1e9b8a"/><stop offset="0.625" stop-color="#3e4c8a"/><stop offset="0.750" stop-color="#482173"/><stop offset="1.000" stop-color="#482173"/></linearGradient><linearGradient id="g176" x2="0" y2="1"><stop offset="0.000" stop-color="#450457"/><stop offset="0.049" stop-color="#470e61"/><stop offset="0.148" stop-color="#404588"/><stop offset="0.259" stop-color="#1f978b"/><stop offset="0.321" stop-color="#2eb37c"/><stop offset="0.383" stop-color="#2eb37c"/><stop offset="0.469" stop-color="#1f978b"/><stop offset="0.642" stop-color="#3f4889"/><stop offset="0.765" stop-color="#482173"/><stop offset="1.000" stop-color="#482173"/></linearGradient><linearGradient id="g177" x2="0" y2="1"><stop offset="0.000" stop-color="#450457"/><stop offset="0.061" stop-color="#471063"/><stop offset="0.159" stop-color="#3f4788"/><stop offset="0.268" stop-color="#1f958b"/><stop offset="0.341" stop-color="#2eb37c"/><stop offset="0.427" stop-color="#23a983"/><stop offset="0.500" stop-color="#228c8d"/><stop offset="0.671" stop-color="#423f85"/><stop offset="0.768" stop-color="#482173"/><stop offset="1.000" stop-color="#482173"/></linearGradient><linearGradient id="g178" x2="0" y2="1"><stop offset="0.000" stop-color="#450559"/><stop offset="0.060" stop-color="#470d60"/><stop offset="0.157" stop-color="#423f85"/><stop offset="0.265" stop-color="#228c8d"/><stop offset="0.325" stop-color="#25ab82"/><stop offset="0.398" stop-color="#29af7f"/><stop offset="0.482" stop-color="#1f968b"/><stop offset="0.663" stop-color="#404588"/><stop offset="0.771" stop-color="#482173"/><stop offset="1.000" stop-color="#482173"/></linearGradient><linearGradient id="g179" x2="0" y2="1"><stop offset="0.000" stop-color="#450457"/><stop offset="0.082" stop-color="#471063"/><stop offset="0.188" stop-color="#3f4889"/><stop offset="0.306" stop-color="#1f988b"/><stop offset="0.376" stop-color="#29af7f"/><stop offset="0.471" stop-color="#1f9f88"/><stop offset="0.647" stop-color="#3c508b"/><stop offset="0.776" stop-color="#482173"/><stop offset="1.000" stop-color="#482173"/></linearGradient><linearGradient id="g180" x2="0" y2="1"><stop offset="0.000" stop-color="#450559"/><stop offset="0.071" stop-color="#460b5e"/><stop offset="0.176" stop-color="#424186"/><stop offset="0.294" stop-color="#21908d"/><stop offset="0.365" stop-color="#25ab82"/><stop offset="0.447" stop-color="#21a585"/><stop offset="0.553" stop-color="#287c8e"/><stop offset="0.718" stop-color="#463480"/><stop offset="0.788" stop-color="#482173"/><stop offset="1.000" stop-color="#482173"/></linearGradient><linearGradient id="g181" x2="0" y2="1"><stop offset="0.000" stop-color="#450457"/><stop offset="0.081" stop-color="#470d60"/><stop offset="0.186" stop-color="#414287"/><stop offset="0.314" stop-color="#20938c"/><stop offset="0.384" stop-color="#24aa83"/><stop offset="0.477" stop-color="#1e9d89"/><stop offset="0.663" stop-color="#3d4d8a"/><stop offset="0.779" stop-color="#482173"/><stop offset="1.000" stop-color="#482173"/></linearGradient><linearGradient id="g182" x2="0" y2="1"><stop offset="0.000" stop-color="#450457"/><stop offset="0.092" stop-color="#470e61"/><stop offset="0.195" stop-color="#414487"/><stop offset="0.322" stop-color="#20928c"/><stop offset="0.402" stop-color="#22a884"/><stop offset="0.494" stop-color="#1f988b"/><stop offset="0.678" stop-color="#3f4889"/><stop offset="0.793" stop-color="#482173"/><stop offset="1.000" stop-color="#482173"/></linearGradient><linearGradient id="g183" x2="0" y2="1"><stop offset="0.000" stop-color="#450457"/><stop offset="0.102" stop-color="#471063"/><stop offset="0.205" stop-color="#404588"/><stop offset="0.341" stop-color="#1f948c"/><stop offset="0.409" stop-color="#21a585"/><stop offset="0.500" stop-color="#1f978b"/><stop offset="0.682" stop-color="#3f4889"/><stop offset="0.795" stop-color="#482173"/><stop offset="1.000" stop-color="#482173"/></linearGradient><linearGradient id="g184" x2="0" y2="1"><stop offset="0.000" stop-color="#450559"/><stop offset="0.102" stop-color="#471164"/><stop offset="0.216" stop-color="#3e4c8a"/><stop offset="0.352" stop-color="#1f978b"/><stop offset="0.432" stop-color="#1fa287"/><stop offset="0.545" stop-color="#24868e"/><stop offset="0.716" stop-color="#443a83"/><stop offset="0.795" stop-color="#482173"/><stop offset="1.000" stop-color="#482173"/></linearGradient><linearGradient id="g185" x2="0" y2="1"><stop offset="0.000" stop-color="#450457"/><stop offset="0.112" stop-color="#471365"/><stop offset="0.225" stop-color="#3e4c8a"/><stop offset="0.360" stop-color="#1f948c"/><stop offset="0.438" stop-color="#1fa188"/><stop offset="0.539" stop-color="#238a8d"/><stop offset="0.708" stop-color="#424086"/><stop offset="0.798" stop-color="#482173"/><stop offset="1.000" stop-color="#482173"/></linearGradient><linearGradient id="g186" x2="0" y2="1"><stop offset="0.000" stop-color="#450457"/><stop offset="0.122" stop-color="#481467"/><stop offset="0.233" stop-color="#3e4c8a"/><stop offset="0.378" stop-color="#1f958b"/><stop offset="0.467" stop-color="#1e9d89"/><stop offset="0.589" stop-color="#2a788e"/><stop offset="0.733" stop-color="#453781"/><stop offset="0.811" stop-color="#482173"/><stop offset="1.000" stop-color="#482173"/></linearGradient><linearGradient id="g187" x2="0" y2="1"><stop offset="0.000" stop-color="#450559"/><stop offset="0.111" stop-color="#471164"/><stop offset="0.233" stop-color="#3d4d8a"/><stop offset="0.367" stop-color="#21918c"/><stop offset="0.444" stop-color="#1e9d89"/><stop offset="0.544" stop-color="#23888e"/><stop offset="0.722" stop-color="#443b84"/><stop offset="0.800" stop-color="#482173"/><stop offset="1.000" stop-color="#482173"/></linearGradient><linearGradient id="g188" x2="0" y2="1"><stop offset="0.000" stop-color="#450457"/><stop offset="0.121" stop-color="#471365"/><stop offset="0.242" stop-color="#3d4e8a"/><stop offset="0.374" stop-color="#21908d"/><stop offset="0.451" stop-color="#1e9c89"/><stop offset="0.560" stop-color="#25838e"/><stop offset="0.725" stop-color="#443b84"/><stop offset="0.802" stop-color="#482173"/><stop offset="1.000" stop-color="#482173"/></linearGradient><linearGradient id="g189" x2="0" y2="1"><stop offset="0.000" stop-color="#450457"/><stop offset="0.130" stop-color="#481467"/><stop offset="0.250" stop-color="#3c4f8a"/><stop offset="0.391" stop-color="#20928c"/><stop offset="0.478" stop-color="#1f998a"/><stop offset="0.598" stop-color="#2a768e"/><stop offset="0.739" stop-color="#453781"/><stop offset="0.804" stop-color="#482173"/><stop offset="1.000" stop-color="#482173"/></linearGradient><linearGradient id="g190" x2="0" y2="1"><stop offset="0.000" stop-color="#450559"/><stop offset="0.120" stop-color="#471164"/><stop offset="0.239" stop-color="#3e4989"/><stop offset="0.380" stop-color="#218e8d"/><stop offset="0.467" stop-color="#1f998a"/><stop offset="0.587" stop-color="#297a8e"/><stop offset="0.739" stop-color="#453781"/><stop offset="0.804" stop-color="#482173"/><stop offset="1.000" stop-color="#482173"/></linearGradient><linearGradient id="g191" x2="0" y2="1"><stop offset="0.000" stop-color="#450457"/><stop offset="0.140" stop-color="#481769"/><stop offset="0.258" stop-color="#3c508b"/><stop offset="0.398" stop-color="#21908d"/><stop offset="0.484" stop-color="#1f968b"/><stop offset="0.591" stop-color="#29798e"/><stop offset="0.742" stop-color="#453581"/><stop offset="0.817" stop-color="#482173"/><stop offset="1.000" stop-color="#482173"/></linearGradient><linearGradient id="g192" x2="0" y2="1"><stop offset="0.000" stop-color="#450457"/><stop offset="0.129" stop-color="#471365"/><stop offset="0.237" stop-color="#404588"/><stop offset="0.387" stop-color="#228c8d"/><stop offset="0.473" stop-color="#1f968b"/><stop offset="0.581" stop-color="#287d8e"/><stop offset="0.731" stop-color="#443a83"/><stop offset="0.806" stop-color="#482173"/><stop offset="1.000" stop-color="#482173"/></linearGradient><linearGradient id="g193" x2="0" y2="1"><stop offset="0.000" stop-color="#450559"/><stop offset="0.129" stop-color="#481467"/><stop offset="0.247" stop-color="#3e4c8a"/><stop offset="0.398" stop-color="#218e8d"/><stop offset="0.484" stop-color="#1f948c"/><stop offset="0.602" stop-color="#2c738e"/><stop offset="0.753" stop-color="#46327e"/><stop offset="0.806" stop-color="#482173"/><stop offset="1.000" stop-color="#482173"/></linearGradient><linearGradient id="g194" x2="0" y2="1"><stop offset="0.000" stop-color="#450457"/><stop offset="0.138" stop-color="#481668"/><stop offset="0.255" stop-color="#3d4d8a"/><stop offset="0.404" stop-color="#228d8d"/><stop offset="0.500" stop-color="#20928c"/><stop offset="0.628" stop-color="#306a8e"/><stop offset="0.766" stop-color="#472d7b"/><stop offset="0.819" stop-color="#482173"/><stop offset="1.000" stop-color="#482173"/></linearGradient><linearGradient id="g195" x2="0" y2="1"><stop offset="0.000" stop-color="#450457"/><stop offset="0.138" stop-color="#481769"/><stop offset="0.255" stop-color="#3d4d8a"/><stop offset="0.394" stop-color="#23888e"/><stop offset="0.479" stop-color="#20928c"/><stop offset="0.585" stop-color="#297a8e"/><stop offset="0.745" stop-color="#453581"/><stop offset="0.809" stop-color="#482173"/><stop offset="1.000" stop-color="#482173"/></linearGradient><linearGradient id="g196" x2="0" y2="1"><stop offset="0.000" stop-color="#450457"/><stop offset="0.128" stop-color="#471365"/><stop offset="0.234" stop-color="#414287"/><stop offset="0.394" stop-color="#24878e"/><stop offset="0.489" stop-color="#21918c"/><stop offset="0.606" stop-color="#2c718e"/><stop offset="0.745" stop-color="#453581"/><stop offset="0.809" stop-color="#482173"/><stop offset="1.000" stop-color="#482173"/></linearGradient><linearGradient id="g197" x2="0" y2="1"><stop offset="0.000" stop-color="#450559"/><stop offset="0.128" stop-color="#481467"/><stop offset="0.234" stop-color="#414487"/><stop offset="0.394" stop-color="#24868e"/><stop offset="0.489" stop-color="#21908d"/><stop offset="0.606" stop-color="#2d718e"/><stop offset="0.755" stop-color="#46307e"/><stop offset="0.809" stop-color="#482173"/><stop offset="1.000" stop-color="#482173"/></linearGradient><linearGradient id="g198" x2="0" y2="1"><stop offset="0.000" stop-color="#450457"/><stop offset="0.137" stop-color="#481668"/><stop offset="0.253" stop-color="#3e4989"/><stop offset="0.411" stop-color="#23888e"/><stop offset="0.505" stop-color="#228d8d"/><stop offset="0.621" stop-color="#2f6c8e"/><stop offset="0.758" stop-color="#46307e"/><stop offset="0.811" stop-color="#482173"/><stop offset="1.000" stop-color="#482173"/></linearGradient><linearGradient id="g199" x2="0" y2="1"><stop offset="0.000" stop-color="#450457"/><stop offset="0.126" stop-color="#471365"/><stop offset="0.242" stop-color="#404588"/><stop offset="0.400" stop-color="#25848e"/><stop offset="0.505" stop-color="#228c8d"/><stop offset="0.621" stop-color="#2f6b8e"/><stop offset="0.758" stop-color="#46307e"/><stop offset="0.811" stop-color="#482173"/><stop offset="1.000" stop-color="#482173"/></linearGradient><linearGradient id="g200" x2="0" y2="1"><stop offset="0.000" stop-color="#450457"/><stop offset="0.135" stop-color="#481467"/><stop offset="0.240" stop-color="#424086"/><stop offset="0.406" stop-color="#25838e"/><stop offset="0.510" stop-color="#228b8d"/><stop offset="0.625" stop-color="#2f6b8e"/><stop offset="0.760" stop-color="#472f7d"/><stop offset="0.823" stop-color="#482173"/><stop offset="1.000" stop-color="#482173"/></linearGradient><linearGradient id="g201" x2="0" y2="1"><stop offset="0.000" stop-color="#450457"/><stop offset="0.135" stop-color="#481668"/><stop offset="0.260" stop-color="#3e4a89"/><stop offset="0.417" stop-color="#25848e"/><stop offset="0.510" stop-color="#23898e"/><stop offset="0.625" stop-color="#306a8e"/><stop offset="0.760" stop-color="#472f7d"/><stop offset="0.823" stop-color="#482173"/><stop offset="1.000" stop-color="#482173"/></linearGradient><linearGradient id="g202" x2="0" y2="1"><stop offset="0.000" stop-color="#450559"/><stop offset="0.125" stop-color="#471365"/><stop offset="0.250" stop-color="#404688"/><stop offset="0.406" stop-color="#26828e"/><stop offset="0.510" stop-color="#23898e"/><stop offset="0.635" stop-color="#31668e"/><stop offset="0.781" stop-color="#482979"/><stop offset="0.833" stop-color="#482173"/><stop offset="1.000" stop-color="#482173"/></linearGradient><linearGradient id="g203" x2="0" y2="1"><stop offset="0.000" stop-color="#450457"/><stop offset="0.134" stop-color="#481467"/><stop offset="0.268" stop-color="#3e4a89"/><stop offset="0.423" stop-color="#26828e"/><stop offset="0.526" stop-color="#24878e"/><stop offset="0.649" stop-color="#33628d"/><stop offset="0.794" stop-color="#482576"/><stop offset="1.000" stop-color="#482173"/></linearGradient><linearGradient id="g204" x2="0" y2="1"><stop offset="0.000" stop-color="#450457"/><stop offset="0.134" stop-color="#481467"/><stop offset="0.268" stop-color="#3e4989"/><stop offset="0.412" stop-color="#27808e"/><stop offset="0.515" stop-color="#24878e"/><stop offset="0.639" stop-color="#31668e"/><stop offset="0.773" stop-color="#472d7b"/><stop offset="0.835" stop-color="#482173"/><stop offset="1.000" stop-color="#482173"/></linearGradient><linearGradient id="g205" x2="0" y2="1"><stop offset="0.000" stop-color="#450559"/><stop offset="0.134" stop-color="#481668"/><stop offset="0.278" stop-color="#3d4e8a"/><stop offset="0.423" stop-color="#26828e"/><stop offset="0.526" stop-color="#25858e"/><stop offset="0.649" stop-color="#33628d"/><stop offset="0.794" stop-color="#482677"/><stop offset="1.000" stop-color="#482173"/></linearGradient><linearGradient id="g206" x2="0" y2="1"><stop offset="0.000" stop-color="#450559"/><stop offset="0.134" stop-color="#481668"/><stop offset="0.278" stop-color="#3d4e8a"/><stop offset="0.423" stop-color="#26818e"/><stop offset="0.526" stop-color="#25858e"/><stop offset="0.660" stop-color="#365d8d"/><stop offset="0.814" stop-color="#482173"/><stop offset="1.000" stop-color="#482173"/></linearGradient><linearGradient id="g207" x2="0" y2="1"><stop offset="0.000" stop-color="#450559"/><stop offset="0.134" stop-color="#481668"/><stop offset="0.278" stop-color="#3d4e8a"/><stop offset="0.423" stop-color="#27808e"/><stop offset="0.526" stop-color="#25848e"/><stop offset="0.660" stop-color="#355e8d"/><stop offset="0.814" stop-color="#482173"/><stop offset="1.000" stop-color="#482173"/></linearGradient><linearGradient id="g208" x2="0" y2="1"><stop offset="0.000" stop-color="#450559"/><stop offset="0.134" stop-color="#481668"/><stop offset="0.278" stop-color="#3d4e8a"/><stop offset="0.433" stop-color="#26818e"/><stop offset="0.546" stop-color="#26818e"/><stop offset="0.701" stop-color="#3d4d8a"/><stop offset="0.825" stop-color="#482173"/><stop offset="1.000" stop-color="#482173"/></linearGradient><linearGradient id="g209" x2="0" y2="1"><stop offset="0.000" stop-color="#450457"/><stop offset="0.134" stop-color="#481668"/><stop offset="0.278" stop-color="#3d4e8a"/><stop offset="0.433" stop-color="#27808e"/><stop offset="0.536" stop-color="#26828e"/><stop offset="0.680" stop-color="#39558c"/><stop offset="0.825" stop-color="#482173"/><stop offset="1.000" stop-color="#482173"/></linearGradient><linearGradient id="g210" x2="0" y2="1"><stop offset="0.000" stop-color="#450457"/><stop offset="0.134" stop-color="#481668"/><stop offset="0.268" stop-color="#3e4989"/><stop offset="0.423" stop-color="#287d8e"/><stop offset="0.526" stop-color="#26828e"/><stop offset="0.660" stop-color="#355e8d"/><stop offset="0.804" stop-color="#482576"/><stop offset="1.000" stop-color="#482173"/></linearGradient><linearGradient id="g211" x2="0" y2="1"><stop offset="0.000" stop-color="#450457"/><stop offset="0.134" stop-color="#481668"/><stop offset="0.268" stop-color="#3e4989"/><stop offset="0.423" stop-color="#287c8e"/><stop offset="0.536" stop-color="#26818e"/><stop offset="0.680" stop-color="#39558c"/><stop offset="0.825" stop-color="#482173"/><stop offset="1.000" stop-color="#482173"/></linearGradient><linearGradient id="g212" x2="0" y2="1"><stop offset="0.000" stop-color="#450457"/><stop offset="0.134" stop-color="#481668"/><stop offset="0.258" stop-color="#404588"/><stop offset="0.433" stop-color="#277e8e"/><stop offset="0.546" stop-color="#277e8e"/><stop offset="0.691" stop-color="#3b518b"/><stop offset="0.825" stop-color="#482173"/><stop offset="1.000" stop-color="#482173"/></linearGradient><linearGradient id="g213" x2="0" y2="1"><stop offset="0.000" stop-color="#450457"/><stop offset="0.134" stop-color="#481668"/><stop offset="0.258" stop-color="#404588"/><stop offset="0.433" stop-color="#287d8e"/><stop offset="0.546" stop-color="#277e8e"/><stop offset="0.711" stop-color="#3e4989"/><stop offset="0.825" stop-color="#482173"/><stop offset="1.000" stop-color="#482173"/></linearGradient><linearGradient id="g214" x2="0" y2="1"><stop offset="0.000" stop-color="#450457"/><stop offset="0.134" stop-color="#481668"/><stop offset="0.258" stop-color="#414487"/><stop offset="0.423" stop-color="#297a8e"/><stop offset="0.536" stop-color="#277e8e"/><stop offset="0.680" stop-color="#39558c"/><stop offset="0.825" stop-color="#482173"/><stop offset="1.000" stop-color="#482173"/></linearGradient><linearGradient id="g215" x2="0" y2="1"><stop offset="0.000" stop-color="#450457"/><stop offset="0.134" stop-color="#481668"/><stop offset="0.258" stop-color="#414487"/><stop offset="0.423" stop-color="#29798e"/><stop offset="0.536" stop-color="#277e8e"/><stop offset="0.680" stop-color="#39558c"/><stop offset="0.825" stop-color="#482173"/><stop offset="1.000" stop-color="#482173"/></linearGradient><linearGradient id="g216" x2="0" y2="1"><stop offset="0.000" stop-color="#450457"/><stop offset="0.134" stop-color="#481668"/><stop offset="0.258" stop-color="#414487"/><stop offset="0.423" stop-color="#2a788e"/><stop offset="0.536" stop-color="#287d8e"/><stop offset="0.680" stop-color="#39558c"/><stop offset="0.825" stop-color="#482173"/><stop offset="1.000" stop-color="#482173"/></linearGradient><linearGradient id="g217" x2="0" y2="1"><stop offset="0.000" stop-color="#450457"/><stop offset="0.133" stop-color="#471164"/><stop offset="0.235" stop-color="#453882"/><stop offset="0.418" stop-color="#2b758e"/><stop offset="0.531" stop-color="#277e8e"/><stop offset="0.663" stop-color="#365d8d"/><stop offset="0.816" stop-color="#482475"/><stop offset="1.000" stop-color="#482173"/></linearGradient><linearGradient id="g218" x2="0" y2="1"><stop offset="0.000" stop-color="#450457"/><stop offset="0.133" stop-color="#471365"/><stop offset="0.255" stop-color="#423f85"/><stop offset="0.429" stop-color="#2a778e"/><stop offset="0.541" stop-color="#287c8e"/><stop offset="0.694" stop-color="#3b518b"/><stop offset="0.837" stop-color="#482173"/><stop offset="1.000" stop-color="#482173"/></linearGradient><linearGradient id="g219" x2="0" y2="1"><stop offset="0.000" stop-color="#450457"/><stop offset="0.141" stop-color="#481467"/><stop offset="0.293" stop-color="#3e4a89"/><stop offset="0.455" stop-color="#297a8e"/><stop offset="0.566" stop-color="#2a788e"/><stop offset="0.717" stop-color="#3e4989"/><stop offset="0.838" stop-color="#482173"/><stop offset="1.000" stop-color="#482173"/></linearGradient><linearGradient id="g220" x2="0" y2="1"><stop offset="0.000" stop-color="#450457"/><stop offset="0.141" stop-color="#481668"/><stop offset="0.313" stop-color="#3b518b"/><stop offset="0.455" stop-color="#29798e"/><stop offset="0.566" stop-color="#2a788e"/><stop offset="0.717" stop-color="#3e4989"/><stop offset="0.838" stop-color="#482173"/><stop offset="1.000" stop-color="#482173"/></linearGradient><linearGradient id="g221" x2="0" y2="1"><stop offset="0.000" stop-color="#450457"/><stop offset="0.150" stop-color="#481769"/><stop offset="0.320" stop-color="#3b518b"/><stop offset="0.470" stop-color="#297a8e"/><stop offset="0.580" stop-color="#2b758e"/><stop offset="0.740" stop-color="#424186"/><stop offset="0.840" stop-color="#482173"/><stop offset="1.000" stop-color="#482173"/></linearGradient><linearGradient id="g222" x2="0" y2="1"><stop offset="0.000" stop-color="#450559"/><stop offset="0.141" stop-color="#481668"/><stop offset="0.313" stop-color="#3c508b"/><stop offset="0.455" stop-color="#2a788e"/><stop offset="0.566" stop-color="#2a778e"/><stop offset="0.727" stop-color="#404588"/><stop offset="0.838" stop-color="#482173"/><stop offset="1.000" stop-color="#482173"/></linearGradient><linearGradient id="g223" x2="0" y2="1"><stop offset="0.000" stop-color="#450457"/><stop offset="0.152" stop-color="#481a6c"/><stop offset="0.323" stop-color="#3a538b"/><stop offset="0.455" stop-color="#2a778e"/><stop offset="0.566" stop-color="#2a768e"/><stop offset="0.707" stop-color="#3d4d8a"/><stop offset="0.838" stop-color="#482173"/><stop offset="1.000" stop-color="#482173"/></linearGradient><linearGradient id="g224" x2="0" y2="1"><stop offset="0.000" stop-color="#450457"/><stop offset="0.152" stop-color="#48186a"/><stop offset="0.323" stop-color="#3a538b"/><stop offset="0.465" stop-color="#2a788e"/><stop offset="0.586" stop-color="#2c728e"/><stop offset="0.768" stop-color="#453581"/><stop offset="0.848" stop-color="#482173"/><stop offset="1.000" stop-color="#482173"/></linearGradient><linearGradient id="g225" x2="0" y2="1"><stop offset="0.000" stop-color="#450457"/><stop offset="0.141" stop-color="#481467"/><stop offset="0.303" stop-color="#3e4c8a"/><stop offset="0.455" stop-color="#2a768e"/><stop offset="0.566" stop-color="#2b758e"/><stop offset="0.717" stop-color="#3f4889"/><stop offset="0.838" stop-color="#482173"/><stop offset="1.000" stop-color="#482173"/></linearGradient><linearGradient id="g226" x2="0" y2="1"><stop offset="0.000" stop-color="#450457"/><stop offset="0.141" stop-color="#481467"/><stop offset="0.313" stop-color="#3c4f8a"/><stop offset="0.465" stop-color="#2a768e"/><stop offset="0.576" stop-color="#2c738e"/><stop offset="0.758" stop-color="#443983"/><stop offset="0.838" stop-color="#482173"/><stop offset="1.000" stop-color="#482173"/></linearGradient><linearGradient id="g227" x2="0" y2="1"><stop offset="0.000" stop-color="#450457"/><stop offset="0.152" stop-color="#481769"/><stop offset="0.313" stop-color="#3d4e8a"/><stop offset="0.465" stop-color="#2a768e"/><stop offset="0.576" stop-color="#2c728e"/><stop offset="0.758" stop-color="#443983"/><stop offset="0.838" stop-color="#482173"/><stop offset="1.000" stop-color="#482173"/></linearGradient><linearGradient id="g228" x2="0" y2="1"><stop offset="0.000" stop-color="#450559"/><stop offset="0.143" stop-color="#481769"/><stop offset="0.316" stop-color="#3b518b"/><stop offset="0.459" stop-color="#2b758e"/><stop offset="0.571" stop-color="#2c728e"/><stop offset="0.745" stop-color="#433d84"/><stop offset="0.837" stop-color="#482173"/><stop offset="1.000" stop-color="#482173"/></linearGradient><linearGradient id="g229" x2="0" y2="1"><stop offset="0.000" stop-color="#450457"/><stop offset="0.143" stop-color="#481668"/><stop offset="0.306" stop-color="#3d4d8a"/><stop offset="0.449" stop-color="#2c738e"/><stop offset="0.571" stop-color="#2c718e"/><stop offset="0.745" stop-color="#443b84"/><stop offset="0.837" stop-color="#482173"/><stop offset="1.000" stop-color="#482173"/></linearGradient><linearGradient id="g230" x2="0" y2="1"><stop offset="0.000" stop-color="#450457"/><stop offset="0.143" stop-color="#481668"/><stop offset="0.306" stop-color="#3d4d8a"/><stop offset="0.459" stop-color="#2b748e"/><stop offset="0.582" stop-color="#2d708e"/><stop offset="0.765" stop-color="#463480"/><stop offset="0.847" stop-color="#482173"/><stop offset="1.000" stop-color="#482173"/></linearGradient><linearGradient id="g231" x2="0" y2="1"><stop offset="0.000" stop-color="#450457"/><stop offset="0.143" stop-color="#481467"/><stop offset="0.286" stop-color="#404588"/><stop offset="0.449" stop-color="#2c728e"/><stop offset="0.571" stop-color="#2d718e"/><stop offset="0.724" stop-color="#414487"/><stop offset="0.837" stop-color="#482173"/><stop offset="1.000" stop-color="#482173"/></linearGradient><linearGradient id="g232" x2="0" y2="1"><stop offset="0.000" stop-color="#450457"/><stop offset="0.143" stop-color="#481467"/><stop offset="0.296" stop-color="#3f4889"/><stop offset="0.449" stop-color="#2c718e"/><stop offset="0.571" stop-color="#2d718e"/><stop offset="0.755" stop-color="#453882"/><stop offset="0.847" stop-color="#482173"/><stop offset="1.000" stop-color="#482173"/></linearGradient><linearGradient id="g233" x2="0" y2="1"><stop offset="0.000" stop-color="#450457"/><stop offset="0.143" stop-color="#471365"/><stop offset="0.276" stop-color="#424086"/><stop offset="0.439" stop-color="#2d708e"/><stop offset="0.561" stop-color="#2c718e"/><stop offset="0.714" stop-color="#3f4788"/><stop offset="0.837" stop-color="#482173"/><stop offset="1.000" stop-color="#482173"/></linearGradient><linearGradient id="g234" x2="0" y2="1"><stop offset="0.000" stop-color="#450559"/><stop offset="0.144" stop-color="#481769"/><stop offset="0.299" stop-color="#3e4a89"/><stop offset="0.454" stop-color="#2c718e"/><stop offset="0.577" stop-color="#2e6e8e"/><stop offset="0.763" stop-color="#463480"/><stop offset="0.845" stop-color="#482173"/><stop offset="1.000" stop-color="#482173"/></linearGradient><linearGradient id="g235" x2="0" y2="1"><stop offset="0.000" stop-color="#450457"/><stop offset="0.144" stop-color="#481769"/><stop offset="0.309" stop-color="#3d4e8a"/><stop offset="0.464" stop-color="#2c718e"/><stop offset="0.577" stop-color="#2e6d8e"/><stop offset="0.763" stop-color="#463480"/><stop offset="0.845" stop-color="#482173"/><stop offset="1.000" stop-color="#482173"/></linearGradient><linearGradient id="g236" x2="0" y2="1"><stop offset="0.000" stop-color="#450457"/><stop offset="0.144" stop-color="#481668"/><stop offset="0.289" stop-color="#404688"/><stop offset="0.454" stop-color="#2d718e"/><stop offset="0.577" stop-color="#2e6d8e"/><stop offset="0.763" stop-color="#463480"/><stop offset="0.845" stop-color="#482173"/><stop offset="1.000" stop-color="#482173"/></linearGradient><linearGradient id="g237" x2="0" y2="1"><stop offset="0.000" stop-color="#450559"/><stop offset="0.135" stop-color="#481467"/><stop offset="0.250" stop-color="#443b84"/><stop offset="0.438" stop-color="#2e6f8e"/><stop offset="0.562" stop-color="#2e6f8e"/><stop offset="0.750" stop-color="#453882"/><stop offset="0.844" stop-color="#482173"/><stop offset="1.000" stop-color="#482173"/></linearGradient><linearGradient id="g238" x2="0" y2="1"><stop offset="0.000" stop-color="#450457"/><stop offset="0.146" stop-color="#481769"/><stop offset="0.281" stop-color="#404588"/><stop offset="0.448" stop-color="#2d708e"/><stop offset="0.573" stop-color="#2e6d8e"/><stop offset="0.760" stop-color="#463480"/><stop offset="0.844" stop-color="#482173"/><stop offset="1.000" stop-color="#482173"/></linearGradient><linearGradient id="g239" x2="0" y2="1"><stop offset="0.000" stop-color="#450457"/><stop offset="0.146" stop-color="#481668"/><stop offset="0.250" stop-color="#443a83"/><stop offset="0.438" stop-color="#2e6e8e"/><stop offset="0.562" stop-color="#2e6e8e"/><stop offset="0.750" stop-color="#443983"/><stop offset="0.844" stop-color="#482173"/><stop offset="1.000" stop-color="#482173"/></linearGradient><linearGradient id="g240" x2="0" y2="1"><stop offset="0.000" stop-color="#450457"/><stop offset="0.146" stop-color="#481467"/><stop offset="0.250" stop-color="#443983"/><stop offset="0.427" stop-color="#2f6c8e"/><stop offset="0.552" stop-color="#2e6f8e"/><stop offset="0.698" stop-color="#3e4a89"/><stop offset="0.844" stop-color="#482173"/><stop offset="1.000" stop-color="#482173"/></linearGradient><linearGradient id="g241" x2="0" y2="1"><stop offset="0.000" stop-color="#450457"/><stop offset="0.137" stop-color="#471365"/><stop offset="0.242" stop-color="#443983"/><stop offset="0.432" stop-color="#2e6d8e"/><stop offset="0.558" stop-color="#2e6e8e"/><stop offset="0.726" stop-color="#424086"/><stop offset="0.842" stop-color="#482173"/><stop offset="1.000" stop-color="#482173"/></linearGradient><linearGradient id="g242" x2="0" y2="1"><stop offset="0.000" stop-color="#450457"/><stop offset="0.147" stop-color="#481769"/><stop offset="0.263" stop-color="#423f85"/><stop offset="0.442" stop-color="#2e6e8e"/><stop offset="0.568" stop-color="#2f6c8e"/><stop offset="0.768" stop-color="#46337f"/><stop offset="0.853" stop-color="#482173"/><stop offset="1.000" stop-color="#482173"/></linearGradient><linearGradient id="g243" x2="0" y2="1"><stop offset="0.000" stop-color="#450457"/><stop offset="0.147" stop-color="#481668"/><stop offset="0.253" stop-color="#443a83"/><stop offset="0.432" stop-color="#2f6c8e"/><stop offset="0.568" stop-color="#2f6c8e"/><stop offset="0.758" stop-color="#453781"/><stop offset="0.853" stop-color="#482173"/><stop offset="1.000" stop-color="#482173"/></linearGradient><linearGradient id="g244" x2="0" y2="1"><stop offset="0.000" stop-color="#450457"/><stop offset="0.147" stop-color="#481668"/><stop offset="0.263" stop-color="#433e85"/><stop offset="0.442" stop-color="#2e6d8e"/><stop offset="0.568" stop-color="#2f6c8e"/><stop offset="0.768" stop-color="#463480"/><stop offset="0.853" stop-color="#482173"/><stop offset="1.000" stop-color="#482173"/></linearGradient><linearGradient id="g245" x2="0" y2="1"><stop offset="0.000" stop-color="#450457"/><stop offset="0.147" stop-color="#481668"/><stop offset="0.253" stop-color="#443983"/><stop offset="0.432" stop-color="#2f6b8e"/><stop offset="0.558" stop-color="#2e6d8e"/><stop offset="0.716" stop-color="#404588"/><stop offset="0.842" stop-color="#482173"/><stop offset="1.000" stop-color="#482173"/></linearGradient><linearGradient id="g246" x2="0" y2="1"><stop offset="0.000" stop-color="#450457"/><stop offset="0.147" stop-color="#481668"/><stop offset="0.284" stop-color="#414487"/><stop offset="0.442" stop-color="#2f6c8e"/><stop offset="0.568" stop-color="#2f6b8e"/><stop offset="0.747" stop-color="#443b84"/><stop offset="0.853" stop-color="#482173"/><stop offset="1.000" stop-color="#482173"/></linearGradient><linearGradient id="g247" x2="0" y2="1"><stop offset="0.000" stop-color="#450457"/><stop offset="0.147" stop-color="#481668"/><stop offset="0.295" stop-color="#404688"/><stop offset="0.453" stop-color="#2e6d8e"/><stop offset="0.579" stop-color="#306a8e"/><stop offset="0.779" stop-color="#46327e"/><stop offset="0.863" stop-color="#482173"/><stop offset="1.000" stop-color="#482173"/></linearGradient><linearGradient id="g248" x2="0" y2="1"><stop offset="0.000" stop-color="#450457"/><stop offset="0.156" stop-color="#481668"/><stop offset="0.302" stop-color="#404588"/><stop offset="0.458" stop-color="#2f6c8e"/><stop offset="0.583" stop-color="#30698e"/><stop offset="0.781" stop-color="#46327e"/><stop offset="0.865" stop-color="#482173"/><stop offset="1.000" stop-color="#482173"/></linearGradient><linearGradient id="g249" x2="0" y2="1"><stop offset="0.000" stop-color="#450457"/><stop offset="0.156" stop-color="#481668"/><stop offset="0.312" stop-color="#3f4889"/><stop offset="0.469" stop-color="#2e6d8e"/><stop offset="0.594" stop-color="#31678e"/><stop offset="0.781" stop-color="#46327e"/><stop offset="0.865" stop-color="#482173"/><stop offset="1.000" stop-color="#482173"/></linearGradient><linearGradient id="g250" x2="0" y2="1"><stop offset="0.000" stop-color="#450457"/><stop offset="0.156" stop-color="#481668"/><stop offset="0.323" stop-color="#3e4a89"/><stop offset="0.469" stop-color="#2e6d8e"/><stop offset="0.594" stop-color="#31678e"/><stop offset="0.781" stop-color="#46337f"/><stop offset="0.865" stop-color="#482173"/><stop offset="1.000" stop-color="#482173"/></linearGradient><linearGradient id="g251" x2="0" y2="1"><stop offset="0.000" stop-color="#450457"/><stop offset="0.156" stop-color="#481668"/><stop offset="0.323" stop-color="#3e4a89"/><stop offset="0.469" stop-color="#2f6c8e"/><stop offset="0.594" stop-color="#31678e"/><stop offset="0.781" stop-color="#46337f"/><stop offset="0.865" stop-color="#482173"/><stop offset="1.000" stop-color="#482173"/></linearGradient><linearGradient id="g252" x2="0" y2="1"><stop offset="0.000" stop-color="#450457"/><stop offset="0.167" stop-color="#481a6c"/><stop offset="0.344" stop-color="#3c508b"/><stop offset="0.490" stop-color="#2e6d8e"/><stop offset="0.625" stop-color="#34618d"/><stop offset="0.812" stop-color="#472a7a"/><stop offset="0.875" stop-color="#482173"/><stop offset="1.000" stop-color="#482173"/></linearGradient><linearGradient id="g253" x2="0" y2="1"><stop offset="0.000" stop-color="#450457"/><stop offset="0.167" stop-color="#48186a"/><stop offset="0.344" stop-color="#3c508b"/><stop offset="0.490" stop-color="#2e6d8e"/><stop offset="0.625" stop-color="#34618d"/><stop offset="0.812" stop-color="#472a7a"/><stop offset="0.906" stop-color="#482173"/><stop offset="1.000" stop-color="#482173"/></linearGradient><linearGradient id="g254" x2="0" y2="1"><stop offset="0.000" stop-color="#450457"/><stop offset="0.158" stop-color="#48186a"/><stop offset="0.337" stop-color="#3c4f8a"/><stop offset="0.484" stop-color="#2e6d8e"/><stop offset="0.621" stop-color="#34618d"/><stop offset="0.800" stop-color="#472e7c"/><stop offset="0.874" stop-color="#482173"/><stop offset="1.000" stop-color="#482173"/></linearGradient><linearGradient id="g255" x2="0" y2="1"><stop offset="0.000" stop-color="#450457"/><stop offset="0.158" stop-color="#481769"/><stop offset="0.326" stop-color="#3e4c8a"/><stop offset="0.474" stop-color="#2f6b8e"/><stop offset="0.600" stop-color="#32658e"/><stop offset="0.789" stop-color="#46327e"/><stop offset="0.874" stop-color="#482173"/><stop offset="1.000" stop-color="#482173"/></linearGradient><linearGradient id="g256" x2="0" y2="1"><stop offset="0.000" stop-color="#450457"/><stop offset="0.158" stop-color="#481668"/><stop offset="0.326" stop-color="#3e4a89"/><stop offset="0.484" stop-color="#2f6c8e"/><stop offset="0.632" stop-color="#355f8d"/><stop offset="0.821" stop-color="#482979"/><stop offset="0.905" stop-color="#482173"/><stop offset="1.000" stop-color="#482173"/></linearGradient><linearGradient id="g257" x2="0" y2="1"><stop offset="0.000" stop-color="#450457"/><stop offset="0.160" stop-color="#48186a"/><stop offset="0.330" stop-color="#3d4d8a"/><stop offset="0.468" stop-color="#2f6b8e"/><stop offset="0.606" stop-color="#33638d"/><stop offset="0.798" stop-color="#472f7d"/><stop offset="0.872" stop-color="#482173"/><stop offset="1.000" stop-color="#482173"/></linearGradient><linearGradient id="g258" x2="0" y2="1"><stop offset="0.000" stop-color="#450457"/><stop offset="0.160" stop-color="#481769"/><stop offset="0.319" stop-color="#3e4989"/><stop offset="0.468" stop-color="#306a8e"/><stop offset="0.606" stop-color="#33638d"/><stop offset="0.809" stop-color="#472d7b"/><stop offset="0.883" stop-color="#482173"/><stop offset="1.000" stop-color="#482173"/></linearGradient><linearGradient id="g259" x2="0" y2="1"><stop offset="0.000" stop-color="#450457"/><stop offset="0.160" stop-color="#481769"/><stop offset="0.319" stop-color="#3f4889"/><stop offset="0.468" stop-color="#306a8e"/><stop offset="0.606" stop-color="#33628d"/><stop offset="0.809" stop-color="#472d7b"/><stop offset="0.883" stop-color="#482173"/><stop offset="1.000" stop-color="#482173"/></linearGradient><linearGradient id="g260" x2="0" y2="1"><stop offset="0.000" stop-color="#450457"/><stop offset="0.160" stop-color="#481668"/><stop offset="0.319" stop-color="#3f4889"/><stop offset="0.479" stop-color="#306a8e"/><stop offset="0.617" stop-color="#34608d"/><stop offset="0.809" stop-color="#472d7b"/><stop offset="0.883" stop-color="#482173"/><stop offset="1.000" stop-color="#482173"/></linearGradient><linearGradient id="g261" x2="0" y2="1"><stop offset="0.000" stop-color="#450457"/><stop offset="0.160" stop-color="#481668"/><stop offset="0.319" stop-color="#3f4788"/><stop offset="0.468" stop-color="#30698e"/><stop offset="0.606" stop-color="#33628d"/><stop offset="0.798" stop-color="#46307e"/><stop offset="0.883" stop-color="#482173"/><stop offset="1.000" stop-color="#482173"/></linearGradient><linearGradient id="g262" x2="0" y2="1"><stop offset="0.000" stop-color="#450559"/><stop offset="0.151" stop-color="#481467"/><stop offset="0.301" stop-color="#414487"/><stop offset="0.462" stop-color="#31688e"/><stop offset="0.591" stop-color="#32648e"/><stop offset="0.796" stop-color="#46307e"/><stop offset="0.882" stop-color="#482173"/><stop offset="1.000" stop-color="#482173"/></linearGradient><linearGradient id="g263" x2="0" y2="1"><stop offset="0.000" stop-color="#450457"/><stop offset="0.161" stop-color="#48186a"/><stop offset="0.333" stop-color="#3d4d8a"/><stop offset="0.473" stop-color="#30698e"/><stop offset="0.624" stop-color="#355f8d"/><stop offset="0.817" stop-color="#472c7a"/><stop offset="0.892" stop-color="#482173"/><stop offset="1.000" stop-color="#482173"/></linearGradient><linearGradient id="g264" x2="0" y2="1"><stop offset="0.000" stop-color="#450457"/><stop offset="0.161" stop-color="#48186a"/><stop offset="0.344" stop-color="#3c4f8a"/><stop offset="0.495" stop-color="#306a8e"/><stop offset="0.645" stop-color="#375b8d"/><stop offset="0.849" stop-color="#482576"/><stop offset="1.000" stop-color="#482173"/></linearGradient><linearGradient id="g265" x2="0" y2="1"><stop offset="0.000" stop-color="#450457"/><stop offset="0.161" stop-color="#481769"/><stop offset="0.333" stop-color="#3e4a89"/><stop offset="0.484" stop-color="#30698e"/><stop offset="0.624" stop-color="#355f8d"/><stop offset="0.817" stop-color="#472e7c"/><stop offset="0.892" stop-color="#482173"/><stop offset="1.000" stop-color="#482173"/></linearGradient><linearGradient id="g266" x2="0" y2="1"><stop offset="0.000" stop-color="#450457"/><stop offset="0.161" stop-color="#481769"/><stop offset="0.333" stop-color="#3e4a89"/><stop offset="0.484" stop-color="#31688e"/><stop offset="0.624" stop-color="#355f8d"/><stop offset="0.828" stop-color="#472c7a"/><stop offset="0.903" stop-color="#482173"/><stop offset="1.000" stop-color="#482173"/></linearGradient><linearGradient id="g267" x2="0" y2="1"><stop offset="0.000" stop-color="#450457"/><stop offset="0.161" stop-color="#481769"/><stop offset="0.333" stop-color="#3e4989"/><stop offset="0.484" stop-color="#31688e"/><stop offset="0.624" stop-color="#34608d"/><stop offset="0.839" stop-color="#472a7a"/><stop offset="0.935" stop-color="#482173"/><stop offset="1.000" stop-color="#482173"/></linearGradient><linearGradient id="g268" x2="0" y2="1"><stop offset="0.000" stop-color="#450457"/><stop offset="0.161" stop-color="#481668"/><stop offset="0.333" stop-color="#3e4989"/><stop offset="0.484" stop-color="#31678e"/><stop offset="0.624" stop-color="#34608d"/><stop offset="0.828" stop-color="#472d7b"/><stop offset="0.914" stop-color="#482173"/><stop offset="1.000" stop-color="#482173"/></linearGradient><linearGradient id="g269" x2="0" y2="1"><stop offset="0.000" stop-color="#450457"/><stop offset="0.172" stop-color="#481a6c"/><stop offset="0.355" stop-color="#3d4e8a"/><stop offset="0.495" stop-color="#31688e"/><stop offset="0.656" stop-color="#375a8c"/><stop offset="0.871" stop-color="#482475"/><stop offset="1.000" stop-color="#482173"/></linearGradient><linearGradient id="g270" x2="0" y2="1"><stop offset="0.000" stop-color="#450457"/><stop offset="0.161" stop-color="#481668"/><stop offset="0.344" stop-color="#3e4a89"/><stop offset="0.505" stop-color="#31688e"/><stop offset="0.667" stop-color="#38588c"/><stop offset="0.871" stop-color="#482475"/><stop offset="1.000" stop-color="#482173"/></linearGradient><linearGradient id="g271" x2="0" y2="1"><stop offset="0.000" stop-color="#450457"/><stop offset="0.161" stop-color="#481467"/><stop offset="0.333" stop-color="#3f4788"/><stop offset="0.495" stop-color="#31678e"/><stop offset="0.656" stop-color="#375b8d"/><stop offset="0.871" stop-color="#482576"/><stop offset="1.000" stop-color="#482173"/></linearGradient><linearGradient id="g272" x2="0" y2="1"><stop offset="0.000" stop-color="#450457"/><stop offset="0.172" stop-color="#48186a"/><stop offset="0.355" stop-color="#3d4d8a"/><stop offset="0.505" stop-color="#31678e"/><stop offset="0.667" stop-color="#38598c"/><stop offset="0.882" stop-color="#482475"/><stop offset="1.000" stop-color="#482173"/></linearGradient><linearGradient id="g273" x2="0" y2="1"><stop offset="0.000" stop-color="#450457"/><stop offset="0.163" stop-color="#481769"/><stop offset="0.348" stop-color="#3e4c8a"/><stop offset="0.500" stop-color="#31668e"/><stop offset="0.652" stop-color="#375b8d"/><stop offset="0.859" stop-color="#482979"/><stop offset="0.946" stop-color="#482173"/><stop offset="1.000" stop-color="#482173"/></linearGradient><linearGradient id="g274" x2="0" y2="1"><stop offset="0.000" stop-color="#450457"/><stop offset="0.165" stop-color="#481769"/><stop offset="0.308" stop-color="#424186"/><stop offset="0.473" stop-color="#32648e"/><stop offset="0.615" stop-color="#34608d"/><stop offset="0.835" stop-color="#472f7d"/><stop offset="0.934" stop-color="#482173"/><stop offset="1.000" stop-color="#482173"/></linearGradient><linearGradient id="g275" x2="0" y2="1"><stop offset="0.000" stop-color="#450559"/><stop offset="0.146" stop-color="#471365"/><stop offset="0.236" stop-color="#46327e"/><stop offset="0.449" stop-color="#33638d"/><stop offset="0.607" stop-color="#34618d"/><stop offset="0.831" stop-color="#472f7d"/><stop offset="0.933" stop-color="#482173"/><stop offset="1.000" stop-color="#482173"/></linearGradient><linearGradient id="g276" x2="0" y2="1"><stop offset="0.000" stop-color="#450457"/><stop offset="0.148" stop-color="#471365"/><stop offset="0.227" stop-color="#46307e"/><stop offset="0.432" stop-color="#34618d"/><stop offset="0.602" stop-color="#34618d"/><stop offset="0.841" stop-color="#472e7c"/><stop offset="0.932" stop-color="#482173"/><stop offset="1.000" stop-color="#482173"/></linearGradient><linearGradient id="g277" x2="0" y2="1"><stop offset="0.000" stop-color="#450457"/><stop offset="0.149" stop-color="#471164"/><stop offset="0.218" stop-color="#46307e"/><stop offset="0.437" stop-color="#33628d"/><stop offset="0.598" stop-color="#34618d"/><stop offset="0.839" stop-color="#472f7d"/><stop offset="0.943" stop-color="#482173"/><stop offset="1.000" stop-color="#482173"/></linearGradient><linearGradient id="g278" x2="0" y2="1"><stop offset="0.000" stop-color="#450457"/><stop offset="0.141" stop-color="#471164"/><stop offset="0.224" stop-color="#453781"/><stop offset="0.435" stop-color="#33628d"/><stop offset="0.588" stop-color="#34618d"/><stop offset="0.835" stop-color="#472f7d"/><stop offset="0.941" stop-color="#482173"/><stop offset="1.000" stop-color="#482173"/></linearGradient><linearGradient id="g279" x2="0" y2="1"><stop offset="0.000" stop-color="#450457"/><stop offset="0.151" stop-color="#471365"/><stop offset="0.233" stop-color="#453581"/><stop offset="0.442" stop-color="#33628d"/><stop offset="0.605" stop-color="#355f8d"/><stop offset="0.849" stop-color="#472e7c"/><stop offset="0.942" stop-color="#482173"/><stop offset="1.000" stop-color="#482173"/></linearGradient><linearGradient id="g280" x2="0" y2="1"><stop offset="0.000" stop-color="#450457"/><stop offset="0.151" stop-color="#481467"/><stop offset="0.233" stop-color="#453581"/><stop offset="0.453" stop-color="#33638d"/><stop offset="0.616" stop-color="#355e8d"/><stop offset="0.860" stop-color="#472c7a"/><stop offset="0.965" stop-color="#482173"/><stop offset="1.000" stop-color="#482173"/></linearGradient><linearGradient id="g281" x2="0" y2="1"><stop offset="0.000" stop-color="#450457"/><stop offset="0.161" stop-color="#481668"/><stop offset="0.241" stop-color="#463480"/><stop offset="0.448" stop-color="#34618d"/><stop offset="0.598" stop-color="#34618d"/><stop offset="0.851" stop-color="#472f7d"/><stop offset="0.954" stop-color="#482173"/><stop offset="1.000" stop-color="#482173"/></linearGradient><linearGradient id="g282" x2="0" y2="1"><stop offset="0.000" stop-color="#450457"/><stop offset="0.149" stop-color="#471164"/><stop offset="0.230" stop-color="#46307e"/><stop offset="0.448" stop-color="#34608d"/><stop offset="0.609" stop-color="#355f8d"/><stop offset="0.851" stop-color="#472f7d"/><stop offset="0.954" stop-color="#482173"/><stop offset="1.000" stop-color="#482173"/></linearGradient><linearGradient id="g283" x2="0" y2="1"><stop offset="0.000" stop-color="#450457"/><stop offset="0.149" stop-color="#471365"/><stop offset="0.230" stop-color="#46307e"/><stop offset="0.460" stop-color="#34618d"/><stop offset="0.632" stop-color="#365d8d"/><stop offset="0.874" stop-color="#472c7a"/><stop offset="0.954" stop-color="#482173"/><stop offset="1.000" stop-color="#482173"/></linearGradient><linearGradient id="g284" x2="0" y2="1"><stop offset="0.000" stop-color="#450457"/><stop offset="0.159" stop-color="#481467"/><stop offset="0.250" stop-color="#46337f"/><stop offset="0.466" stop-color="#34618d"/><stop offset="0.636" stop-color="#365d8d"/><stop offset="0.875" stop-color="#472c7a"/><stop offset="0.977" stop-color="#482173"/><stop offset="1.000" stop-color="#482173"/></linearGradient><linearGradient id="g285" x2="0" y2="1"><stop offset="0.000" stop-color="#450457"/><stop offset="0.169" stop-color="#481769"/><stop offset="0.303" stop-color="#433e85"/><stop offset="0.494" stop-color="#33628d"/><stop offset="0.663" stop-color="#375a8c"/><stop offset="0.899" stop-color="#482878"/><stop offset="1.000" stop-color="#482173"/></linearGradient><linearGradient id="g286" x2="0" y2="1"><stop offset="0.000" stop-color="#450457"/><stop offset="0.169" stop-color="#48186a"/><stop offset="0.337" stop-color="#404688"/><stop offset="0.517" stop-color="#33638d"/><stop offset="0.708" stop-color="#3b528b"/><stop offset="0.955" stop-color="#482173"/><stop offset="1.000" stop-color="#482173"/></linearGradient><linearGradient id="g287" x2="0" y2="1"><stop offset="0.000" stop-color="#450457"/><stop offset="0.178" stop-color="#481a6c"/><stop offset="0.378" stop-color="#3d4d8a"/><stop offset="0.533" stop-color="#33638d"/><stop offset="0.711" stop-color="#3b528b"/><stop offset="0.956" stop-color="#482173"/><stop offset="1.000" stop-color="#482173"/></linearGradient><linearGradient id="g288" x2="0" y2="1"><stop offset="0.000" stop-color="#450457"/><stop offset="0.187" stop-color="#481a6c"/><stop offset="0.396" stop-color="#3d4e8a"/><stop offset="0.549" stop-color="#33638d"/><stop offset="0.736" stop-color="#3c4f8a"/><stop offset="0.956" stop-color="#482173"/><stop offset="1.000" stop-color="#482173"/></linearGradient><linearGradient id="g289" x2="0" y2="1"><stop offset="0.000" stop-color="#450457"/><stop offset="0.178" stop-color="#481769"/><stop offset="0.378" stop-color="#3e4a89"/><stop offset="0.544" stop-color="#33628d"/><stop offset="0.722" stop-color="#3b518b"/><stop offset="0.956" stop-color="#482173"/><stop offset="1.000" stop-color="#482173"/></linearGradient><linearGradient id="g290" x2="0" y2="1"><stop offset="0.000" stop-color="#450457"/><stop offset="0.180" stop-color="#481769"/><stop offset="0.371" stop-color="#3e4989"/><stop offset="0.539" stop-color="#33628d"/><stop offset="0.719" stop-color="#3b518b"/><stop offset="0.955" stop-color="#482173"/><stop offset="1.000" stop-color="#482173"/></linearGradient><linearGradient id="g291" x2="0" y2="1"><stop offset="0.000" stop-color="#450559"/><stop offset="0.172" stop-color="#48186a"/><stop offset="0.356" stop-color="#3f4889"/><stop offset="0.529" stop-color="#33628d"/><stop offset="0.701" stop-color="#3a538b"/><stop offset="0.954" stop-color="#482173"/><stop offset="1.000" stop-color="#482173"/></linearGradient><linearGradient id="g292" x2="0" y2="1"><stop offset="0.000" stop-color="#450559"/><stop offset="0.174" stop-color="#48186a"/><stop offset="0.337" stop-color="#414487"/><stop offset="0.512" stop-color="#34618d"/><stop offset="0.698" stop-color="#3a548c"/><stop offset="0.953" stop-color="#482173"/><stop offset="1.000" stop-color="#482173"/></linearGradient><linearGradient id="g293" x2="0" y2="1"><stop offset="0.000" stop-color="#450457"/><stop offset="0.165" stop-color="#481467"/><stop offset="0.271" stop-color="#463480"/><stop offset="0.482" stop-color="#355e8d"/><stop offset="0.647" stop-color="#375b8d"/><stop offset="0.894" stop-color="#472a7a"/><stop offset="1.000" stop-color="#482173"/></linearGradient><linearGradient id="g294" x2="0" y2="1"><stop offset="0.000" stop-color="#450457"/><stop offset="0.167" stop-color="#481668"/><stop offset="0.274" stop-color="#453581"/><stop offset="0.488" stop-color="#355f8d"/><stop offset="0.655" stop-color="#375a8c"/><stop offset="0.905" stop-color="#482979"/><stop offset="1.000" stop-color="#482173"/></linearGradient><linearGradient id="g295" x2="0" y2="1"><stop offset="0.000" stop-color="#450457"/><stop offset="0.169" stop-color="#481668"/><stop offset="0.265" stop-color="#463480"/><stop offset="0.482" stop-color="#355e8d"/><stop offset="0.651" stop-color="#375a8c"/><stop offset="0.904" stop-color="#482979"/><stop offset="1.000" stop-color="#482173"/></linearGradient><linearGradient id="g296" x2="0" y2="1"><stop offset="0.000" stop-color="#450457"/><stop offset="0.171" stop-color="#481769"/><stop offset="0.268" stop-color="#453581"/><stop offset="0.488" stop-color="#355f8d"/><stop offset="0.671" stop-color="#39568c"/><stop offset="0.915" stop-color="#482677"/><stop offset="1.000" stop-color="#482173"/></linearGradient><linearGradient id="g297" x2="0" y2="1"><stop offset="0.000" stop-color="#450457"/><stop offset="0.173" stop-color="#481769"/><stop offset="0.259" stop-color="#463480"/><stop offset="0.481" stop-color="#355e8d"/><stop offset="0.654" stop-color="#38598c"/><stop offset="0.914" stop-color="#482878"/><stop offset="1.000" stop-color="#482173"/></linearGradient><linearGradient id="g298" x2="0" y2="1"><stop offset="0.000" stop-color="#450457"/><stop offset="0.173" stop-color="#481467"/><stop offset="0.259" stop-color="#46337f"/><stop offset="0.481" stop-color="#355e8d"/><stop offset="0.667" stop-color="#38588c"/><stop offset="0.926" stop-color="#482576"/><stop offset="1.000" stop-color="#482173"/></linearGradient><linearGradient id="g299" x2="0" y2="1"><stop offset="0.000" stop-color="#450457"/><stop offset="0.173" stop-color="#471365"/><stop offset="0.259" stop-color="#46327e"/><stop offset="0.481" stop-color="#365d8d"/><stop offset="0.642" stop-color="#375b8d"/><stop offset="0.901" stop-color="#472a7a"/><stop offset="1.000" stop-color="#482173"/></linearGradient><linearGradient id="g300" x2="0" y2="1"><stop offset="0.000" stop-color="#450457"/><stop offset="0.175" stop-color="#481769"/><stop offset="0.275" stop-color="#453781"/><stop offset="0.500" stop-color="#355e8d"/><stop offset="0.675" stop-color="#39568c"/><stop offset="0.938" stop-color="#482475"/><stop offset="1.000" stop-color="#482173"/></linearGradient><linearGradient id="g301" x2="0" y2="1"><stop offset="0.000" stop-color="#450457"/><stop offset="0.175" stop-color="#481668"/><stop offset="0.275" stop-color="#463480"/><stop offset="0.487" stop-color="#365d8d"/><stop offset="0.675" stop-color="#39568c"/><stop offset="0.925" stop-color="#482677"/><stop offset="1.000" stop-color="#482173"/></linearGradient><linearGradient id="g302" x2="0" y2="1"><stop offset="0.000" stop-color="#450457"/><stop offset="0.188" stop-color="#48186a"/><stop offset="0.287" stop-color="#453781"/><stop offset="0.487" stop-color="#365c8d"/><stop offset="0.650" stop-color="#375a8c"/><stop offset="0.912" stop-color="#482979"/><stop offset="1.000" stop-color="#482173"/></linearGradient><linearGradient id="g303" x2="0" y2="1"><stop offset="0.000" stop-color="#450457"/><stop offset="0.188" stop-color="#481769"/><stop offset="0.287" stop-color="#453581"/><stop offset="0.500" stop-color="#365d8d"/><stop offset="0.688" stop-color="#39558c"/><stop offset="0.975" stop-color="#482173"/><stop offset="1.000" stop-color="#482173"/></linearGradient><linearGradient id="g304" x2="0" y2="1"><stop offset="0.000" stop-color="#450457"/><stop offset="0.188" stop-color="#481668"/><stop offset="0.287" stop-color="#463480"/><stop offset="0.500" stop-color="#365c8d"/><stop offset="0.662" stop-color="#38598c"/><stop offset="0.912" stop-color="#482979"/><stop offset="1.000" stop-color="#482173"/></linearGradient><linearGradient id="g305" x2="0" y2="1"><stop offset="0.000" stop-color="#450457"/><stop offset="0.188" stop-color="#481467"/><stop offset="0.275" stop-color="#472f7d"/><stop offset="0.487" stop-color="#375a8c"/><stop offset="0.662" stop-color="#38598c"/><stop offset="0.925" stop-color="#482878"/><stop offset="1.000" stop-color="#482173"/></linearGradient><linearGradient id="g306" x2="0" y2="1"><stop offset="0.000" stop-color="#450457"/><stop offset="0.188" stop-color="#481467"/><stop offset="0.300" stop-color="#463480"/><stop offset="0.512" stop-color="#365c8d"/><stop offset="0.688" stop-color="#39558c"/><stop offset="0.938" stop-color="#482576"/><stop offset="1.000" stop-color="#482173"/></linearGradient><linearGradient id="g307" x2="0" y2="1"><stop offset="0.000" stop-color="#450457"/><stop offset="0.200" stop-color="#48186a"/><stop offset="0.375" stop-color="#404588"/><stop offset="0.562" stop-color="#355e8d"/><stop offset="0.750" stop-color="#3e4c8a"/><stop offset="0.975" stop-color="#482173"/><stop offset="1.000" stop-color="#482173"/></linearGradient><linearGradient id="g308" x2="0" y2="1"><stop offset="0.000" stop-color="#450457"/><stop offset="0.200" stop-color="#481769"/><stop offset="0.362" stop-color="#424086"/><stop offset="0.537" stop-color="#365c8d"/><stop offset="0.700" stop-color="#3a548c"/><stop offset="0.950" stop-color="#482475"/><stop offset="1.000" stop-color="#482173"/></linearGradient><linearGradient id="g309" x2="0" y2="1"><stop offset="0.000" stop-color="#450559"/><stop offset="0.184" stop-color="#481668"/><stop offset="0.276" stop-color="#46337f"/><stop offset="0.500" stop-color="#375b8d"/><stop offset="0.671" stop-color="#39568c"/><stop offset="0.934" stop-color="#482677"/><stop offset="1.000" stop-color="#482173"/></linearGradient><linearGradient id="g310" x2="0" y2="1"><stop offset="0.000" stop-color="#450457"/><stop offset="0.189" stop-color="#481668"/><stop offset="0.270" stop-color="#463480"/><stop offset="0.486" stop-color="#375b8d"/><stop offset="0.662" stop-color="#39568c"/><stop offset="0.932" stop-color="#482677"/><stop offset="1.000" stop-color="#482173"/></linearGradient><linearGradient id="g311" x2="0" y2="1"><stop offset="0.000" stop-color="#450559"/><stop offset="0.187" stop-color="#481668"/><stop offset="0.280" stop-color="#46337f"/><stop offset="0.507" stop-color="#375b8d"/><stop offset="0.693" stop-color="#3a538b"/><stop offset="0.987" stop-color="#482173"/><stop offset="1.000" stop-color="#482173"/></linearGradient><linearGradient id="g312" x2="0" y2="1"><stop offset="0.000" stop-color="#450457"/><stop offset="0.195" stop-color="#481668"/><stop offset="0.338" stop-color="#443a83"/><stop offset="0.532" stop-color="#375b8d"/><stop offset="0.701" stop-color="#3a538b"/><stop offset="0.987" stop-color="#482173"/><stop offset="1.000" stop-color="#482173"/></linearGradient><linearGradient id="g313" x2="0" y2="1"><stop offset="0.000" stop-color="#450457"/><stop offset="0.205" stop-color="#48186a"/><stop offset="0.423" stop-color="#3e4a89"/><stop offset="0.590" stop-color="#365c8d"/><stop offset="0.782" stop-color="#3f4788"/><stop offset="0.987" stop-color="#482173"/><stop offset="1.000" stop-color="#482173"/></linearGradient><linearGradient id="g314" x2="0" y2="1"><stop offset="0.000" stop-color="#450457"/><stop offset="0.218" stop-color="#481b6d"/><stop offset="0.449" stop-color="#3c4f8a"/><stop offset="0.615" stop-color="#365c8d"/><stop offset="0.821" stop-color="#423f85"/><stop offset="0.987" stop-color="#482173"/><stop offset="1.000" stop-color="#482173"/></linearGradient><linearGradient id="g315" x2="0" y2="1"><stop offset="0.000" stop-color="#450457"/><stop offset="0.218" stop-color="#481a6c"/><stop offset="0.436" stop-color="#3e4a89"/><stop offset="0.590" stop-color="#365c8d"/><stop offset="0.769" stop-color="#3e4989"/><stop offset="0.987" stop-color="#482173"/><stop offset="1.000" stop-color="#482173"/></linearGradient><linearGradient id="g316" x2="0" y2="1"><stop offset="0.000" stop-color="#450457"/><stop offset="0.231" stop-color="#481c6e"/><stop offset="0.462" stop-color="#3c4f8a"/><stop offset="0.628" stop-color="#375b8d"/><stop offset="0.821" stop-color="#424086"/><stop offset="0.987" stop-color="#482173"/><stop offset="1.000" stop-color="#482173"/></linearGradient><linearGradient id="g317" x2="0" y2="1"><stop offset="0.000" stop-color="#450457"/><stop offset="0.244" stop-color="#481d6f"/><stop offset="0.474" stop-color="#3c508b"/><stop offset="0.628" stop-color="#375b8d"/><stop offset="0.821" stop-color="#424086"/><stop offset="0.987" stop-color="#482173"/><stop offset="1.000" stop-color="#482173"/></linearGradient><linearGradient id="g318" x2="0" y2="1"><stop offset="0.000" stop-color="#450457"/><stop offset="0.256" stop-color="#481f70"/><stop offset="0.474" stop-color="#3c4f8a"/><stop offset="0.628" stop-color="#375b8d"/><stop offset="0.833" stop-color="#433e85"/><stop offset="0.987" stop-color="#482173"/><stop offset="1.000" stop-color="#482173"/></linearGradient><linearGradient id="g319" x2="0" y2="1"><stop offset="0.000" stop-color="#450457"/><stop offset="0.269" stop-color="#482071"/><stop offset="0.487" stop-color="#3c508b"/><stop offset="0.641" stop-color="#375a8c"/><stop offset="0.833" stop-color="#433e85"/><stop offset="0.987" stop-color="#482173"/><stop offset="1.000" stop-color="#482173"/></linearGradient><linearGradient id="g320" x2="0" y2="1"><stop offset="0.000" stop-color="#450457"/><stop offset="0.269" stop-color="#482071"/><stop offset="0.500" stop-color="#3b528b"/><stop offset="0.654" stop-color="#375a8c"/><stop offset="0.897" stop-color="#472f7d"/><stop offset="1.000" stop-color="#482173"/></linearGradient><linearGradient id="g321" x2="0" y2="1"><stop offset="0.000" stop-color="#450457"/><stop offset="0.269" stop-color="#481f70"/><stop offset="0.500" stop-color="#3b518b"/><stop offset="0.654" stop-color="#375a8c"/><stop offset="0.897" stop-color="#472f7d"/><stop offset="1.000" stop-color="#482173"/></linearGradient><linearGradient id="g322" x2="0" y2="1"><stop offset="0.000" stop-color="#450457"/><stop offset="0.269" stop-color="#481d6f"/><stop offset="0.500" stop-color="#3c508b"/><stop offset="0.654" stop-color="#375a8c"/><stop offset="0.859" stop-color="#443983"/><stop offset="0.987" stop-color="#482173"/><stop offset="1.000" stop-color="#482173"/></linearGradient><linearGradient id="g323" x2="0" y2="1"><stop offset="0.000" stop-color="#450457"/><stop offset="0.299" stop-color="#482475"/><stop offset="0.519" stop-color="#3a538b"/><stop offset="0.675" stop-color="#38588c"/><stop offset="0.909" stop-color="#472d7b"/><stop offset="1.000" stop-color="#482173"/></linearGradient><linearGradient id="g324" x2="0" y2="1"><stop offset="0.000" stop-color="#450457"/><stop offset="0.299" stop-color="#482374"/><stop offset="0.519" stop-color="#3b528b"/><stop offset="0.675" stop-color="#38588c"/><stop offset="0.909" stop-color="#472d7b"/><stop offset="1.000" stop-color="#482173"/></linearGradient><linearGradient id="g325" x2="0" y2="1"><stop offset="0.000" stop-color="#450457"/><stop offset="0.299" stop-color="#482173"/><stop offset="0.519" stop-color="#3b518b"/><stop offset="0.675" stop-color="#38588c"/><stop offset="0.896" stop-color="#46307e"/><stop offset="1.000" stop-color="#482173"/></linearGradient><linearGradient id="g326" x2="0" y2="1"><stop offset="0.000" stop-color="#450457"/><stop offset="0.267" stop-color="#481d6f"/><stop offset="0.493" stop-color="#3c4f8a"/><stop offset="0.653" stop-color="#38598c"/><stop offset="0.907" stop-color="#472e7c"/><stop offset="1.000" stop-color="#482173"/></linearGradient><linearGradient id="g327" x2="0" y2="1"><stop offset="0.000" stop-color="#450457"/><stop offset="0.236" stop-color="#481b6d"/><stop offset="0.458" stop-color="#3e4c8a"/><stop offset="0.639" stop-color="#38598c"/><stop offset="0.833" stop-color="#433d84"/><stop offset="0.986" stop-color="#482173"/><stop offset="1.000" stop-color="#482173"/></linearGradient><linearGradient id="g328" x2="0" y2="1"><stop offset="0.000" stop-color="#450559"/><stop offset="0.214" stop-color="#481668"/><stop offset="0.386" stop-color="#423f85"/><stop offset="0.571" stop-color="#38598c"/><stop offset="0.757" stop-color="#3e4a89"/><stop offset="0.986" stop-color="#482173"/><stop offset="1.000" stop-color="#482173"/></linearGradient><linearGradient id="g329" x2="0" y2="1"><stop offset="0.000" stop-color="#450457"/><stop offset="0.229" stop-color="#481769"/><stop offset="0.386" stop-color="#433e85"/><stop offset="0.571" stop-color="#38598c"/><stop offset="0.757" stop-color="#3e4a89"/><stop offset="0.986" stop-color="#482173"/><stop offset="1.000" stop-color="#482173"/></linearGradient><linearGradient id="g330" x2="0" y2="1"><stop offset="0.000" stop-color="#450457"/><stop offset="0.232" stop-color="#48186a"/><stop offset="0.391" stop-color="#423f85"/><stop offset="0.580" stop-color="#38598c"/><stop offset="0.768" stop-color="#3f4889"/><stop offset="0.986" stop-color="#482173"/><stop offset="1.000" stop-color="#482173"/></linearGradient><linearGradient id="g331" x2="0" y2="1"><stop offset="0.000" stop-color="#450457"/><stop offset="0.221" stop-color="#481467"/><stop offset="0.353" stop-color="#453882"/><stop offset="0.559" stop-color="#38588c"/><stop offset="0.735" stop-color="#3d4d8a"/><stop offset="0.985" stop-color="#482173"/><stop offset="1.000" stop-color="#482173"/></linearGradient><linearGradient id="g332" x2="0" y2="1"><stop offset="0.000" stop-color="#450457"/><stop offset="0.235" stop-color="#48186a"/><stop offset="0.382" stop-color="#433d84"/><stop offset="0.574" stop-color="#38588c"/><stop offset="0.750" stop-color="#3e4c8a"/><stop offset="0.985" stop-color="#482173"/><stop offset="1.000" stop-color="#482173"/></linearGradient><linearGradient id="g333" x2="0" y2="1"><stop offset="0.000" stop-color="#450457"/><stop offset="0.235" stop-color="#481769"/><stop offset="0.382" stop-color="#443b84"/><stop offset="0.574" stop-color="#38588c"/><stop offset="0.765" stop-color="#3e4989"/><stop offset="0.985" stop-color="#482173"/><stop offset="1.000" stop-color="#482173"/></linearGradient><linearGradient id="g334" x2="0" y2="1"><stop offset="0.000" stop-color="#450457"/><stop offset="0.235" stop-color="#481769"/><stop offset="0.412" stop-color="#424086"/><stop offset="0.588" stop-color="#38588c"/><stop offset="0.779" stop-color="#3f4788"/><stop offset="0.985" stop-color="#482173"/><stop offset="1.000" stop-color="#482173"/></linearGradient><linearGradient id="g335" x2="0" y2="1"><stop offset="0.000" stop-color="#450457"/><stop offset="0.235" stop-color="#481668"/><stop offset="0.412" stop-color="#423f85"/><stop offset="0.603" stop-color="#38588c"/><stop offset="0.779" stop-color="#3f4788"/><stop offset="0.985" stop-color="#482173"/><stop offset="1.000" stop-color="#482173"/></linearGradient><linearGradient id="g336" x2="0" y2="1"><stop offset="0.000" stop-color="#450457"/><stop offset="0.250" stop-color="#481a6c"/><stop offset="0.456" stop-color="#3f4788"/><stop offset="0.632" stop-color="#39568c"/><stop offset="0.824" stop-color="#423f85"/><stop offset="0.985" stop-color="#482173"/><stop offset="1.000" stop-color="#482173"/></linearGradient><linearGradient id="jf" gradientUnits="userSpaceOnUse" x1="121" y1="0" x2="141" y2="0"><stop offset="0" stop-color="#fde725"/><stop offset="1" stop-color="#fde725" stop-opacity="0"/></linearGradient><linearGradient id="jfs" gradientUnits="userSpaceOnUse" x1="116" y1="0" x2="134" y2="0"><stop offset="0" stop-color="#2a8f8a"/><stop offset="1" stop-color="#2a8f8a" stop-opacity="0"/></linearGradient><linearGradient id="cbar" x1="0" y1="0" x2="0" y2="1"><stop offset="0.000" stop-color="#fde725"/><stop offset="0.050" stop-color="#dfe318"/><stop offset="0.100" stop-color="#bddf26"/><stop offset="0.150" stop-color="#9bd93c"/><stop offset="0.200" stop-color="#7ad151"/><stop offset="0.250" stop-color="#5ec962"/><stop offset="0.300" stop-color="#44bf70"/><stop offset="0.350" stop-color="#2fb47c"/><stop offset="0.400" stop-color="#22a884"/><stop offset="0.450" stop-color="#1e9c89"/><stop offset="0.500" stop-color="#21918c"/><stop offset="0.550" stop-color="#25848e"/><stop offset="0.600" stop-color="#2a788e"/><stop offset="0.650" stop-color="#2f6c8e"/><stop offset="0.700" stop-color="#355f8d"/><stop offset="0.750" stop-color="#3b528b"/><stop offset="0.800" stop-color="#414487"/><stop offset="0.850" stop-color="#463480"/><stop offset="0.900" stop-color="#482475"/><stop offset="0.950" stop-color="#471365"/><stop offset="1.000" stop-color="#440154"/></linearGradient></defs>
<rect x="57" y="12" width="443" height="603.3" fill="#440154"/>
<g clip-path="url(#cA)"><g filter="url(#turb)"><rect x="98.0" y="291.0" width="3.6" height="25.0" fill="url(#g1)"/><rect x="101.0" y="275.0" width="3.6" height="41.0" fill="url(#g2)"/><rect x="104.0" y="267.0" width="3.6" height="49.0" fill="url(#g3)"/><rect x="107.0" y="266.0" width="3.6" height="50.0" fill="url(#g4)"/><rect x="110.0" y="264.0" width="3.6" height="52.0" fill="url(#g5)"/><rect x="113.0" y="263.0" width="3.6" height="53.0" fill="url(#g6)"/><rect x="116.0" y="261.0" width="3.6" height="55.0" fill="url(#g7)"/><rect x="119.0" y="260.0" width="3.6" height="56.0" fill="url(#g8)"/><rect x="122.0" y="259.0" width="3.6" height="57.0" fill="url(#g9)"/><rect x="125.0" y="258.0" width="3.6" height="58.0" fill="url(#g10)"/><rect x="128.0" y="258.0" width="3.6" height="58.0" fill="url(#g11)"/><rect x="131.0" y="257.0" width="3.6" height="59.0" fill="url(#g12)"/><rect x="134.0" y="257.0" width="3.6" height="59.0" fill="url(#g13)"/><rect x="137.0" y="256.0" width="3.6" height="60.0" fill="url(#g14)"/><rect x="140.0" y="256.0" width="3.6" height="60.0" fill="url(#g15)"/><rect x="143.0" y="255.0" width="3.6" height="61.0" fill="url(#g16)"/><rect x="146.0" y="255.0" width="3.6" height="61.0" fill="url(#g17)"/><rect x="149.0" y="254.0" width="3.6" height="62.0" fill="url(#g18)"/><rect x="152.0" y="254.0" width="3.6" height="62.0" fill="url(#g19)"/><rect x="155.0" y="253.0" width="3.6" height="63.0" fill="url(#g20)"/><rect x="158.0" y="253.0" width="3.6" height="63.0" fill="url(#g21)"/><rect x="161.0" y="252.0" width="3.6" height="64.0" fill="url(#g22)"/><rect x="164.0" y="252.0" width="3.6" height="64.0" fill="url(#g23)"/><rect x="167.0" y="252.0" width="3.6" height="64.0" fill="url(#g24)"/><rect x="170.0" y="251.0" width="3.6" height="65.0" fill="url(#g25)"/><rect x="173.0" y="251.0" width="3.6" height="65.0" fill="url(#g26)"/><rect x="176.0" y="250.0" width="3.6" height="66.0" fill="url(#g27)"/><rect x="179.0" y="250.0" width="3.6" height="66.0" fill="url(#g28)"/><rect x="182.0" y="251.0" width="3.6" height="65.0" fill="url(#g29)"/><rect x="185.0" y="251.0" width="3.6" height="65.0" fill="url(#g30)"/><rect x="188.0" y="252.0" width="3.6" height="64.0" fill="url(#g31)"/><rect x="191.0" y="252.0" width="3.6" height="64.0" fill="url(#g32)"/><rect x="194.0" y="253.0" width="3.6" height="63.0" fill="url(#g33)"/><rect x="197.0" y="254.0" width="3.6" height="62.0" fill="url(#g34)"/><rect x="200.0" y="254.0" width="3.6" height="62.0" fill="url(#g35)"/><rect x="203.0" y="255.0" width="3.6" height="61.0" fill="url(#g36)"/><rect x="206.0" y="256.0" width="3.6" height="60.0" fill="url(#g37)"/><rect x="209.0" y="257.0" width="3.6" height="59.0" fill="url(#g38)"/><rect x="212.0" y="259.0" width="3.6" height="57.0" fill="url(#g39)"/><rect x="215.0" y="260.0" width="3.6" height="56.0" fill="url(#g40)"/><rect x="218.0" y="261.0" width="3.6" height="55.0" fill="url(#g41)"/><rect x="221.0" y="261.0" width="3.6" height="55.0" fill="url(#g42)"/><rect x="224.0" y="261.0" width="3.6" height="55.0" fill="url(#g43)"/><rect x="227.0" y="261.0" width="3.6" height="55.0" fill="url(#g44)"/><rect x="230.0" y="261.0" width="3.6" height="55.0" fill="url(#g45)"/><rect x="233.0" y="261.0" width="3.6" height="55.0" fill="url(#g46)"/><rect x="236.0" y="261.0" width="3.6" height="55.0" fill="url(#g47)"/><rect x="239.0" y="261.0" width="3.6" height="55.0" fill="url(#g48)"/><rect x="242.0" y="260.0" width="3.6" height="56.0" fill="url(#g49)"/><rect x="245.0" y="259.0" width="3.6" height="57.0" fill="url(#g50)"/><rect x="248.0" y="258.0" width="3.6" height="58.0" fill="url(#g51)"/><rect x="251.0" y="257.0" width="3.6" height="59.0" fill="url(#g52)"/><rect x="254.0" y="255.0" width="3.6" height="61.0" fill="url(#g53)"/><rect x="257.0" y="252.0" width="3.6" height="64.0" fill="url(#g54)"/><rect x="260.0" y="249.0" width="3.6" height="67.0" fill="url(#g55)"/><rect x="263.0" y="246.0" width="3.6" height="70.0" fill="url(#g56)"/><rect x="266.0" y="245.0" width="3.6" height="71.0" fill="url(#g57)"/><rect x="269.0" y="245.0" width="3.6" height="71.0" fill="url(#g58)"/><rect x="272.0" y="245.0" width="3.6" height="71.0" fill="url(#g59)"/><rect x="275.0" y="244.0" width="3.6" height="72.0" fill="url(#g60)"/><rect x="278.0" y="244.0" width="3.6" height="72.0" fill="url(#g61)"/><rect x="281.0" y="243.0" width="3.6" height="73.0" fill="url(#g62)"/><rect x="284.0" y="241.0" width="3.6" height="75.0" fill="url(#g63)"/><rect x="287.0" y="240.0" width="3.6" height="76.0" fill="url(#g64)"/><rect x="290.0" y="238.0" width="3.6" height="78.0" fill="url(#g65)"/><rect x="293.0" y="242.0" width="3.6" height="74.0" fill="url(#g66)"/><rect x="296.0" y="248.0" width="3.6" height="68.0" fill="url(#g67)"/><rect x="299.0" y="253.0" width="3.6" height="63.0" fill="url(#g68)"/><rect x="302.0" y="257.0" width="3.6" height="59.0" fill="url(#g69)"/><rect x="305.0" y="258.0" width="3.6" height="58.0" fill="url(#g70)"/><rect x="308.0" y="259.0" width="3.6" height="57.0" fill="url(#g71)"/><rect x="311.0" y="253.0" width="3.6" height="63.0" fill="url(#g72)"/><rect x="314.0" y="246.0" width="3.6" height="70.0" fill="url(#g73)"/><rect x="317.0" y="240.0" width="3.6" height="76.0" fill="url(#g74)"/><rect x="320.0" y="238.0" width="3.6" height="78.0" fill="url(#g75)"/><rect x="323.0" y="237.0" width="3.6" height="79.0" fill="url(#g76)"/><rect x="326.0" y="236.0" width="3.6" height="80.0" fill="url(#g77)"/><rect x="329.0" y="235.0" width="3.6" height="81.0" fill="url(#g78)"/><rect x="332.0" y="235.0" width="3.6" height="81.0" fill="url(#g79)"/><rect x="335.0" y="236.0" width="3.6" height="80.0" fill="url(#g80)"/><rect x="338.0" y="236.0" width="3.6" height="80.0" fill="url(#g81)"/><rect x="341.0" y="237.0" width="3.6" height="79.0" fill="url(#g82)"/><rect x="344.0" y="237.0" width="3.6" height="79.0" fill="url(#g83)"/><rect x="347.0" y="238.0" width="3.6" height="78.0" fill="url(#g84)"/><rect x="350.0" y="240.0" width="3.6" height="76.0" fill="url(#g85)"/><rect x="353.0" y="245.0" width="3.6" height="71.0" fill="url(#g86)"/><rect x="356.0" y="249.0" width="3.6" height="67.0" fill="url(#g87)"/><rect x="359.0" y="246.0" width="3.6" height="70.0" fill="url(#g88)"/><rect x="362.0" y="242.0" width="3.6" height="74.0" fill="url(#g89)"/><rect x="365.0" y="238.0" width="3.6" height="78.0" fill="url(#g90)"/><rect x="368.0" y="236.0" width="3.6" height="80.0" fill="url(#g91)"/><rect x="371.0" y="235.0" width="3.6" height="81.0" fill="url(#g92)"/><rect x="374.0" y="234.0" width="3.6" height="82.0" fill="url(#g93)"/><rect x="377.0" y="232.0" width="3.6" height="84.0" fill="url(#g94)"/><rect x="380.0" y="232.0" width="3.6" height="84.0" fill="url(#g95)"/><rect x="383.0" y="232.0" width="3.6" height="84.0" fill="url(#g96)"/><rect x="386.0" y="233.0" width="3.6" height="83.0" fill="url(#g97)"/><rect x="389.0" y="233.0" width="3.6" height="83.0" fill="url(#g98)"/><rect x="392.0" y="233.0" width="3.6" height="83.0" fill="url(#g99)"/><rect x="395.0" y="233.0" width="3.6" height="83.0" fill="url(#g100)"/><rect x="398.0" y="234.0" width="3.6" height="82.0" fill="url(#g101)"/><rect x="401.0" y="238.0" width="3.6" height="78.0" fill="url(#g102)"/><rect x="404.0" y="242.0" width="3.6" height="74.0" fill="url(#g103)"/><rect x="407.0" y="246.0" width="3.6" height="70.0" fill="url(#g104)"/><rect x="410.0" y="246.0" width="3.6" height="70.0" fill="url(#g105)"/><rect x="413.0" y="247.0" width="3.6" height="69.0" fill="url(#g106)"/><rect x="416.0" y="247.0" width="3.6" height="69.0" fill="url(#g107)"/><rect x="419.0" y="247.0" width="3.6" height="69.0" fill="url(#g108)"/><rect x="422.0" y="243.0" width="3.6" height="73.0" fill="url(#g109)"/><rect x="425.0" y="238.0" width="3.6" height="78.0" fill="url(#g110)"/><rect x="428.0" y="236.0" width="3.6" height="80.0" fill="url(#g111)"/><rect x="431.0" y="235.0" width="3.6" height="81.0" fill="url(#g112)"/><rect x="434.0" y="234.0" width="3.6" height="82.0" fill="url(#g113)"/><rect x="437.0" y="234.0" width="3.6" height="82.0" fill="url(#g114)"/><rect x="440.0" y="233.0" width="3.6" height="83.0" fill="url(#g115)"/><rect x="443.0" y="233.0" width="3.6" height="83.0" fill="url(#g116)"/><rect x="446.0" y="233.0" width="3.6" height="83.0" fill="url(#g117)"/><rect x="449.0" y="233.0" width="3.6" height="83.0" fill="url(#g118)"/><rect x="452.0" y="234.0" width="3.6" height="82.0" fill="url(#g119)"/><rect x="455.0" y="234.0" width="3.6" height="82.0" fill="url(#g120)"/><rect x="458.0" y="234.0" width="3.6" height="82.0" fill="url(#g121)"/><rect x="461.0" y="235.0" width="3.6" height="81.0" fill="url(#g122)"/><rect x="464.0" y="236.0" width="3.6" height="80.0" fill="url(#g123)"/><rect x="467.0" y="241.0" width="3.6" height="75.0" fill="url(#g124)"/><rect x="470.0" y="246.0" width="3.6" height="70.0" fill="url(#g125)"/><rect x="473.0" y="252.0" width="3.6" height="64.0" fill="url(#g126)"/><rect x="476.0" y="254.0" width="3.6" height="62.0" fill="url(#g127)"/><rect x="479.0" y="256.0" width="3.6" height="60.0" fill="url(#g128)"/><rect x="482.0" y="258.0" width="3.6" height="58.0" fill="url(#g129)"/><rect x="485.0" y="260.0" width="3.6" height="56.0" fill="url(#g130)"/><rect x="488.0" y="262.0" width="3.6" height="54.0" fill="url(#g131)"/><rect x="491.0" y="267.0" width="3.6" height="49.0" fill="url(#g132)"/><rect x="494.0" y="271.0" width="3.6" height="45.0" fill="url(#g133)"/><rect x="497.0" y="276.0" width="3.6" height="40.0" fill="url(#g134)"/></g>
<g filter="url(#bl3)"><ellipse cx="162" cy="270" rx="40" ry="8" fill="#26ad81" opacity="0.9"/><ellipse cx="160" cy="262.5" rx="32" ry="6.5" fill="#7ad151" opacity="0.95"/><ellipse cx="171" cy="256.5" rx="9" ry="5.5" fill="#b0dd2f" opacity="0.9"/><ellipse cx="141" cy="262" rx="6" ry="4" fill="#86d549" opacity="0.8"/><ellipse cx="190" cy="258" rx="7" ry="7" fill="#6ece58" opacity="0.95"/><ellipse cx="192" cy="256" rx="6" ry="7" fill="#4ec36b" opacity="0.9"/><ellipse cx="205" cy="258" rx="11" ry="6.5" fill="#7ad151" opacity="0.95"/><ellipse cx="202" cy="247" rx="2.8" ry="5" fill="#44bf70" opacity="0.9"/><ellipse cx="210" cy="248" rx="2.8" ry="5" fill="#44bf70" opacity="0.9"/><ellipse cx="210" cy="270" rx="16" ry="7" fill="#1f9f88" opacity="0.9"/></g>
<g filter="url(#bl2)"><ellipse cx="232" cy="250" rx="5" ry="11" fill="#21918c" opacity="0.9"/><ellipse cx="243" cy="266" rx="18" ry="10" fill="#21918c" opacity="0.85"/><ellipse cx="266" cy="252" rx="17" ry="21" fill="#27808e" opacity="0.85"/><ellipse cx="268" cy="228" rx="5" ry="4.5" fill="#287d8e" opacity="0.9"/><ellipse cx="254" cy="239" rx="7" ry="5" fill="#25848e" opacity="0.9"/><ellipse cx="278" cy="238" rx="5" ry="6" fill="#287d8e" opacity="0.85"/><ellipse cx="287" cy="262" rx="12" ry="26" fill="#2a788e" opacity="0.7"/><path d="M286,304 L304.5,285 L333,267 L346,259" fill="none" stroke="#1e9c89" stroke-width="4" opacity="0.9"/></g>
<g filter="url(#feat)"></g>
<path d="M82.9,315.0 C82.9,314.6 82.5,315.1 83.1,312.7 C83.7,310.3 85.0,304.4 86.4,300.4 C87.8,296.4 89.4,292.4 91.3,288.9 C93.2,285.3 95.8,282.1 97.8,279.1 C99.8,276.2 102.0,273.0 103.6,271.2 C105.2,269.4 106.1,269.3 107.3,268.3 C108.5,267.3 109.7,266.2 110.9,265.4 C112.1,264.5 113.3,263.9 114.5,263.2 C115.7,262.5 117.0,261.9 118.2,261.4 C119.4,260.8 120.6,260.4 121.8,259.9 C123.0,259.3 124.9,258.4 125.5,258.1" fill="none" stroke="#2a8f8a" stroke-width="1.8" stroke-linejoin="round"/>
<path d="M130.5,261.0 C130.0,261.6 129.0,263.6 127.6,264.6 C126.1,265.6 123.6,266.0 121.8,266.8 C120.0,267.6 118.2,268.5 116.7,269.7 C115.2,270.9 114.3,272.5 113.1,274.1 C111.9,275.7 110.7,277.4 109.5,279.2 C108.3,281.0 106.8,282.8 105.8,285.0 C104.8,287.2 104.0,289.6 103.2,292.2 C102.4,294.8 101.6,297.1 101.1,300.4 C100.6,303.7 100.4,309.4 100.3,311.8 C100.2,314.2 100.2,314.5 100.2,315.0" fill="none" stroke="#4ec36b" stroke-width="2.6" stroke-linejoin="round" opacity="0.9"/>
<path d="M82.9,315.0 C82.9,314.6 82.5,315.1 83.1,312.7 C83.7,310.3 85.0,304.4 86.4,300.4 C87.8,296.4 89.4,292.4 91.3,288.9 C93.2,285.3 95.8,282.1 97.8,279.1 C99.8,276.2 102.0,273.0 103.6,271.2 C105.2,269.4 106.1,269.3 107.3,268.3 C108.5,267.3 109.7,266.2 110.9,265.4 C112.1,264.5 113.3,263.9 114.5,263.2 C115.7,262.5 117.0,261.9 118.2,261.4 C119.4,260.8 120.6,260.4 121.8,259.9 C123.0,259.3 124.3,258.9 125.5,258.1 C126.7,257.3 127.9,256.2 129.1,255.2 C130.3,254.2 131.5,252.7 132.7,251.9 C133.9,251.1 135.2,250.8 136.4,250.5 C137.6,250.2 139.0,250.0 140.0,250.1 C141.0,250.2 141.8,250.7 142.6,251.3 C143.4,251.9 143.9,253.1 144.6,253.8 C145.2,254.5 145.7,255.5 146.5,255.6 C147.3,255.7 148.1,255.2 149.5,254.2 C150.9,253.2 153.5,251.1 155.0,249.8 C156.5,248.5 157.2,247.4 158.6,246.5 C160.0,245.6 161.7,244.6 163.2,244.4 C164.7,244.2 166.0,244.4 167.7,245.1 C169.4,245.8 171.5,247.1 173.2,248.4 C174.9,249.7 176.3,251.4 177.7,252.9 C179.1,254.4 180.5,256.1 181.4,257.5 C182.3,258.9 182.9,260.8 183.2,261.5 L180.5,263.0 C180.0,262.5 178.9,261.2 177.7,260.0 C176.5,258.8 174.9,257.0 173.2,255.5 C171.5,254.0 169.5,251.9 167.7,251.2 C165.9,250.5 164.1,250.8 162.3,251.5 C160.5,252.2 158.6,254.2 156.8,255.5 C155.0,256.9 153.2,258.8 151.7,259.6 C150.1,260.4 148.7,260.9 147.5,260.5 C146.3,260.1 145.5,258.5 144.5,257.5 C143.5,256.5 142.5,255.2 141.5,254.6 C140.5,254.0 139.5,253.9 138.5,253.9 C137.5,253.9 136.5,254.3 135.5,254.8 C134.5,255.3 133.5,255.8 132.7,256.8 C131.9,257.8 131.3,259.7 130.5,261.0 C129.7,262.3 129.0,263.6 127.6,264.6 C126.1,265.6 123.6,266.0 121.8,266.8 C120.0,267.6 118.2,268.5 116.7,269.7 C115.2,270.9 114.3,272.5 113.1,274.1 C111.9,275.7 110.7,277.4 109.5,279.2 C108.3,281.0 106.8,282.8 105.8,285.0 C104.8,287.2 104.0,289.6 103.2,292.2 C102.4,294.8 101.6,297.1 101.1,300.4 C100.6,303.7 100.4,309.4 100.3,311.8 C100.2,314.2 100.2,314.5 100.2,315.0Z" fill="url(#rg)"/>
<circle cx="139.5" cy="258.3" r="2.6" fill="none" stroke="#a2da37" stroke-width="1.6" opacity="0.9"/>
</g>
<g clip-path="url(#cB)"><g filter="url(#grain)"><rect x="97.0" y="576.0" width="2.6" height="40.0" fill="url(#g135)"/><rect x="99.0" y="573.0" width="2.6" height="43.0" fill="url(#g136)"/><rect x="101.0" y="571.0" width="2.6" height="45.0" fill="url(#g137)"/><rect x="103.0" y="569.0" width="2.6" height="47.0" fill="url(#g138)"/><rect x="105.0" y="567.0" width="2.6" height="49.0" fill="url(#g139)"/><rect x="107.0" y="566.0" width="2.6" height="50.0" fill="url(#g140)"/><rect x="109.0" y="564.0" width="2.6" height="52.0" fill="url(#g141)"/><rect x="111.0" y="563.0" width="2.6" height="53.0" fill="url(#g142)"/><rect x="113.0" y="561.0" width="2.6" height="55.0" fill="url(#g143)"/><rect x="115.0" y="560.0" width="2.6" height="56.0" fill="url(#g144)"/><rect x="117.0" y="559.0" width="2.6" height="57.0" fill="url(#g145)"/><rect x="119.0" y="558.0" width="2.6" height="58.0" fill="url(#g146)"/><rect x="121.0" y="556.0" width="2.6" height="60.0" fill="url(#g147)"/><rect x="123.0" y="555.0" width="2.6" height="61.0" fill="url(#g148)"/><rect x="125.0" y="554.0" width="2.6" height="62.0" fill="url(#g149)"/><rect x="127.0" y="553.0" width="2.6" height="63.0" fill="url(#g150)"/><rect x="129.0" y="552.0" width="2.6" height="64.0" fill="url(#g151)"/><rect x="131.0" y="551.0" width="2.6" height="65.0" fill="url(#g152)"/><rect x="133.0" y="550.0" width="2.6" height="66.0" fill="url(#g153)"/><rect x="135.0" y="549.0" width="2.6" height="67.0" fill="url(#g154)"/><rect x="137.0" y="549.0" width="2.6" height="67.0" fill="url(#g155)"/><rect x="139.0" y="548.0" width="2.6" height="68.0" fill="url(#g156)"/><rect x="141.0" y="547.0" width="2.6" height="69.0" fill="url(#g157)"/><rect x="143.0" y="547.0" width="2.6" height="69.0" fill="url(#g158)"/><rect x="145.0" y="546.0" width="2.6" height="70.0" fill="url(#g159)"/><rect x="147.0" y="545.0" width="2.6" height="71.0" fill="url(#g160)"/><rect x="149.0" y="545.0" width="2.6" height="71.0" fill="url(#g161)"/><rect x="151.0" y="543.0" width="2.6" height="73.0" fill="url(#g162)"/><rect x="153.0" y="541.0" width="2.6" height="75.0" fill="url(#g163)"/><rect x="155.0" y="540.0" width="2.6" height="76.0" fill="url(#g164)"/><rect x="157.0" y="540.0" width="2.6" height="76.0" fill="url(#g165)"/><rect x="159.0" y="539.0" width="2.6" height="77.0" fill="url(#g166)"/><rect x="161.0" y="539.0" width="2.6" height="77.0" fill="url(#g167)"/><rect x="163.0" y="539.0" width="2.6" height="77.0" fill="url(#g168)"/><rect x="165.0" y="538.0" width="2.6" height="78.0" fill="url(#g169)"/><rect x="167.0" y="538.0" width="2.6" height="78.0" fill="url(#g170)"/><rect x="169.0" y="538.0" width="2.6" height="78.0" fill="url(#g171)"/><rect x="171.0" y="537.0" width="2.6" height="79.0" fill="url(#g172)"/><rect x="173.0" y="537.0" width="2.6" height="79.0" fill="url(#g173)"/><rect x="175.0" y="537.0" width="2.6" height="79.0" fill="url(#g174)"/><rect x="177.0" y="536.0" width="2.6" height="80.0" fill="url(#g175)"/><rect x="179.0" y="535.0" width="2.6" height="81.0" fill="url(#g176)"/><rect x="181.0" y="534.0" width="2.6" height="82.0" fill="url(#g177)"/><rect x="183.0" y="533.0" width="2.6" height="83.0" fill="url(#g178)"/><rect x="185.0" y="531.0" width="2.6" height="85.0" fill="url(#g179)"/><rect x="187.0" y="531.0" width="2.6" height="85.0" fill="url(#g180)"/><rect x="189.0" y="530.0" width="2.6" height="86.0" fill="url(#g181)"/><rect x="191.0" y="529.0" width="2.6" height="87.0" fill="url(#g182)"/><rect x="193.0" y="528.0" width="2.6" height="88.0" fill="url(#g183)"/><rect x="195.0" y="528.0" width="2.6" height="88.0" fill="url(#g184)"/><rect x="197.0" y="527.0" width="2.6" height="89.0" fill="url(#g185)"/><rect x="199.0" y="526.0" width="2.6" height="90.0" fill="url(#g186)"/><rect x="201.0" y="526.0" width="2.6" height="90.0" fill="url(#g187)"/><rect x="203.0" y="525.0" width="2.6" height="91.0" fill="url(#g188)"/><rect x="205.0" y="524.0" width="2.6" height="92.0" fill="url(#g189)"/><rect x="207.0" y="524.0" width="2.6" height="92.0" fill="url(#g190)"/><rect x="209.0" y="523.0" width="2.6" height="93.0" fill="url(#g191)"/><rect x="211.0" y="523.0" width="2.6" height="93.0" fill="url(#g192)"/><rect x="213.0" y="523.0" width="2.6" height="93.0" fill="url(#g193)"/><rect x="215.0" y="522.0" width="2.6" height="94.0" fill="url(#g194)"/><rect x="217.0" y="522.0" width="2.6" height="94.0" fill="url(#g195)"/><rect x="219.0" y="522.0" width="2.6" height="94.0" fill="url(#g196)"/><rect x="221.0" y="522.0" width="2.6" height="94.0" fill="url(#g197)"/><rect x="223.0" y="521.0" width="2.6" height="95.0" fill="url(#g198)"/><rect x="225.0" y="521.0" width="2.6" height="95.0" fill="url(#g199)"/><rect x="227.0" y="520.0" width="2.6" height="96.0" fill="url(#g200)"/><rect x="229.0" y="520.0" width="2.6" height="96.0" fill="url(#g201)"/><rect x="231.0" y="520.0" width="2.6" height="96.0" fill="url(#g202)"/><rect x="233.0" y="519.0" width="2.6" height="97.0" fill="url(#g203)"/><rect x="235.0" y="519.0" width="2.6" height="97.0" fill="url(#g204)"/><rect x="237.0" y="519.0" width="2.6" height="97.0" fill="url(#g205)"/><rect x="239.0" y="519.0" width="2.6" height="97.0" fill="url(#g206)"/><rect x="241.0" y="519.0" width="2.6" height="97.0" fill="url(#g207)"/><rect x="243.0" y="519.0" width="2.6" height="97.0" fill="url(#g208)"/><rect x="245.0" y="519.0" width="2.6" height="97.0" fill="url(#g209)"/><rect x="247.0" y="519.0" width="2.6" height="97.0" fill="url(#g210)"/><rect x="249.0" y="519.0" width="2.6" height="97.0" fill="url(#g211)"/><rect x="251.0" y="519.0" width="2.6" height="97.0" fill="url(#g212)"/><rect x="253.0" y="519.0" width="2.6" height="97.0" fill="url(#g213)"/><rect x="255.0" y="519.0" width="2.6" height="97.0" fill="url(#g214)"/><rect x="257.0" y="519.0" width="2.6" height="97.0" fill="url(#g215)"/><rect x="259.0" y="519.0" width="2.6" height="97.0" fill="url(#g216)"/><rect x="261.0" y="518.0" width="2.6" height="98.0" fill="url(#g217)"/><rect x="263.0" y="518.0" width="2.6" height="98.0" fill="url(#g218)"/><rect x="265.0" y="517.0" width="2.6" height="99.0" fill="url(#g219)"/><rect x="267.0" y="517.0" width="2.6" height="99.0" fill="url(#g220)"/><rect x="269.0" y="516.0" width="2.6" height="100.0" fill="url(#g221)"/><rect x="271.0" y="517.0" width="2.6" height="99.0" fill="url(#g222)"/><rect x="273.0" y="517.0" width="2.6" height="99.0" fill="url(#g223)"/><rect x="275.0" y="517.0" width="2.6" height="99.0" fill="url(#g224)"/><rect x="277.0" y="517.0" width="2.6" height="99.0" fill="url(#g225)"/><rect x="279.0" y="517.0" width="2.6" height="99.0" fill="url(#g226)"/><rect x="281.0" y="517.0" width="2.6" height="99.0" fill="url(#g227)"/><rect x="283.0" y="518.0" width="2.6" height="98.0" fill="url(#g228)"/><rect x="285.0" y="518.0" width="2.6" height="98.0" fill="url(#g229)"/><rect x="287.0" y="518.0" width="2.6" height="98.0" fill="url(#g230)"/><rect x="289.0" y="518.0" width="2.6" height="98.0" fill="url(#g231)"/><rect x="291.0" y="518.0" width="2.6" height="98.0" fill="url(#g232)"/><rect x="293.0" y="518.0" width="2.6" height="98.0" fill="url(#g233)"/><rect x="295.0" y="519.0" width="2.6" height="97.0" fill="url(#g234)"/><rect x="297.0" y="519.0" width="2.6" height="97.0" fill="url(#g235)"/><rect x="299.0" y="519.0" width="2.6" height="97.0" fill="url(#g236)"/><rect x="301.0" y="520.0" width="2.6" height="96.0" fill="url(#g237)"/><rect x="303.0" y="520.0" width="2.6" height="96.0" fill="url(#g238)"/><rect x="305.0" y="520.0" width="2.6" height="96.0" fill="url(#g239)"/><rect x="307.0" y="520.0" width="2.6" height="96.0" fill="url(#g240)"/><rect x="309.0" y="521.0" width="2.6" height="95.0" fill="url(#g241)"/><rect x="311.0" y="521.0" width="2.6" height="95.0" fill="url(#g242)"/><rect x="313.0" y="521.0" width="2.6" height="95.0" fill="url(#g243)"/><rect x="315.0" y="521.0" width="2.6" height="95.0" fill="url(#g244)"/><rect x="317.0" y="521.0" width="2.6" height="95.0" fill="url(#g245)"/><rect x="319.0" y="521.0" width="2.6" height="95.0" fill="url(#g246)"/><rect x="321.0" y="521.0" width="2.6" height="95.0" fill="url(#g247)"/><rect x="323.0" y="520.0" width="2.6" height="96.0" fill="url(#g248)"/><rect x="325.0" y="520.0" width="2.6" height="96.0" fill="url(#g249)"/><rect x="327.0" y="520.0" width="2.6" height="96.0" fill="url(#g250)"/><rect x="329.0" y="520.0" width="2.6" height="96.0" fill="url(#g251)"/><rect x="331.0" y="520.0" width="2.6" height="96.0" fill="url(#g252)"/><rect x="333.0" y="520.0" width="2.6" height="96.0" fill="url(#g253)"/><rect x="335.0" y="521.0" width="2.6" height="95.0" fill="url(#g254)"/><rect x="337.0" y="521.0" width="2.6" height="95.0" fill="url(#g255)"/><rect x="339.0" y="521.0" width="2.6" height="95.0" fill="url(#g256)"/><rect x="341.0" y="522.0" width="2.6" height="94.0" fill="url(#g257)"/><rect x="343.0" y="522.0" width="2.6" height="94.0" fill="url(#g258)"/><rect x="345.0" y="522.0" width="2.6" height="94.0" fill="url(#g259)"/><rect x="347.0" y="522.0" width="2.6" height="94.0" fill="url(#g260)"/><rect x="349.0" y="522.0" width="2.6" height="94.0" fill="url(#g261)"/><rect x="351.0" y="523.0" width="2.6" height="93.0" fill="url(#g262)"/><rect x="353.0" y="523.0" width="2.6" height="93.0" fill="url(#g263)"/><rect x="355.0" y="523.0" width="2.6" height="93.0" fill="url(#g264)"/><rect x="357.0" y="523.0" width="2.6" height="93.0" fill="url(#g265)"/><rect x="359.0" y="523.0" width="2.6" height="93.0" fill="url(#g266)"/><rect x="361.0" y="523.0" width="2.6" height="93.0" fill="url(#g267)"/><rect x="363.0" y="523.0" width="2.6" height="93.0" fill="url(#g268)"/><rect x="365.0" y="523.0" width="2.6" height="93.0" fill="url(#g269)"/><rect x="367.0" y="523.0" width="2.6" height="93.0" fill="url(#g270)"/><rect x="369.0" y="523.0" width="2.6" height="93.0" fill="url(#g271)"/><rect x="371.0" y="523.0" width="2.6" height="93.0" fill="url(#g272)"/><rect x="373.0" y="524.0" width="2.6" height="92.0" fill="url(#g273)"/><rect x="375.0" y="525.0" width="2.6" height="91.0" fill="url(#g274)"/><rect x="377.0" y="527.0" width="2.6" height="89.0" fill="url(#g275)"/><rect x="379.0" y="528.0" width="2.6" height="88.0" fill="url(#g276)"/><rect x="381.0" y="529.0" width="2.6" height="87.0" fill="url(#g277)"/><rect x="383.0" y="531.0" width="2.6" height="85.0" fill="url(#g278)"/><rect x="385.0" y="530.0" width="2.6" height="86.0" fill="url(#g279)"/><rect x="387.0" y="530.0" width="2.6" height="86.0" fill="url(#g280)"/><rect x="389.0" y="529.0" width="2.6" height="87.0" fill="url(#g281)"/><rect x="391.0" y="529.0" width="2.6" height="87.0" fill="url(#g282)"/><rect x="393.0" y="529.0" width="2.6" height="87.0" fill="url(#g283)"/><rect x="395.0" y="528.0" width="2.6" height="88.0" fill="url(#g284)"/><rect x="397.0" y="527.0" width="2.6" height="89.0" fill="url(#g285)"/><rect x="399.0" y="527.0" width="2.6" height="89.0" fill="url(#g286)"/><rect x="401.0" y="526.0" width="2.6" height="90.0" fill="url(#g287)"/><rect x="403.0" y="525.0" width="2.6" height="91.0" fill="url(#g288)"/><rect x="405.0" y="526.0" width="2.6" height="90.0" fill="url(#g289)"/><rect x="407.0" y="527.0" width="2.6" height="89.0" fill="url(#g290)"/><rect x="409.0" y="529.0" width="2.6" height="87.0" fill="url(#g291)"/><rect x="411.0" y="530.0" width="2.6" height="86.0" fill="url(#g292)"/><rect x="413.0" y="531.0" width="2.6" height="85.0" fill="url(#g293)"/><rect x="415.0" y="532.0" width="2.6" height="84.0" fill="url(#g294)"/><rect x="417.0" y="533.0" width="2.6" height="83.0" fill="url(#g295)"/><rect x="419.0" y="534.0" width="2.6" height="82.0" fill="url(#g296)"/><rect x="421.0" y="535.0" width="2.6" height="81.0" fill="url(#g297)"/><rect x="423.0" y="535.0" width="2.6" height="81.0" fill="url(#g298)"/><rect x="425.0" y="535.0" width="2.6" height="81.0" fill="url(#g299)"/><rect x="427.0" y="536.0" width="2.6" height="80.0" fill="url(#g300)"/><rect x="429.0" y="536.0" width="2.6" height="80.0" fill="url(#g301)"/><rect x="431.0" y="536.0" width="2.6" height="80.0" fill="url(#g302)"/><rect x="433.0" y="536.0" width="2.6" height="80.0" fill="url(#g303)"/><rect x="435.0" y="536.0" width="2.6" height="80.0" fill="url(#g304)"/><rect x="437.0" y="536.0" width="2.6" height="80.0" fill="url(#g305)"/><rect x="439.0" y="536.0" width="2.6" height="80.0" fill="url(#g306)"/><rect x="441.0" y="536.0" width="2.6" height="80.0" fill="url(#g307)"/><rect x="443.0" y="536.0" width="2.6" height="80.0" fill="url(#g308)"/><rect x="445.0" y="540.0" width="2.6" height="76.0" fill="url(#g309)"/><rect x="447.0" y="542.0" width="2.6" height="74.0" fill="url(#g310)"/><rect x="449.0" y="541.0" width="2.6" height="75.0" fill="url(#g311)"/><rect x="451.0" y="539.0" width="2.6" height="77.0" fill="url(#g312)"/><rect x="453.0" y="538.0" width="2.6" height="78.0" fill="url(#g313)"/><rect x="455.0" y="538.0" width="2.6" height="78.0" fill="url(#g314)"/><rect x="457.0" y="538.0" width="2.6" height="78.0" fill="url(#g315)"/><rect x="459.0" y="538.0" width="2.6" height="78.0" fill="url(#g316)"/><rect x="461.0" y="538.0" width="2.6" height="78.0" fill="url(#g317)"/><rect x="463.0" y="538.0" width="2.6" height="78.0" fill="url(#g318)"/><rect x="465.0" y="538.0" width="2.6" height="78.0" fill="url(#g319)"/><rect x="467.0" y="538.0" width="2.6" height="78.0" fill="url(#g320)"/><rect x="469.0" y="538.0" width="2.6" height="78.0" fill="url(#g321)"/><rect x="471.0" y="538.0" width="2.6" height="78.0" fill="url(#g322)"/><rect x="473.0" y="539.0" width="2.6" height="77.0" fill="url(#g323)"/><rect x="475.0" y="539.0" width="2.6" height="77.0" fill="url(#g324)"/><rect x="477.0" y="539.0" width="2.6" height="77.0" fill="url(#g325)"/><rect x="479.0" y="541.0" width="2.6" height="75.0" fill="url(#g326)"/><rect x="481.0" y="544.0" width="2.6" height="72.0" fill="url(#g327)"/><rect x="483.0" y="546.0" width="2.6" height="70.0" fill="url(#g328)"/><rect x="485.0" y="546.0" width="2.6" height="70.0" fill="url(#g329)"/><rect x="487.0" y="547.0" width="2.6" height="69.0" fill="url(#g330)"/><rect x="489.0" y="548.0" width="2.6" height="68.0" fill="url(#g331)"/><rect x="491.0" y="548.0" width="2.6" height="68.0" fill="url(#g332)"/><rect x="493.0" y="548.0" width="2.6" height="68.0" fill="url(#g333)"/><rect x="495.0" y="548.0" width="2.6" height="68.0" fill="url(#g334)"/><rect x="497.0" y="548.0" width="2.6" height="68.0" fill="url(#g335)"/><rect x="499.0" y="548.0" width="2.6" height="68.0" fill="url(#g336)"/></g>
<path d="M82.4,616.0 C82.5,615.8 82.4,616.4 82.8,614.9 C83.2,613.4 84.0,609.7 84.8,606.9 C85.6,604.1 86.5,601.1 87.6,598.2 C88.7,595.3 89.9,592.3 91.2,589.5 C92.5,586.7 93.9,583.9 95.4,581.5 C96.9,579.1 98.6,577.2 100.4,575.2 C102.2,573.2 104.2,571.1 106.1,569.5 C108.0,567.9 109.8,566.7 111.9,565.3 C114.1,563.9 116.6,562.4 119.0,561.0 C121.4,559.6 123.9,558.0 126.2,556.8 C128.5,555.5 130.5,554.5 133.0,553.5 C135.5,552.5 139.7,551.2 141.0,550.8 L141.0,556.5 C139.7,556.9 135.6,558.1 133.0,559.0 C130.4,559.9 127.6,560.8 125.2,562.0 C122.8,563.2 120.4,564.8 118.6,566.2 C116.8,567.6 115.8,568.8 114.3,570.5 C112.8,572.2 111.2,574.2 109.9,576.4 C108.6,578.6 107.3,581.2 106.3,583.6 C105.3,586.0 104.5,588.6 103.8,591.0 C103.1,593.4 102.6,595.8 102.2,598.2 C101.8,600.6 101.6,602.7 101.4,605.5 C101.2,608.3 101.2,613.1 101.2,614.9 C101.2,616.6 101.2,615.8 101.2,616.0Z" fill="none" stroke="url(#jfs)" stroke-width="1.8" stroke-linejoin="round"/>
<path d="M125.2,562.0 C124.1,562.7 120.4,564.8 118.6,566.2 C116.8,567.6 115.8,568.8 114.3,570.5 C112.8,572.2 111.2,574.2 109.9,576.4 C108.6,578.6 107.3,581.2 106.3,583.6 C105.3,586.0 104.5,588.6 103.8,591.0 C103.1,593.4 102.6,595.8 102.2,598.2 C101.8,600.6 101.6,602.7 101.4,605.5 C101.2,608.3 101.2,613.1 101.2,614.9 C101.2,616.6 101.2,615.8 101.2,616.0" fill="none" stroke="#44bf70" stroke-width="2.2" opacity="0.85"/>
<path d="M82.4,616.0 C82.5,615.8 82.4,616.4 82.8,614.9 C83.2,613.4 84.0,609.7 84.8,606.9 C85.6,604.1 86.5,601.1 87.6,598.2 C88.7,595.3 89.9,592.3 91.2,589.5 C92.5,586.7 93.9,583.9 95.4,581.5 C96.9,579.1 98.6,577.2 100.4,575.2 C102.2,573.2 104.2,571.1 106.1,569.5 C108.0,567.9 109.8,566.7 111.9,565.3 C114.1,563.9 116.6,562.4 119.0,561.0 C121.4,559.6 123.9,558.0 126.2,556.8 C128.5,555.5 130.5,554.5 133.0,553.5 C135.5,552.5 139.7,551.2 141.0,550.8 L141.0,556.5 C139.7,556.9 135.6,558.1 133.0,559.0 C130.4,559.9 127.6,560.8 125.2,562.0 C122.8,563.2 120.4,564.8 118.6,566.2 C116.8,567.6 115.8,568.8 114.3,570.5 C112.8,572.2 111.2,574.2 109.9,576.4 C108.6,578.6 107.3,581.2 106.3,583.6 C105.3,586.0 104.5,588.6 103.8,591.0 C103.1,593.4 102.6,595.8 102.2,598.2 C101.8,600.6 101.6,602.7 101.4,605.5 C101.2,608.3 101.2,613.1 101.2,614.9 C101.2,616.6 101.2,615.8 101.2,616.0Z" fill="url(#jf)"/>
<polyline points="81.5,615.0 82.0,613.0 82.6,611.0 83.2,608.9 83.7,606.9 84.4,604.7 85.2,602.5 85.9,600.4 86.6,598.2 87.5,596.0 88.4,593.9 89.4,591.7 90.3,589.5 91.4,587.5 92.4,585.5 93.5,583.5 94.6,581.5 95.9,579.9 97.2,578.2 98.4,576.5 99.7,574.9 101.2,573.5 102.6,572.0 104.0,570.5 105.5,569.1 107.5,567.6 109.4,566.2 111.4,564.7 113.2,563.6 115.0,562.5 116.8,561.5 118.6,560.4 120.4,559.3 122.2,558.2 124.1,557.1 125.9,556.0 127.7,555.1 129.6,554.2 131.4,553.3 133.2,552.4 135.6,551.4 138.1,550.5 140.5,549.5 142.9,548.8 145.3,548.0 147.7,547.3 150.1,546.9 152.6,546.4 155.0,546.2 157.2,545.8 159.3,545.6 161.6,545.7 163.6,545.5 165.6,545.2 167.6,545.5 170.0,544.7 172.2,544.1 174.0,544.6 176.2,542.5 178.3,541.4 180.8,542.2 182.3,543.9 185.1,541.6 186.6,542.0 189.0,540.7 190.5,541.7 192.5,541.1 194.7,539.2 196.2,537.6 198.4,541.0 200.1,540.7 202.9,539.3 204.5,539.2 206.3,538.7 208.6,539.3 210.9,537.9 212.9,537.6 214.6,538.5 216.6,537.8 218.8,537.2 220.4,537.3 223.0,537.2 225.4,537.1 225.7,536.2 229.4,536.2 230.7,535.0 233.4,536.3 235.2,535.5 237.5,535.4 238.6,535.5 241.1,534.7 243.3,534.9 243.9,536.4 247.4,535.0 248.9,535.3 250.5,535.5 252.9,535.0 254.7,534.7 257.4,536.6 259.2,535.5 260.9,535.6 264.0,533.0 266.0,532.1 267.7,533.8 269.5,531.6 272.2,534.0 274.1,534.6 276.1,535.2 278.5,534.0 280.8,534.3 283.4,536.2 285.1,534.3 286.6,534.0 289.1,534.8 291.2,535.1 293.6,534.1 295.1,536.5 297.8,535.3 300.0,535.5 301.4,534.8 303.8,536.8 305.9,537.7 307.6,537.6 310.0,537.6 311.5,538.1 313.9,539.2 316.3,538.2 318.1,537.6 319.9,538.2 322.3,538.5 323.6,538.3 325.9,537.4 327.7,536.7 330.8,537.6 332.2,536.3 333.5,537.6 336.0,538.9 337.8,539.1 340.8,538.2 342.7,538.6 344.6,539.9 347.1,539.1 348.6,540.8 350.2,540.0 352.4,539.6 355.0,541.0 357.7,541.7 359.3,540.4 360.8,540.7 362.2,542.1 364.8,539.8 367.0,541.6 369.6,540.5 371.4,540.9 373.0,541.2 375.1,540.9 377.3,542.1 378.7,543.9 380.1,545.5 382.5,546.2 383.9,550.0 386.0,548.2 388.6,547.3 390.8,546.8 393.1,547.0 394.7,547.8 397.2,545.5 399.2,544.5 401.7,544.3 404.4,542.2 405.8,545.5 407.9,545.9 410.3,546.8 411.8,547.5 414.1,549.6 415.1,550.0 416.8,551.5 419.3,551.3 420.7,550.8 423.0,553.2 424.6,554.2 426.6,553.3 428.6,552.8 431.8,554.1 432.8,555.4 433.9,554.8 437.4,553.9 439.9,553.0 442.0,555.6 443.6,553.5 445.4,556.8 446.2,559.2 447.5,559.7 449.5,558.2 450.8,555.6 453.9,556.1 456.3,554.9 457.5,556.6 459.7,556.7 461.9,555.7 463.0,555.4 466.6,556.9 468.5,556.0 470.0,556.0 472.3,557.1 474.4,558.9 476.0,558.2 477.8,558.8 479.7,559.8 481.5,563.3 482.9,563.4 484.5,564.9 486.5,565.0 488.7,566.9 490.4,567.7 493.4,565.7 495.3,569.0 496.6,567.6 498.4,567.4 501.0,567.2" fill="none" stroke="#c8b0d4" stroke-width="0.85" stroke-linejoin="round"/>
<polyline points="102.6,615.0 104.3,613.9 106.2,612.8 107.9,611.9 110.0,611.2 112.5,609.6 114.6,609.4 116.5,608.2 117.7,605.8 119.0,602.8 120.3,600.8 121.3,599.8 121.9,597.6 124.7,597.7 126.0,599.1 127.7,600.2 129.7,600.9 132.4,600.2 134.8,601.1 136.7,599.4 139.3,601.2 140.0,598.8 142.8,600.5 145.6,599.3 147.4,600.1 149.0,599.8 151.0,600.8 152.7,600.9 154.0,603.4 156.0,604.5 158.1,602.8 159.1,601.3 161.2,600.0 163.5,599.0 165.2,597.6 166.9,597.9 169.1,597.1 171.0,596.9 173.4,597.0 176.4,599.8 178.3,598.5 180.4,599.7 182.1,600.4 184.4,599.1 187.1,598.5 188.6,598.8 190.8,598.6 192.9,601.5 195.5,602.8 197.4,600.9 200.0,599.6 201.8,598.9 203.9,599.2 206.6,596.6 208.9,598.3 210.7,599.7 212.5,598.8 215.2,598.7 216.7,598.2 218.9,595.8 221.3,596.6 221.8,594.8 225.4,597.2 226.9,594.5 228.7,597.2 231.0,596.1 232.6,597.4 234.9,597.2 237.2,598.6 239.1,597.6 240.4,598.5 243.3,597.7 244.2,597.3 247.0,599.9 249.2,598.9 251.3,599.6 252.6,597.8 254.6,598.4 256.9,599.0 258.6,599.1 260.7,600.7 262.8,600.9 265.6,597.4 267.4,598.8 268.5,598.6 271.0,598.2 272.7,597.6 275.2,597.4 276.8,597.2 278.5,599.0 279.8,601.3 282.5,601.8 284.7,601.5 287.0,603.0 288.2,605.6 290.6,604.4 291.7,603.8 293.4,602.4 296.2,603.1 298.4,600.4 300.3,599.1 302.5,599.6 304.3,598.8 306.2,598.9 308.9,597.9 310.6,599.1 313.1,599.9 314.9,598.1 316.3,599.7 319.5,599.3 321.6,598.6 323.1,601.0 325.1,600.6 327.9,600.8 330.6,600.4 332.1,599.5 334.0,601.2 336.5,601.7 339.0,601.5 340.4,602.4 343.4,601.4 345.2,604.3 348.1,603.5 350.2,602.4 352.0,602.6 354.3,601.4 356.6,601.6 359.1,600.5 361.9,600.3 362.8,602.6 364.5,601.9 366.8,600.2 368.5,602.6 370.5,604.5 372.8,606.0 375.0,606.2 376.4,606.7 378.2,605.9 381.3,607.0 382.5,606.0 385.5,607.3 387.8,605.3 389.1,607.0 391.4,607.4 393.8,608.5 395.8,609.5 398.2,609.9 399.5,611.7 402.1,611.6 404.1,610.6 406.3,611.4 407.7,613.0 410.1,612.1 412.6,613.2 413.7,611.0 416.7,611.0 417.4,611.7 420.7,612.2 422.8,611.0 425.0,611.5 426.9,611.8 429.4,610.8 431.8,612.5 433.9,609.4 435.9,611.8 437.6,612.5 439.7,613.3 442.6,611.8 445.2,612.9 447.0,611.4 449.3,614.0 451.8,611.7 454.1,614.5 456.1,612.7 457.5,612.4 460.0,613.5 462.6,612.7 464.0,613.0 466.3,614.7 468.5,614.0 471.3,612.7 473.4,613.4 474.7,612.7 477.0,614.5 478.3,614.1 480.9,612.9 482.9,613.5 485.0,614.3 486.7,615.3 489.3,613.0 490.3,613.5 492.8,614.2 495.2,615.3 496.9,614.3 498.8,613.2 501.0,613.6" fill="none" stroke="#c8b0d4" stroke-width="0.85" stroke-linejoin="round"/>
<rect x="90.6" y="592.0" width="2.2" height="2.2" fill="#fff"/><rect x="99.4" y="579.9" width="2.2" height="2.2" fill="#fff"/><rect x="108.1" y="570.6" width="2.2" height="2.2" fill="#fff"/><rect x="116.8" y="565.4" width="2.2" height="2.2" fill="#fff"/><rect x="125.2" y="561.0" width="2.2" height="2.2" fill="#fff"/><rect x="134.0" y="560.3" width="2.2" height="2.2" fill="#fff"/><rect x="142.7" y="561.7" width="2.2" height="2.2" fill="#fff"/><rect x="151.0" y="560.3" width="2.2" height="2.2" fill="#fff"/><rect x="159.8" y="553.6" width="2.2" height="2.2" fill="#fff"/><rect x="168.9" y="559.8" width="2.2" height="2.2" fill="#fff"/><rect x="177.3" y="560.9" width="2.2" height="2.2" fill="#fff"/><rect x="186.0" y="564.5" width="2.2" height="2.2" fill="#fff"/><rect x="194.4" y="561.6" width="2.2" height="2.2" fill="#fff"/><rect x="203.4" y="559.1" width="2.2" height="2.2" fill="#fff"/><rect x="212.5" y="556.2" width="2.2" height="2.2" fill="#fff"/><rect x="220.9" y="553.3" width="2.2" height="2.2" fill="#fff"/><rect x="229.6" y="563.4" width="2.2" height="2.2" fill="#fff"/><rect x="237.9" y="560.9" width="2.2" height="2.2" fill="#fff"/><rect x="247.1" y="561.6" width="2.2" height="2.2" fill="#fff"/><rect x="255.1" y="552.5" width="2.2" height="2.2" fill="#fff"/><rect x="264.4" y="558.9" width="2.2" height="2.2" fill="#fff"/><rect x="273.3" y="562.7" width="2.2" height="2.2" fill="#fff"/><rect x="281.6" y="559.8" width="2.2" height="2.2" fill="#fff"/><rect x="289.9" y="557.3" width="2.2" height="2.2" fill="#fff"/><rect x="297.9" y="555.1" width="2.2" height="2.2" fill="#fff"/><rect x="307.1" y="561.6" width="2.2" height="2.2" fill="#fff"/><rect x="315.4" y="568.2" width="2.2" height="2.2" fill="#fff"/><rect x="325.3" y="560.5" width="2.2" height="2.2" fill="#fff"/><rect x="333.5" y="567.0" width="2.2" height="2.2" fill="#fff"/><rect x="340.6" y="566.1" width="2.2" height="2.2" fill="#fff"/><rect x="350.5" y="566.1" width="2.2" height="2.2" fill="#fff"/><rect x="359.2" y="562.4" width="2.2" height="2.2" fill="#fff"/><rect x="367.5" y="559.9" width="2.2" height="2.2" fill="#fff"/><rect x="376.2" y="567.6" width="2.2" height="2.2" fill="#fff"/><rect x="385.2" y="571.7" width="2.2" height="2.2" fill="#fff"/><rect x="393.8" y="570.7" width="2.2" height="2.2" fill="#fff"/><rect x="402.5" y="569.8" width="2.2" height="2.2" fill="#fff"/><rect x="410.8" y="577.5" width="2.2" height="2.2" fill="#fff"/><rect x="419.5" y="568.6" width="2.2" height="2.2" fill="#fff"/><rect x="427.8" y="580.0" width="2.2" height="2.2" fill="#fff"/><rect x="437.1" y="574.7" width="2.2" height="2.2" fill="#fff"/><rect x="445.7" y="582.2" width="2.2" height="2.2" fill="#fff"/><rect x="454.1" y="580.0" width="2.2" height="2.2" fill="#fff"/><rect x="463.4" y="580.9" width="2.2" height="2.2" fill="#fff"/><rect x="471.7" y="583.1" width="2.2" height="2.2" fill="#fff"/><rect x="480.4" y="584.0" width="2.2" height="2.2" fill="#fff"/><rect x="489.0" y="587.1" width="2.2" height="2.2" fill="#fff"/><rect x="498.3" y="590.2" width="2.2" height="2.2" fill="#fff"/>
</g>
<line x1="57" y1="313.7" x2="500" y2="313.7" stroke="#c4b0cc" stroke-width="1.5"/>
<line x1="91.6" y1="310.5" x2="91.6" y2="316.5" stroke="#c4b0cc" stroke-width="1"/>
<line x1="91.6" y1="611.5" x2="91.6" y2="615.3" stroke="#c4b0cc" stroke-width="1"/>
<line x1="126.3" y1="310.5" x2="126.3" y2="316.5" stroke="#c4b0cc" stroke-width="1"/>
<line x1="126.3" y1="611.5" x2="126.3" y2="615.3" stroke="#c4b0cc" stroke-width="1"/>
<line x1="160.9" y1="310.5" x2="160.9" y2="316.5" stroke="#c4b0cc" stroke-width="1"/>
<line x1="160.9" y1="611.5" x2="160.9" y2="615.3" stroke="#c4b0cc" stroke-width="1"/>
<line x1="195.6" y1="310.5" x2="195.6" y2="316.5" stroke="#c4b0cc" stroke-width="1"/>
<line x1="195.6" y1="611.5" x2="195.6" y2="615.3" stroke="#c4b0cc" stroke-width="1"/>
<line x1="230.2" y1="310.5" x2="230.2" y2="316.5" stroke="#c4b0cc" stroke-width="1"/>
<line x1="230.2" y1="611.5" x2="230.2" y2="615.3" stroke="#c4b0cc" stroke-width="1"/>
<line x1="264.9" y1="310.5" x2="264.9" y2="316.5" stroke="#c4b0cc" stroke-width="1"/>
<line x1="264.9" y1="611.5" x2="264.9" y2="615.3" stroke="#c4b0cc" stroke-width="1"/>
<line x1="299.6" y1="310.5" x2="299.6" y2="316.5" stroke="#c4b0cc" stroke-width="1"/>
<line x1="299.6" y1="611.5" x2="299.6" y2="615.3" stroke="#c4b0cc" stroke-width="1"/>
<line x1="334.2" y1="310.5" x2="334.2" y2="316.5" stroke="#c4b0cc" stroke-width="1"/>
<line x1="334.2" y1="611.5" x2="334.2" y2="615.3" stroke="#c4b0cc" stroke-width="1"/>
<line x1="368.9" y1="310.5" x2="368.9" y2="316.5" stroke="#c4b0cc" stroke-width="1"/>
<line x1="368.9" y1="611.5" x2="368.9" y2="615.3" stroke="#c4b0cc" stroke-width="1"/>
<line x1="403.5" y1="310.5" x2="403.5" y2="316.5" stroke="#c4b0cc" stroke-width="1"/>
<line x1="403.5" y1="611.5" x2="403.5" y2="615.3" stroke="#c4b0cc" stroke-width="1"/>
<line x1="438.2" y1="310.5" x2="438.2" y2="316.5" stroke="#c4b0cc" stroke-width="1"/>
<line x1="438.2" y1="611.5" x2="438.2" y2="615.3" stroke="#c4b0cc" stroke-width="1"/>
<line x1="472.9" y1="310.5" x2="472.9" y2="316.5" stroke="#c4b0cc" stroke-width="1"/>
<line x1="472.9" y1="611.5" x2="472.9" y2="615.3" stroke="#c4b0cc" stroke-width="1"/>
<line x1="57" y1="313.7" x2="60.5" y2="313.7" stroke="#c4b0cc" stroke-width="1"/>
<line x1="57" y1="615.2" x2="60.5" y2="615.2" stroke="#c4b0cc" stroke-width="1"/>
<line x1="57" y1="279.1" x2="60.5" y2="279.1" stroke="#c4b0cc" stroke-width="1"/>
<line x1="57" y1="580.6" x2="60.5" y2="580.6" stroke="#c4b0cc" stroke-width="1"/>
<line x1="57" y1="244.5" x2="60.5" y2="244.5" stroke="#c4b0cc" stroke-width="1"/>
<line x1="57" y1="546.0" x2="60.5" y2="546.0" stroke="#c4b0cc" stroke-width="1"/>
<line x1="57" y1="209.9" x2="60.5" y2="209.9" stroke="#c4b0cc" stroke-width="1"/>
<line x1="57" y1="511.5" x2="60.5" y2="511.5" stroke="#c4b0cc" stroke-width="1"/>
<line x1="57" y1="175.3" x2="60.5" y2="175.3" stroke="#c4b0cc" stroke-width="1"/>
<line x1="57" y1="476.9" x2="60.5" y2="476.9" stroke="#c4b0cc" stroke-width="1"/>
<line x1="57" y1="140.7" x2="60.5" y2="140.7" stroke="#c4b0cc" stroke-width="1"/>
<line x1="57" y1="442.3" x2="60.5" y2="442.3" stroke="#c4b0cc" stroke-width="1"/>
<line x1="57" y1="106.1" x2="60.5" y2="106.1" stroke="#c4b0cc" stroke-width="1"/>
<line x1="57" y1="407.7" x2="60.5" y2="407.7" stroke="#c4b0cc" stroke-width="1"/>
<line x1="57" y1="71.5" x2="60.5" y2="71.5" stroke="#c4b0cc" stroke-width="1"/>
<line x1="57" y1="373.1" x2="60.5" y2="373.1" stroke="#c4b0cc" stroke-width="1"/>
<line x1="57" y1="36.9" x2="60.5" y2="36.9" stroke="#c4b0cc" stroke-width="1"/>
<line x1="57" y1="338.6" x2="60.5" y2="338.6" stroke="#c4b0cc" stroke-width="1"/>
<g font-family='"Liberation Sans", sans-serif'><text x="53.6" y="316.9" text-anchor="end" font-size="10.2" fill="#383838">0</text><text x="53.6" y="618.4" text-anchor="end" font-size="10.2" fill="#383838">0</text><text x="53.6" y="282.3" text-anchor="end" font-size="10.2" fill="#383838">2</text><text x="53.6" y="583.8" text-anchor="end" font-size="10.2" fill="#383838">2</text><text x="53.6" y="247.7" text-anchor="end" font-size="10.2" fill="#383838">4</text><text x="53.6" y="549.2" text-anchor="end" font-size="10.2" fill="#383838">4</text><text x="53.6" y="213.1" text-anchor="end" font-size="10.2" fill="#383838">6</text><text x="53.6" y="514.7" text-anchor="end" font-size="10.2" fill="#383838">6</text><text x="53.6" y="178.5" text-anchor="end" font-size="10.2" fill="#383838">8</text><text x="53.6" y="480.1" text-anchor="end" font-size="10.2" fill="#383838">8</text><text x="53.6" y="143.9" text-anchor="end" font-size="10.2" fill="#383838">10</text><text x="53.6" y="445.5" text-anchor="end" font-size="10.2" fill="#383838">10</text><text x="53.6" y="109.3" text-anchor="end" font-size="10.2" fill="#383838">12</text><text x="53.6" y="410.9" text-anchor="end" font-size="10.2" fill="#383838">12</text><text x="53.6" y="74.7" text-anchor="end" font-size="10.2" fill="#383838">14</text><text x="53.6" y="376.3" text-anchor="end" font-size="10.2" fill="#383838">14</text><text x="53.6" y="40.1" text-anchor="end" font-size="10.2" fill="#383838">16</text><text x="53.6" y="341.8" text-anchor="end" font-size="10.2" fill="#383838">16</text><text x="91.6" y="325.3" text-anchor="middle" font-size="10.3" fill="#e4dae8">0</text><text x="126.3" y="325.3" text-anchor="middle" font-size="10.3" fill="#e4dae8">2</text><text x="160.9" y="325.3" text-anchor="middle" font-size="10.3" fill="#e4dae8">4</text><text x="195.6" y="325.3" text-anchor="middle" font-size="10.3" fill="#e4dae8">6</text><text x="230.2" y="325.3" text-anchor="middle" font-size="10.3" fill="#e4dae8">8</text><text x="264.9" y="325.3" text-anchor="middle" font-size="10.3" fill="#e4dae8">10</text><text x="299.6" y="325.3" text-anchor="middle" font-size="10.3" fill="#e4dae8">12</text><text x="334.2" y="325.3" text-anchor="middle" font-size="10.3" fill="#e4dae8">14</text><text x="368.9" y="325.3" text-anchor="middle" font-size="10.3" fill="#e4dae8">16</text><text x="403.5" y="325.3" text-anchor="middle" font-size="10.3" fill="#e4dae8">18</text><text x="438.2" y="325.3" text-anchor="middle" font-size="10.3" fill="#e4dae8">20</text><text x="472.9" y="325.3" text-anchor="middle" font-size="10.3" fill="#e4dae8">22</text><text x="56.9" y="627.5" text-anchor="middle" font-size="10.5" fill="#333">-2</text><text x="91.6" y="627.5" text-anchor="middle" font-size="10.5" fill="#333">0</text><text x="126.3" y="627.5" text-anchor="middle" font-size="10.5" fill="#333">2</text><text x="160.9" y="627.5" text-anchor="middle" font-size="10.5" fill="#333">4</text><text x="195.6" y="627.5" text-anchor="middle" font-size="10.5" fill="#333">6</text><text x="230.2" y="627.5" text-anchor="middle" font-size="10.5" fill="#333">8</text><text x="264.9" y="627.5" text-anchor="middle" font-size="10.5" fill="#333">10</text><text x="299.6" y="627.5" text-anchor="middle" font-size="10.5" fill="#333">12</text><text x="334.2" y="627.5" text-anchor="middle" font-size="10.5" fill="#333">14</text><text x="368.9" y="627.5" text-anchor="middle" font-size="10.5" fill="#333">16</text><text x="403.5" y="627.5" text-anchor="middle" font-size="10.5" fill="#333">18</text><text x="438.2" y="627.5" text-anchor="middle" font-size="10.5" fill="#333">20</text><text x="472.9" y="627.5" text-anchor="middle" font-size="10.5" fill="#333">22</text><text x="275.6" y="346.9" text-anchor="middle" font-size="17" fill="#f4eef6">x/d</text><text x="275.6" y="652.8" text-anchor="middle" font-size="17" fill="#111">x/d</text><text x="28.2" y="168.6" text-anchor="middle" font-size="16.5" fill="#111">z/d</text><text x="28.2" y="470.5" text-anchor="middle" font-size="16.5" fill="#111">z/d</text></g>
<rect x="508.6" y="240.7" width="7.1" height="157.3" fill="url(#cbar)"/>
<g font-family='"Liberation Sans", sans-serif'><line x1="515.7" y1="240.7" x2="520.5" y2="240.7" stroke="#555" stroke-width="0.8"/><text x="524.4" y="244.5" font-size="10.5" fill="#383838">1</text><line x1="515.7" y1="272.2" x2="520.5" y2="272.2" stroke="#555" stroke-width="0.8"/><text x="524.4" y="276.0" font-size="10.5" fill="#383838">0.8</text><line x1="515.7" y1="303.6" x2="520.5" y2="303.6" stroke="#555" stroke-width="0.8"/><text x="524.4" y="307.4" font-size="10.5" fill="#383838">0.6</text><line x1="515.7" y1="335.1" x2="520.5" y2="335.1" stroke="#555" stroke-width="0.8"/><text x="524.4" y="338.9" font-size="10.5" fill="#383838">0.4</text><line x1="515.7" y1="366.5" x2="520.5" y2="366.5" stroke="#555" stroke-width="0.8"/><text x="524.4" y="370.3" font-size="10.5" fill="#383838">0.2</text><line x1="515.7" y1="398.0" x2="520.5" y2="398.0" stroke="#555" stroke-width="0.8"/><text x="524.4" y="401.8" font-size="10.5" fill="#383838">0</text><text x="524.8" y="229.5" text-anchor="middle" font-size="12" font-weight="bold" fill="#111">C</text></g>
<line x1="31.2" y1="608.5" x2="31.2" y2="648.5" stroke="#bfeebf" stroke-width="1"/>
<line x1="35" y1="650.8" x2="73.5" y2="650.8" stroke="#f8c8c8" stroke-width="1"/>
<polygon points="32.1,598.9 27.4,608.5 34.6,608.5" fill="#17b317"/>
<polygon points="72.8,647.6 72.8,654.4 83.8,651.1" fill="#d40000"/>
<circle cx="31.2" cy="650.8" r="3.8" fill="#f2e51c"/>
<g font-family='"Liberation Sans", sans-serif' font-size="14" fill="#111"><text x="33.2" y="609">Z</text><text x="32.5" y="651.3">Y</text><text x="75.7" y="651.3">X</text></g>
<text transform="translate(278.6,676.8) scale(0.96,1)" text-anchor="middle" font-family='"Liberation Serif", serif' font-size="23" fill="#111">(a)</text>
<line x1="78.4" y1="704.5" x2="78.4" y2="984.6" stroke="#dcdcdc" stroke-width="0.8" stroke-dasharray="1.2,1.6"/><line x1="102.8" y1="704.5" x2="102.8" y2="984.6" stroke="#dcdcdc" stroke-width="0.8" stroke-dasharray="1.2,1.6"/><line x1="127.1" y1="704.5" x2="127.1" y2="984.6" stroke="#dcdcdc" stroke-width="0.8" stroke-dasharray="1.2,1.6"/><line x1="151.5" y1="704.5" x2="151.5" y2="984.6" stroke="#dcdcdc" stroke-width="0.8" stroke-dasharray="1.2,1.6"/><line x1="195.4" y1="704.5" x2="195.4" y2="984.6" stroke="#dcdcdc" stroke-width="0.8" stroke-dasharray="1.2,1.6"/><line x1="219.8" y1="704.5" x2="219.8" y2="984.6" stroke="#dcdcdc" stroke-width="0.8" stroke-dasharray="1.2,1.6"/><line x1="244.2" y1="704.5" x2="244.2" y2="984.6" stroke="#dcdcdc" stroke-width="0.8" stroke-dasharray="1.2,1.6"/><line x1="268.5" y1="704.5" x2="268.5" y2="984.6" stroke="#dcdcdc" stroke-width="0.8" stroke-dasharray="1.2,1.6"/><line x1="312.4" y1="704.5" x2="312.4" y2="984.6" stroke="#dcdcdc" stroke-width="0.8" stroke-dasharray="1.2,1.6"/><line x1="336.8" y1="704.5" x2="336.8" y2="984.6" stroke="#dcdcdc" stroke-width="0.8" stroke-dasharray="1.2,1.6"/><line x1="361.2" y1="704.5" x2="361.2" y2="984.6" stroke="#dcdcdc" stroke-width="0.8" stroke-dasharray="1.2,1.6"/><line x1="385.6" y1="704.5" x2="385.6" y2="984.6" stroke="#dcdcdc" stroke-width="0.8" stroke-dasharray="1.2,1.6"/><line x1="429.5" y1="704.5" x2="429.5" y2="984.6" stroke="#dcdcdc" stroke-width="0.8" stroke-dasharray="1.2,1.6"/><line x1="453.8" y1="704.5" x2="453.8" y2="984.6" stroke="#dcdcdc" stroke-width="0.8" stroke-dasharray="1.2,1.6"/><line x1="478.2" y1="704.5" x2="478.2" y2="984.6" stroke="#dcdcdc" stroke-width="0.8" stroke-dasharray="1.2,1.6"/><line x1="502.6" y1="704.5" x2="502.6" y2="984.6" stroke="#dcdcdc" stroke-width="0.8" stroke-dasharray="1.2,1.6"/><line x1="44.5" y1="828.5" x2="512.6" y2="828.5" stroke="#dcdcdc" stroke-width="0.8" stroke-dasharray="1.2,1.6"/><line x1="44.5" y1="812.0" x2="512.6" y2="812.0" stroke="#dcdcdc" stroke-width="0.8" stroke-dasharray="1.2,1.6"/><line x1="44.5" y1="795.5" x2="512.6" y2="795.5" stroke="#dcdcdc" stroke-width="0.8" stroke-dasharray="1.2,1.6"/><line x1="44.5" y1="779.0" x2="512.6" y2="779.0" stroke="#dcdcdc" stroke-width="0.8" stroke-dasharray="1.2,1.6"/><line x1="44.5" y1="762.5" x2="512.6" y2="762.5" stroke="#dcdcdc" stroke-width="0.8" stroke-dasharray="1.2,1.6"/><line x1="44.5" y1="746.0" x2="512.6" y2="746.0" stroke="#dcdcdc" stroke-width="0.8" stroke-dasharray="1.2,1.6"/><line x1="44.5" y1="729.5" x2="512.6" y2="729.5" stroke="#dcdcdc" stroke-width="0.8" stroke-dasharray="1.2,1.6"/><line x1="44.5" y1="713.0" x2="512.6" y2="713.0" stroke="#dcdcdc" stroke-width="0.8" stroke-dasharray="1.2,1.6"/><line x1="44.5" y1="971.2" x2="512.6" y2="971.2" stroke="#dcdcdc" stroke-width="0.8" stroke-dasharray="1.2,1.6"/><line x1="44.5" y1="952.4" x2="512.6" y2="952.4" stroke="#dcdcdc" stroke-width="0.8" stroke-dasharray="1.2,1.6"/><line x1="44.5" y1="933.6" x2="512.6" y2="933.6" stroke="#dcdcdc" stroke-width="0.8" stroke-dasharray="1.2,1.6"/><line x1="44.5" y1="914.8" x2="512.6" y2="914.8" stroke="#dcdcdc" stroke-width="0.8" stroke-dasharray="1.2,1.6"/><line x1="44.5" y1="896.0" x2="512.6" y2="896.0" stroke="#dcdcdc" stroke-width="0.8" stroke-dasharray="1.2,1.6"/><line x1="44.5" y1="877.2" x2="512.6" y2="877.2" stroke="#dcdcdc" stroke-width="0.8" stroke-dasharray="1.2,1.6"/><line x1="44.5" y1="858.4" x2="512.6" y2="858.4" stroke="#dcdcdc" stroke-width="0.8" stroke-dasharray="1.2,1.6"/><path d="M54.0,704.5v5M54.0,840.0v10M54.0,984.6v-5M78.4,704.5v5M78.4,840.0v10M78.4,984.6v-5M102.8,704.5v5M102.8,840.0v10M102.8,984.6v-5M127.1,704.5v5M127.1,840.0v10M127.1,984.6v-5M151.5,704.5v5M151.5,840.0v10M151.5,984.6v-5M171.0,704.5v5M171.0,840.0v10M171.0,984.6v-5M195.4,704.5v5M195.4,840.0v10M195.4,984.6v-5M219.8,704.5v5M219.8,840.0v10M219.8,984.6v-5M244.2,704.5v5M244.2,840.0v10M244.2,984.6v-5M268.5,704.5v5M268.5,840.0v10M268.5,984.6v-5M288.1,704.5v5M288.1,840.0v10M288.1,984.6v-5M312.4,704.5v5M312.4,840.0v10M312.4,984.6v-5M336.8,704.5v5M336.8,840.0v10M336.8,984.6v-5M361.2,704.5v5M361.2,840.0v10M361.2,984.6v-5M385.6,704.5v5M385.6,840.0v10M385.6,984.6v-5M405.1,704.5v5M405.1,840.0v10M405.1,984.6v-5M429.5,704.5v5M429.5,840.0v10M429.5,984.6v-5M453.8,704.5v5M453.8,840.0v10M453.8,984.6v-5M478.2,704.5v5M478.2,840.0v10M478.2,984.6v-5M502.6,704.5v5M502.6,840.0v10M502.6,984.6v-5M44.5,845.0H49.7M44.5,828.5H49.7M44.5,812.0H49.7M44.5,795.5H49.7M44.5,779.0H49.7M44.5,762.5H49.7M44.5,746.0H49.7M44.5,729.5H49.7M44.5,713.0H49.7M44.5,971.2H49.7M44.5,952.4H49.7M44.5,933.6H49.7M44.5,914.8H49.7M44.5,896.0H49.7M44.5,877.2H49.7M44.5,858.4H49.7M156.3,845.0H166.7M156.3,828.5H166.7M156.3,812.0H166.7M156.3,795.5H166.7M156.3,779.0H166.7M156.3,762.5H166.7M156.3,746.0H166.7M156.3,729.5H166.7M156.3,713.0H166.7M156.3,971.2H166.7M156.3,952.4H166.7M156.3,933.6H166.7M156.3,914.8H166.7M156.3,896.0H166.7M156.3,877.2H166.7M156.3,858.4H166.7M273.4,845.0H283.8M273.4,828.5H283.8M273.4,812.0H283.8M273.4,795.5H283.8M273.4,779.0H283.8M273.4,762.5H283.8M273.4,746.0H283.8M273.4,729.5H283.8M273.4,713.0H283.8M273.4,971.2H283.8M273.4,952.4H283.8M273.4,933.6H283.8M273.4,914.8H283.8M273.4,896.0H283.8M273.4,877.2H283.8M273.4,858.4H283.8M390.4,845.0H400.8M390.4,828.5H400.8M390.4,812.0H400.8M390.4,795.5H400.8M390.4,779.0H400.8M390.4,762.5H400.8M390.4,746.0H400.8M390.4,729.5H400.8M390.4,713.0H400.8M390.4,971.2H400.8M390.4,952.4H400.8M390.4,933.6H400.8M390.4,914.8H400.8M390.4,896.0H400.8M390.4,877.2H400.8M390.4,858.4H400.8M507.4,845.0H512.6M507.4,828.5H512.6M507.4,812.0H512.6M507.4,795.5H512.6M507.4,779.0H512.6M507.4,762.5H512.6M507.4,746.0H512.6M507.4,729.5H512.6M507.4,713.0H512.6M507.4,971.2H512.6M507.4,952.4H512.6M507.4,933.6H512.6M507.4,914.8H512.6M507.4,896.0H512.6M507.4,877.2H512.6M507.4,858.4H512.6" stroke="#3c3c3c" stroke-width="1.1" fill="none"/><rect x="44.5" y="704.5" width="468.1" height="280.1" fill="none" stroke="#3c3c3c" stroke-width="1.1"/><line x1="44.5" y1="845" x2="512.6" y2="845" stroke="#555" stroke-width="1.3"/><line x1="161.5" y1="704.5" x2="161.5" y2="984.6" stroke="#3c3c3c" stroke-width="1.1"/><line x1="278.6" y1="704.5" x2="278.6" y2="984.6" stroke="#3c3c3c" stroke-width="1.1"/><line x1="395.6" y1="704.5" x2="395.6" y2="984.6" stroke="#3c3c3c" stroke-width="1.1"/>
<polyline points="54.0,704.0 54.0,820.5 54.9,822.0 87.6,823.2 131.3,823.8 152.0,823.8 140.0,827.1 109.5,828.2 81.1,828.8 76.7,830.4 74.5,831.9 70.2,834.7 66.9,835.8 65.8,838.0 66.9,840.2 62.5,841.3 57.1,843.5 54.2,844.6" fill="none" stroke="#f6a83a" stroke-width="1.55" stroke-linejoin="round"/>
<polyline points="170.8,704.0 170.8,705.6 170.8,707.2 170.8,708.8 170.8,710.4 170.8,712.0 170.8,713.7 170.8,715.3 170.8,716.9 170.8,718.5 170.8,720.1 170.8,721.7 170.8,723.3 170.8,724.9 170.8,726.5 170.8,728.1 170.8,729.7 170.8,731.3 170.8,733.0 170.8,734.6 170.8,736.2 170.8,737.8 170.8,739.4 170.8,741.0 170.8,742.6 170.8,744.2 170.8,745.8 170.8,747.4 170.8,749.0 170.8,750.6 170.8,752.3 170.8,753.9 170.8,755.5 170.8,757.1 170.8,758.7 170.8,760.3 170.8,761.9 170.8,763.5 170.8,765.1 170.8,766.7 170.8,768.3 170.8,769.9 170.8,771.6 170.8,773.2 170.8,774.8 170.8,776.4 170.8,778.0 170.8,779.6 170.8,781.2 170.8,782.8 170.8,784.4 170.8,786.0 170.8,787.6 170.8,789.2 170.8,790.9 170.8,792.5 170.8,794.1 170.8,795.7 170.8,797.3 170.8,798.9 170.8,800.5 170.8,802.1 170.8,803.7 170.8,805.3 170.8,806.9 170.8,808.5 171.9,809.2 173.7,809.3 174.8,809.4 176.0,809.6 179.7,809.5 180.9,809.7 182.1,809.5 182.7,810.1 185.8,810.4 188.2,810.0 189.4,810.1 191.5,810.7 192.6,812.5 193.8,813.3 195.9,813.6 197.3,814.0 199.1,813.8 200.1,814.3 202.8,813.8 204.6,814.0 206.9,814.0 208.6,814.1 210.2,814.3 210.2,814.5 212.2,814.9 214.9,815.0 216.6,815.1 218.8,817.3 220.7,817.4 222.5,817.9 224.3,817.9 226.3,818.3 228.6,819.0 226.3,819.5 225.4,820.1 224.3,822.3 221.6,822.9 219.9,822.7 217.5,822.9 216.4,823.7 214.8,823.8 213.4,824.5 211.2,825.2 210.1,826.0 209.0,826.2 206.4,826.6 204.6,827.1 203.0,827.5 200.0,828.2 199.3,827.9 196.7,828.2 195.6,828.7 193.7,828.8 191.6,829.7 189.4,830.4 186.8,830.9 185.8,831.9 185.0,832.5 183.9,833.0 182.0,834.2 180.6,834.7 179.6,835.6 177.4,836.9 176.7,838.4 175.2,839.7 173.0,841.9 171.9,844.1" fill="none" stroke="#f6a83a" stroke-width="1.55" stroke-linejoin="round"/>
<polyline points="287.8,704.0 287.8,705.6 287.8,707.2 287.8,708.8 287.8,710.4 287.8,712.0 287.8,713.6 287.8,715.2 287.8,716.9 287.8,718.5 287.8,720.1 287.8,721.7 287.8,723.3 287.8,724.9 287.8,726.5 287.8,728.1 287.8,729.7 287.8,731.3 287.8,732.9 287.8,734.5 287.8,736.1 287.8,737.7 287.8,739.3 287.8,741.0 287.8,742.6 287.8,744.2 287.8,745.8 287.8,747.4 287.8,749.0 287.8,750.6 287.8,752.2 287.8,753.8 287.8,755.4 287.8,757.0 287.8,758.6 287.8,760.2 287.8,761.8 287.8,763.4 287.8,765.0 287.8,766.7 287.8,768.3 287.8,769.9 287.8,771.5 287.8,773.1 287.8,774.7 287.8,776.3 287.8,777.9 287.8,779.5 287.8,781.1 287.8,782.7 287.8,784.3 287.8,785.9 287.8,787.5 287.8,789.1 287.8,790.8 287.8,792.4 287.8,794.0 287.8,795.6 287.8,797.2 287.8,798.8 287.8,800.4 287.8,802.0 288.9,804.2 290.8,805.4 293.3,805.7 294.1,806.1 296.9,806.6 298.1,807.3 299.8,807.5 302.5,808.2 303.8,808.5 303.9,809.6 306.4,809.6 307.3,810.7 309.5,810.8 311.2,811.5 312.9,811.8 314.2,812.6 316.6,812.6 317.4,813.0 319.5,813.3 317.3,814.7 315.6,815.4 314.7,815.1 313.4,815.3 310.7,816.2 312.9,817.7 315.7,817.6 316.4,818.4 318.1,818.3 320.8,818.4 321.6,819.0 322.4,819.8 324.7,820.1 327.1,820.5 328.2,822.3 327.1,823.0 324.9,823.8 323.2,824.1 321.2,824.6 319.8,824.7 317.3,824.9 316.3,825.0 313.5,825.0 312.9,825.7 310.7,825.6 309.2,826.1 307.5,827.5 306.0,829.0 305.3,830.4 303.8,831.5 302.0,832.5 299.8,834.7 297.6,836.9 296.7,838.2 294.4,839.1 292.2,841.3 290.0,843.5 288.9,844.5" fill="none" stroke="#f6a83a" stroke-width="1.55" stroke-linejoin="round"/>
<polyline points="404.8,704.0 404.8,705.6 404.8,707.2 404.8,708.8 404.8,710.5 404.8,712.1 404.8,713.7 404.8,715.3 404.8,716.9 404.8,718.5 404.8,720.1 404.8,721.8 404.8,723.4 404.8,725.0 404.8,726.6 404.8,728.2 404.8,729.8 404.8,731.4 404.8,733.0 404.8,734.7 404.8,736.3 404.8,737.9 404.8,739.5 404.8,741.1 404.8,742.7 404.8,744.3 404.8,746.0 404.8,747.6 404.8,749.2 404.8,750.8 404.8,752.4 404.8,754.0 404.8,755.6 404.8,757.3 404.8,758.9 404.8,760.5 404.8,762.1 404.8,763.7 404.8,765.3 404.8,766.9 404.8,768.5 404.8,770.2 404.8,771.8 404.8,773.4 404.8,775.0 404.8,776.6 404.8,778.2 404.8,779.8 404.8,781.5 404.8,783.1 404.8,784.7 404.8,786.3 404.8,787.9 404.8,789.5 404.8,791.1 404.8,792.8 404.8,794.4 405.5,796.5 405.7,798.2 405.9,799.8 406.5,802.0 407.0,804.2 407.5,805.8 408.1,807.5 408.2,809.2 410.3,810.7 410.8,812.2 413.3,814.0 413.5,815.1 415.5,816.4 416.2,818.1 417.9,819.5 418.7,820.5 421.2,821.8 422.3,822.7 423.7,823.9 425.5,824.9 427.7,826.7 425.5,828.2 425.0,829.0 421.4,829.7 421.2,830.4 421.4,831.9 421.2,833.6 420.1,835.0 419.0,836.9 418.8,838.4 416.4,839.7 415.8,840.8 414.6,842.4 410.6,842.3 410.3,843.5 409.5,843.6 405.9,844.1" fill="none" stroke="#f6a83a" stroke-width="1.55" stroke-linejoin="round"/>
<polyline points="54.0,856.0 54.0,905.1 54.2,906.2 57.1,907.7 87.6,909.0 131.3,911.6 148.7,912.7 152.4,914.5 148.7,916.0 131.3,917.5 87.6,919.3 57.1,921.0 54.2,922.5 54.0,924.0 54.0,974.0" fill="none" stroke="#4a89ab" stroke-width="1.55" stroke-linejoin="round"/>
<polyline points="170.8,856.0 170.8,857.6 170.8,859.2 170.8,860.9 170.8,862.5 170.8,864.1 170.8,865.7 170.8,867.3 170.8,868.9 170.8,870.6 170.8,872.2 170.8,873.8 170.8,875.4 170.8,877.0 170.8,878.7 170.8,880.3 170.8,881.9 170.8,883.5 170.8,885.1 170.8,886.7 170.8,888.4 170.8,890.0 170.8,891.6 170.8,893.2 170.8,894.8 171.9,896.4 173.5,897.5 175.2,898.5 176.8,899.2 178.6,899.8 180.6,900.1 181.6,900.5 182.4,900.8 186.0,901.0 187.2,901.2 189.0,901.7 191.1,902.2 191.4,902.7 193.7,902.9 194.9,903.3 197.2,903.7 199.0,904.1 200.7,904.2 203.6,904.8 204.6,905.1 206.6,905.8 207.2,906.4 208.8,906.8 211.2,907.3 212.7,907.9 214.9,908.4 215.5,909.1 217.7,909.5 220.7,910.1 222.1,910.5 225.0,911.1 226.5,912.3 229.1,913.2 228.4,914.6 227.6,916.0 224.5,916.8 224.3,917.5 222.5,917.7 220.1,918.4 218.8,918.8 217.7,920.4 218.8,921.9 217.6,922.4 215.5,922.5 213.1,922.6 211.9,923.1 210.2,923.3 209.0,923.6 207.8,924.1 205.6,924.1 203.4,924.8 202.6,925.3 200.3,925.4 197.4,925.8 195.9,926.5 193.3,926.1 191.7,926.5 191.7,927.2 188.5,927.4 187.2,927.6 185.7,928.2 184.2,928.5 182.3,928.8 181.2,929.0 178.5,929.1 177.0,930.1 175.3,930.9 174.1,931.3 173.0,932.7 171.9,934.1 170.8,936.7 170.8,938.4 170.8,940.0 170.8,941.6 170.8,943.2 170.8,944.8 170.8,946.5 170.8,948.1 170.8,949.7 170.8,951.3 170.8,952.9 170.8,954.6 170.8,956.2 170.8,957.8 170.8,959.4 170.8,961.0 170.8,962.7 170.8,964.3 170.8,965.9 170.8,967.5 170.8,969.1 170.8,970.8 170.8,972.4 170.8,974.0" fill="none" stroke="#4a89ab" stroke-width="1.55" stroke-linejoin="round"/>
<polyline points="287.8,856.0 287.8,857.6 287.8,859.3 287.8,860.9 287.8,862.5 287.8,864.1 287.8,865.8 287.8,867.4 287.8,869.0 287.8,870.7 287.8,872.3 287.8,873.9 287.8,875.5 287.8,877.2 287.8,878.8 287.8,880.4 287.8,882.1 287.8,883.7 287.8,885.3 287.8,886.9 287.8,888.6 287.8,890.2 287.8,891.8 288.9,893.6 290.5,894.3 292.2,895.1 293.6,896.0 295.5,897.3 298.4,898.0 298.7,898.8 301.0,899.1 303.1,899.9 303.7,901.0 305.3,902.3 306.4,903.1 308.4,903.0 310.7,903.8 313.3,904.6 312.7,904.9 316.2,905.6 318.4,906.7 317.3,908.8 319.5,910.4 321.6,911.2 322.2,912.2 323.8,913.2 323.7,913.7 327.3,915.0 328.2,915.4 326.0,915.9 323.8,916.5 322.0,917.1 319.5,917.6 318.4,919.1 316.9,919.1 314.8,919.6 312.9,919.7 315.1,921.3 313.7,921.3 312.0,922.0 309.6,922.4 307.5,923.5 309.8,923.6 311.8,924.5 309.6,926.3 307.9,926.8 304.2,928.1 304.2,928.9 302.4,929.7 300.7,930.4 298.7,931.1 297.7,932.0 296.3,933.1 293.3,933.3 291.1,935.5 290.0,937.6 288.9,939.4 287.8,940.9 287.8,942.6 287.8,944.2 287.8,945.9 287.8,947.5 287.8,949.2 287.8,950.8 287.8,952.5 287.8,954.1 287.8,955.8 287.8,957.5 287.8,959.1 287.8,960.8 287.8,962.4 287.8,964.1 287.8,965.7 287.8,967.4 287.8,969.0 287.8,970.7 287.8,972.3 287.8,974.0" fill="none" stroke="#4a89ab" stroke-width="1.55" stroke-linejoin="round"/>
<polyline points="404.8,856.0 404.8,857.8 404.8,859.5 404.8,861.3 404.8,863.0 404.8,864.8 404.8,866.5 404.8,868.3 404.8,870.1 404.8,871.8 405.1,874.0 405.5,876.2 405.7,877.8 405.9,879.5 406.1,881.1 406.3,882.7 407.2,884.9 408.1,887.1 410.3,888.9 411.4,890.4 414.4,891.3 414.6,892.5 416.8,894.7 417.2,896.4 417.9,898.0 417.9,899.9 420.1,901.3 422.0,902.5 421.0,904.4 422.3,905.6 424.3,906.9 424.5,908.9 425.4,910.5 425.5,912.2 425.4,913.7 427.7,915.5 425.5,917.6 424.1,919.0 423.4,920.3 422.3,921.6 421.2,923.1 420.0,924.7 419.0,926.4 418.8,928.2 417.9,929.6 418.6,931.2 415.7,932.5 413.5,934.0 411.4,936.2 410.9,937.6 409.2,939.5 407.9,941.0 407.7,942.7 406.8,944.9 405.9,947.1 405.6,948.7 405.3,950.4 405.0,952.6 404.8,954.7 404.8,956.4 404.8,958.0 404.8,959.6 404.8,961.3 404.8,962.9 404.8,964.6 404.8,966.2 404.8,967.8 404.8,969.5 404.8,971.1 404.8,972.7 404.8,974.4" fill="none" stroke="#4a89ab" stroke-width="1.55" stroke-linejoin="round"/>
<g font-family='"Liberation Sans", sans-serif' font-size="10.6" fill="#303030" stroke="#303030" stroke-width="0.15"><text x="55.3" y="861.8" text-anchor="middle">0</text><text x="55.3" y="1001.9" text-anchor="middle">0</text><text x="79.7" y="861.8" text-anchor="middle">0.25</text><text x="79.7" y="1001.9" text-anchor="middle">0.25</text><text x="104.0" y="861.8" text-anchor="middle">0.5</text><text x="104.0" y="1001.9" text-anchor="middle">0.5</text><text x="128.4" y="861.8" text-anchor="middle">0.75</text><text x="128.4" y="1001.9" text-anchor="middle">0.75</text><text x="152.8" y="861.8" text-anchor="middle">1</text><text x="152.8" y="1001.9" text-anchor="middle">1</text><text x="172.3" y="861.8" text-anchor="middle">0</text><text x="172.3" y="1001.9" text-anchor="middle">0</text><text x="196.7" y="861.8" text-anchor="middle">0.25</text><text x="196.7" y="1001.9" text-anchor="middle">0.25</text><text x="221.1" y="861.8" text-anchor="middle">0.5</text><text x="221.1" y="1001.9" text-anchor="middle">0.5</text><text x="245.5" y="861.8" text-anchor="middle">0.75</text><text x="245.5" y="1001.9" text-anchor="middle">0.75</text><text x="269.8" y="861.8" text-anchor="middle">1</text><text x="269.8" y="1001.9" text-anchor="middle">1</text><text x="289.4" y="861.8" text-anchor="middle">0</text><text x="289.4" y="1001.9" text-anchor="middle">0</text><text x="313.7" y="861.8" text-anchor="middle">0.25</text><text x="313.7" y="1001.9" text-anchor="middle">0.25</text><text x="338.1" y="861.8" text-anchor="middle">0.5</text><text x="338.1" y="1001.9" text-anchor="middle">0.5</text><text x="362.5" y="861.8" text-anchor="middle">0.75</text><text x="362.5" y="1001.9" text-anchor="middle">0.75</text><text x="386.9" y="861.8" text-anchor="middle">1</text><text x="386.9" y="1001.9" text-anchor="middle">1</text><text x="406.4" y="861.8" text-anchor="middle">0</text><text x="406.4" y="1001.9" text-anchor="middle">0</text><text x="430.8" y="861.8" text-anchor="middle">0.25</text><text x="430.8" y="1001.9" text-anchor="middle">0.25</text><text x="455.1" y="861.8" text-anchor="middle">0.5</text><text x="455.1" y="1001.9" text-anchor="middle">0.5</text><text x="479.5" y="861.8" text-anchor="middle">0.75</text><text x="479.5" y="1001.9" text-anchor="middle">0.75</text><text x="503.9" y="861.8" text-anchor="middle">1</text><text x="503.9" y="1001.9" text-anchor="middle">1</text><text x="39.5" y="848.7" text-anchor="end">0</text><text x="39.5" y="832.2" text-anchor="end">2</text><text x="39.5" y="815.7" text-anchor="end">4</text><text x="39.5" y="799.2" text-anchor="end">6</text><text x="39.5" y="782.7" text-anchor="end">8</text><text x="39.5" y="766.2" text-anchor="end">10</text><text x="39.5" y="749.7" text-anchor="end">12</text><text x="39.5" y="733.2" text-anchor="end">14</text><text x="39.5" y="716.7" text-anchor="end">16</text><text x="39.5" y="974.9" text-anchor="end">-6</text><text x="39.5" y="956.1" text-anchor="end">-4</text><text x="39.5" y="937.3" text-anchor="end">-2</text><text x="39.5" y="918.5" text-anchor="end">0</text><text x="39.5" y="899.7" text-anchor="end">2</text><text x="39.5" y="880.9" text-anchor="end">4</text><text x="39.5" y="862.1" text-anchor="end">6</text></g>
<g font-family='"Liberation Sans", sans-serif' font-size="11.2" fill="#303030" stroke="#303030" stroke-width="0.35"><text x="102.8" y="881.5" text-anchor="middle">C</text><text x="102.8" y="1021.8" text-anchor="middle">C</text><text x="219.8" y="881.5" text-anchor="middle">C</text><text x="219.8" y="1021.8" text-anchor="middle">C</text><text x="336.8" y="881.5" text-anchor="middle">C</text><text x="336.8" y="1021.8" text-anchor="middle">C</text><text x="453.8" y="881.5" text-anchor="middle">C</text><text x="453.8" y="1021.8" text-anchor="middle">C</text></g>
<g font-family='"Liberation Sans", sans-serif' font-size="12.5" font-style="italic" fill="#222" stroke="#222" stroke-width="0.35"><text x="106.5" y="695.3" text-anchor="middle">x/d = 1</text><text x="223.5" y="695.3" text-anchor="middle">x/d = 5</text><text x="340.6" y="695.3" text-anchor="middle">x/d = 8</text><text x="457.6" y="695.3" text-anchor="middle">x/d = 20</text></g>
<text transform="translate(17.6,774.6) rotate(-90)" text-anchor="middle" font-family='"Liberation Sans", sans-serif' font-size="11.8" fill="#303030">z/d</text>
<text transform="translate(21.6,915.2) rotate(-90)" text-anchor="middle" font-family='"Liberation Sans", sans-serif' font-size="10.6" fill="#303030">y/d</text>
<text transform="translate(278.6,1036.1) scale(0.96,1)" text-anchor="middle" font-family='"Liberation Serif", serif' font-size="23" fill="#111">(b)</text>
</svg>
</body></html>
